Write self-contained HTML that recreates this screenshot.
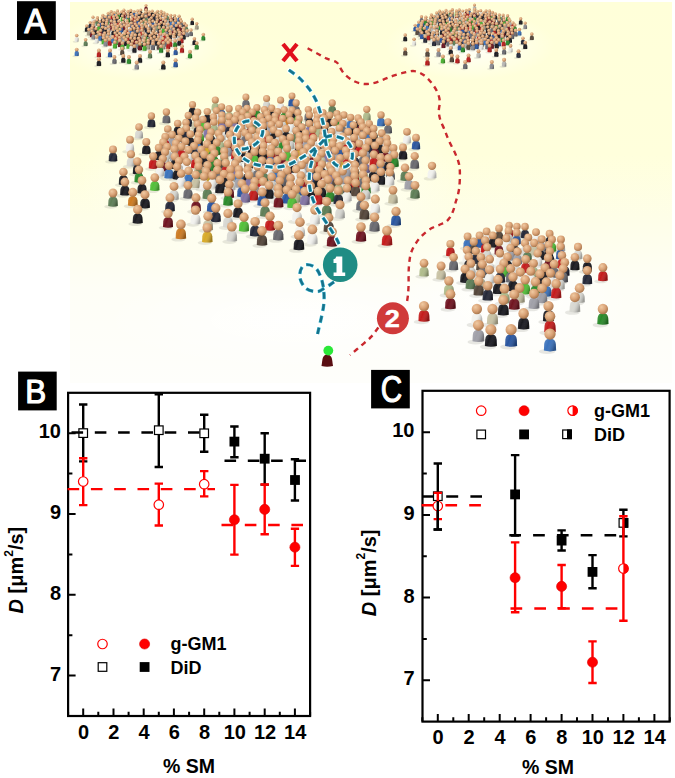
<!DOCTYPE html>
<html><head><meta charset="utf-8"><style>
html,body{margin:0;padding:0;background:#fff;width:675px;height:778px;overflow:hidden}
svg{display:block}
svg text{font-family:"Liberation Sans",sans-serif}
</style></head><body>
<svg width="675" height="778" viewBox="0 0 675 778">
<defs><linearGradient id="bg" x1="0" y1="0" x2="0" y2="1"><stop offset="0" stop-color="#ffffd9"/><stop offset="0.4" stop-color="#ffffdc"/><stop offset="0.57" stop-color="#fefee8"/><stop offset="0.75" stop-color="#fefef6"/><stop offset="1" stop-color="#fefefb"/></linearGradient><radialGradient id="sk" cx="0.36" cy="0.32" r="0.72"><stop offset="0" stop-color="#f0caa2"/><stop offset="0.55" stop-color="#d9a276"/><stop offset="1" stop-color="#a6744a"/></radialGradient><radialGradient id="fl" cx="0.5" cy="0.5" r="0.5"><stop offset="0" stop-color="#fff" stop-opacity="0.9"/><stop offset="1" stop-color="#fff" stop-opacity="0"/></radialGradient><linearGradient id="bs" x1="0" y1="0" x2="1" y2="0.4"><stop offset="0" stop-color="#fff" stop-opacity="0.18"/><stop offset="0.45" stop-color="#fff" stop-opacity="0"/><stop offset="1" stop-color="#000" stop-opacity="0.28"/></linearGradient><path id="pb" d="M-5.2 0L-4.9-5.6Q-4.5-10 0-10.2Q4.5-10 4.9-5.6L5.2 0Q0 1.4-5.2 0Z"/><path id="qb" d="M-4.6 0L-4.4-6.5Q-4-10.6 0-10.8Q4-10.6 4.4-6.5L4.6 0Q0 1.2-4.6 0Z"/><g id="p"><use href="#pb"/><use href="#pb" fill="url(#bs)"/><circle cy="-14" r="4.8" fill="url(#sk)"/></g><g id="q"><use href="#qb"/><use href="#qb" fill="url(#bs)"/><circle cy="-13.6" r="4.1" fill="url(#sk)"/></g><filter id="sf" x="-5%" y="-5%" width="110%" height="110%"><feGaussianBlur stdDeviation="0.35"/></filter><clipPath id="pa"><rect x="70" y="2" width="602" height="381"/></clipPath></defs>
<g clip-path="url(#pa)">
<rect x="70" y="2" width="602" height="381" fill="url(#bg)"/>
<ellipse cx="140" cy="45" rx="85" ry="35" fill="url(#fl)"/>
<ellipse cx="470" cy="45" rx="85" ry="35" fill="url(#fl)"/>
<ellipse cx="270" cy="180" rx="190" ry="90" fill="url(#fl)"/>
<ellipse cx="510" cy="300" rx="120" ry="70" fill="url(#fl)"/>
<ellipse cx="300" cy="320" rx="200" ry="50" fill="url(#fl)"/>
<g filter="url(#sf)"><g fill="#8a8a80" fill-opacity="0.2"><ellipse cx="473.6" cy="10.3" rx="2.6" ry="0.8"/><ellipse cx="145.1" cy="10.8" rx="2.6" ry="0.8"/><ellipse cx="473.8" cy="14.9" rx="2.7" ry="0.8"/><ellipse cx="468.4" cy="15.0" rx="2.7" ry="0.8"/><ellipse cx="451.4" cy="15.1" rx="2.7" ry="0.8"/><ellipse cx="145.3" cy="15.4" rx="2.7" ry="0.8"/><ellipse cx="458.4" cy="15.4" rx="2.7" ry="0.8"/><ellipse cx="139.9" cy="15.5" rx="2.7" ry="0.8"/><ellipse cx="122.9" cy="15.6" rx="2.7" ry="0.8"/><ellipse cx="445.0" cy="15.9" rx="2.7" ry="0.8"/><ellipse cx="465.3" cy="15.9" rx="2.7" ry="0.8"/><ellipse cx="129.9" cy="15.9" rx="2.7" ry="0.8"/><ellipse cx="479.8" cy="16.1" rx="2.7" ry="0.8"/><ellipse cx="485.1" cy="16.2" rx="2.7" ry="0.8"/><ellipse cx="116.5" cy="16.4" rx="2.7" ry="0.8"/><ellipse cx="455.4" cy="16.4" rx="2.7" ry="0.8"/><ellipse cx="136.8" cy="16.4" rx="2.7" ry="0.8"/><ellipse cx="488.7" cy="16.5" rx="2.7" ry="0.8"/><ellipse cx="461.8" cy="16.6" rx="2.7" ry="0.8"/><ellipse cx="151.3" cy="16.6" rx="2.7" ry="0.8"/><ellipse cx="156.6" cy="16.7" rx="2.7" ry="0.8"/><ellipse cx="438.7" cy="16.8" rx="2.7" ry="0.8"/><ellipse cx="449.1" cy="16.9" rx="2.7" ry="0.8"/><ellipse cx="476.7" cy="16.9" rx="2.7" ry="0.8"/><ellipse cx="126.9" cy="16.9" rx="2.7" ry="0.8"/><ellipse cx="160.2" cy="17.0" rx="2.7" ry="0.8"/><ellipse cx="133.3" cy="17.1" rx="2.7" ry="0.8"/><ellipse cx="110.2" cy="17.3" rx="2.7" ry="0.8"/><ellipse cx="120.6" cy="17.4" rx="2.7" ry="0.8"/><ellipse cx="148.2" cy="17.4" rx="2.7" ry="0.8"/><ellipse cx="473.3" cy="17.4" rx="2.7" ry="0.9"/><ellipse cx="441.8" cy="17.8" rx="2.7" ry="0.9"/><ellipse cx="144.8" cy="17.9" rx="2.7" ry="0.9"/><ellipse cx="491.5" cy="18.0" rx="2.7" ry="0.9"/><ellipse cx="482.9" cy="18.1" rx="2.7" ry="0.9"/><ellipse cx="467.0" cy="18.2" rx="2.7" ry="0.9"/><ellipse cx="113.3" cy="18.3" rx="2.7" ry="0.9"/><ellipse cx="451.3" cy="18.5" rx="2.7" ry="0.9"/><ellipse cx="445.8" cy="18.5" rx="2.7" ry="0.9"/><ellipse cx="163.0" cy="18.5" rx="2.7" ry="0.9"/><ellipse cx="435.8" cy="18.5" rx="2.7" ry="0.9"/><ellipse cx="154.4" cy="18.6" rx="2.7" ry="0.9"/><ellipse cx="138.5" cy="18.7" rx="2.7" ry="0.9"/><ellipse cx="122.8" cy="19.0" rx="2.7" ry="0.9"/><ellipse cx="117.3" cy="19.0" rx="2.7" ry="0.9"/><ellipse cx="488.2" cy="19.0" rx="2.7" ry="0.9"/><ellipse cx="107.3" cy="19.0" rx="2.7" ry="0.9"/><ellipse cx="470.3" cy="19.1" rx="2.7" ry="0.9"/><ellipse cx="459.0" cy="19.2" rx="2.7" ry="0.9"/><ellipse cx="455.6" cy="19.3" rx="2.7" ry="0.9"/><ellipse cx="439.6" cy="19.4" rx="2.7" ry="0.9"/><ellipse cx="159.7" cy="19.5" rx="2.7" ry="0.9"/><ellipse cx="494.5" cy="19.6" rx="2.7" ry="0.9"/><ellipse cx="141.8" cy="19.6" rx="2.7" ry="0.9"/><ellipse cx="477.0" cy="19.7" rx="2.7" ry="0.9"/><ellipse cx="130.5" cy="19.7" rx="2.7" ry="0.9"/><ellipse cx="485.0" cy="19.7" rx="2.7" ry="0.9"/><ellipse cx="127.1" cy="19.8" rx="2.7" ry="0.9"/><ellipse cx="111.1" cy="19.9" rx="2.7" ry="0.9"/><ellipse cx="463.7" cy="19.9" rx="2.7" ry="0.9"/><ellipse cx="166.0" cy="20.1" rx="2.7" ry="0.9"/><ellipse cx="148.5" cy="20.2" rx="2.7" ry="0.9"/><ellipse cx="156.5" cy="20.2" rx="2.7" ry="0.9"/><ellipse cx="480.8" cy="20.4" rx="2.8" ry="0.9"/><ellipse cx="135.2" cy="20.4" rx="2.7" ry="0.9"/><ellipse cx="430.4" cy="20.4" rx="2.8" ry="0.9"/><ellipse cx="498.3" cy="20.5" rx="2.8" ry="0.9"/><ellipse cx="443.8" cy="20.5" rx="2.8" ry="0.9"/><ellipse cx="490.9" cy="20.6" rx="2.8" ry="0.9"/><ellipse cx="502.1" cy="20.6" rx="2.8" ry="0.9"/><ellipse cx="152.3" cy="20.9" rx="2.8" ry="0.9"/><ellipse cx="101.9" cy="20.9" rx="2.8" ry="0.9"/><ellipse cx="169.8" cy="21.0" rx="2.8" ry="0.9"/><ellipse cx="115.3" cy="21.0" rx="2.8" ry="0.9"/><ellipse cx="449.9" cy="21.0" rx="2.8" ry="0.9"/><ellipse cx="162.4" cy="21.1" rx="2.8" ry="0.9"/><ellipse cx="173.6" cy="21.1" rx="2.8" ry="0.9"/><ellipse cx="487.5" cy="21.1" rx="2.8" ry="0.9"/><ellipse cx="469.5" cy="21.3" rx="2.8" ry="0.9"/><ellipse cx="506.6" cy="21.4" rx="2.8" ry="0.9"/><ellipse cx="460.1" cy="21.4" rx="2.8" ry="0.9"/><ellipse cx="121.4" cy="21.5" rx="2.8" ry="0.9"/><ellipse cx="473.4" cy="21.6" rx="2.8" ry="0.9"/><ellipse cx="159.0" cy="21.6" rx="2.8" ry="0.9"/><ellipse cx="141.0" cy="21.8" rx="2.8" ry="0.9"/><ellipse cx="178.1" cy="21.9" rx="2.8" ry="0.9"/><ellipse cx="131.6" cy="21.9" rx="2.8" ry="0.9"/><ellipse cx="441.1" cy="22.0" rx="2.8" ry="0.9"/><ellipse cx="455.7" cy="22.1" rx="2.8" ry="0.9"/><ellipse cx="144.9" cy="22.1" rx="2.8" ry="0.9"/><ellipse cx="433.0" cy="22.1" rx="2.8" ry="0.9"/><ellipse cx="484.6" cy="22.2" rx="2.8" ry="0.9"/><ellipse cx="420.5" cy="22.3" rx="2.7" ry="0.9"/><ellipse cx="112.6" cy="22.5" rx="2.8" ry="0.9"/><ellipse cx="436.8" cy="22.6" rx="2.8" ry="0.9"/><ellipse cx="127.2" cy="22.6" rx="2.8" ry="0.9"/><ellipse cx="104.5" cy="22.6" rx="2.8" ry="0.9"/><ellipse cx="493.1" cy="22.6" rx="2.8" ry="0.9"/><ellipse cx="156.1" cy="22.7" rx="2.8" ry="0.9"/><ellipse cx="466.4" cy="22.7" rx="2.8" ry="0.9"/><ellipse cx="92.0" cy="22.8" rx="2.7" ry="0.9"/><ellipse cx="462.9" cy="22.8" rx="2.8" ry="0.9"/><ellipse cx="424.9" cy="22.9" rx="2.8" ry="0.9"/><ellipse cx="445.0" cy="23.1" rx="2.8" ry="0.9"/><ellipse cx="108.3" cy="23.1" rx="2.8" ry="0.9"/><ellipse cx="478.9" cy="23.1" rx="2.8" ry="0.9"/><ellipse cx="164.6" cy="23.1" rx="2.8" ry="0.9"/><ellipse cx="497.9" cy="23.2" rx="2.8" ry="0.9"/><ellipse cx="429.6" cy="23.2" rx="2.8" ry="0.9"/><ellipse cx="137.9" cy="23.2" rx="2.8" ry="0.9"/><ellipse cx="134.4" cy="23.3" rx="2.8" ry="0.9"/><ellipse cx="96.4" cy="23.4" rx="2.8" ry="0.9"/><ellipse cx="116.5" cy="23.6" rx="2.8" ry="0.9"/><ellipse cx="150.4" cy="23.6" rx="2.8" ry="0.9"/><ellipse cx="488.2" cy="23.6" rx="2.8" ry="0.9"/><ellipse cx="502.7" cy="23.6" rx="2.8" ry="0.9"/><ellipse cx="169.4" cy="23.7" rx="2.8" ry="0.9"/><ellipse cx="101.1" cy="23.7" rx="2.8" ry="0.9"/><ellipse cx="159.7" cy="24.1" rx="2.8" ry="0.9"/><ellipse cx="174.2" cy="24.1" rx="2.8" ry="0.9"/><ellipse cx="441.8" cy="24.2" rx="2.8" ry="0.9"/><ellipse cx="450.9" cy="24.3" rx="2.8" ry="0.9"/><ellipse cx="507.8" cy="24.4" rx="2.8" ry="0.9"/><ellipse cx="459.0" cy="24.4" rx="2.8" ry="0.9"/><ellipse cx="519.7" cy="24.5" rx="2.8" ry="0.9"/><ellipse cx="491.3" cy="24.6" rx="2.8" ry="0.9"/><ellipse cx="113.3" cy="24.7" rx="2.8" ry="0.9"/><ellipse cx="122.4" cy="24.8" rx="2.8" ry="0.9"/><ellipse cx="465.0" cy="24.9" rx="2.8" ry="0.9"/><ellipse cx="179.3" cy="24.9" rx="2.8" ry="0.9"/><ellipse cx="130.5" cy="24.9" rx="2.8" ry="0.9"/><ellipse cx="484.9" cy="24.9" rx="2.8" ry="0.9"/><ellipse cx="191.2" cy="25.0" rx="2.8" ry="0.9"/><ellipse cx="476.9" cy="25.1" rx="2.8" ry="0.9"/><ellipse cx="434.4" cy="25.1" rx="2.8" ry="0.9"/><ellipse cx="471.4" cy="25.1" rx="2.8" ry="0.9"/><ellipse cx="162.8" cy="25.1" rx="2.8" ry="0.9"/><ellipse cx="424.4" cy="25.2" rx="2.8" ry="0.9"/><ellipse cx="136.5" cy="25.4" rx="2.8" ry="0.9"/><ellipse cx="156.4" cy="25.4" rx="2.8" ry="0.9"/><ellipse cx="148.4" cy="25.6" rx="2.8" ry="0.9"/><ellipse cx="105.9" cy="25.6" rx="2.8" ry="0.9"/><ellipse cx="498.5" cy="25.6" rx="2.8" ry="0.9"/><ellipse cx="142.9" cy="25.6" rx="2.8" ry="0.9"/><ellipse cx="95.9" cy="25.7" rx="2.8" ry="0.9"/><ellipse cx="430.9" cy="25.8" rx="2.8" ry="0.9"/><ellipse cx="502.9" cy="25.8" rx="2.8" ry="0.9"/><ellipse cx="170.0" cy="26.1" rx="2.8" ry="0.9"/><ellipse cx="454.6" cy="26.1" rx="2.8" ry="0.9"/><ellipse cx="102.4" cy="26.3" rx="2.8" ry="0.9"/><ellipse cx="174.4" cy="26.3" rx="2.8" ry="0.9"/><ellipse cx="462.5" cy="26.4" rx="2.8" ry="0.9"/><ellipse cx="480.3" cy="26.4" rx="2.8" ry="0.9"/><ellipse cx="493.0" cy="26.5" rx="2.8" ry="0.9"/><ellipse cx="438.8" cy="26.6" rx="2.8" ry="0.9"/><ellipse cx="126.1" cy="26.6" rx="2.8" ry="0.9"/><ellipse cx="508.8" cy="26.6" rx="2.8" ry="0.9"/><ellipse cx="446.3" cy="26.7" rx="2.8" ry="0.9"/><ellipse cx="468.8" cy="26.7" rx="2.8" ry="0.9"/><ellipse cx="134.0" cy="26.9" rx="2.8" ry="0.9"/><ellipse cx="151.8" cy="26.9" rx="2.8" ry="0.9"/><ellipse cx="427.3" cy="27.0" rx="2.9" ry="0.9"/><ellipse cx="164.5" cy="27.0" rx="2.8" ry="0.9"/><ellipse cx="110.3" cy="27.1" rx="2.8" ry="0.9"/><ellipse cx="180.3" cy="27.1" rx="2.8" ry="0.9"/><ellipse cx="117.8" cy="27.2" rx="2.8" ry="0.9"/><ellipse cx="421.4" cy="27.2" rx="2.9" ry="0.9"/><ellipse cx="140.3" cy="27.2" rx="2.8" ry="0.9"/><ellipse cx="484.2" cy="27.3" rx="2.9" ry="0.9"/><ellipse cx="473.4" cy="27.3" rx="2.9" ry="0.9"/><ellipse cx="434.1" cy="27.3" rx="2.9" ry="0.9"/><ellipse cx="442.1" cy="27.4" rx="2.9" ry="0.9"/><ellipse cx="98.8" cy="27.5" rx="2.9" ry="0.9"/><ellipse cx="92.9" cy="27.7" rx="2.9" ry="0.9"/><ellipse cx="450.6" cy="27.7" rx="2.9" ry="0.9"/><ellipse cx="477.0" cy="27.8" rx="2.9" ry="0.9"/><ellipse cx="488.7" cy="27.8" rx="2.9" ry="0.9"/><ellipse cx="155.7" cy="27.8" rx="2.9" ry="0.9"/><ellipse cx="144.9" cy="27.8" rx="2.9" ry="0.9"/><ellipse cx="105.6" cy="27.8" rx="2.9" ry="0.9"/><ellipse cx="113.6" cy="27.9" rx="2.9" ry="0.9"/><ellipse cx="417.6" cy="28.0" rx="2.9" ry="0.9"/><ellipse cx="122.1" cy="28.2" rx="2.9" ry="0.9"/><ellipse cx="148.5" cy="28.3" rx="2.9" ry="0.9"/><ellipse cx="160.2" cy="28.3" rx="2.9" ry="0.9"/><ellipse cx="454.7" cy="28.3" rx="2.9" ry="0.9"/><ellipse cx="89.1" cy="28.5" rx="2.9" ry="0.9"/><ellipse cx="458.9" cy="28.6" rx="2.9" ry="0.9"/><ellipse cx="506.4" cy="28.6" rx="2.9" ry="0.9"/><ellipse cx="500.7" cy="28.8" rx="2.9" ry="0.9"/><ellipse cx="512.0" cy="28.8" rx="2.9" ry="0.9"/><ellipse cx="126.2" cy="28.8" rx="2.9" ry="0.9"/><ellipse cx="466.8" cy="29.0" rx="2.9" ry="0.9"/><ellipse cx="524.2" cy="29.0" rx="2.8" ry="0.9"/><ellipse cx="130.4" cy="29.1" rx="2.9" ry="0.9"/><ellipse cx="177.9" cy="29.1" rx="2.9" ry="0.9"/><ellipse cx="491.8" cy="29.2" rx="2.9" ry="0.9"/><ellipse cx="172.2" cy="29.3" rx="2.9" ry="0.9"/><ellipse cx="183.5" cy="29.3" rx="2.9" ry="0.9"/><ellipse cx="429.9" cy="29.3" rx="2.9" ry="0.9"/><ellipse cx="420.7" cy="29.4" rx="2.9" ry="0.9"/><ellipse cx="462.8" cy="29.4" rx="2.9" ry="0.9"/><ellipse cx="138.3" cy="29.5" rx="2.9" ry="0.9"/><ellipse cx="195.7" cy="29.5" rx="2.8" ry="0.9"/><ellipse cx="433.6" cy="29.6" rx="2.9" ry="0.9"/><ellipse cx="495.6" cy="29.7" rx="2.9" ry="0.9"/><ellipse cx="163.3" cy="29.7" rx="2.9" ry="0.9"/><ellipse cx="486.6" cy="29.7" rx="2.9" ry="0.9"/><ellipse cx="101.4" cy="29.8" rx="2.9" ry="0.9"/><ellipse cx="472.4" cy="29.8" rx="2.9" ry="0.9"/><ellipse cx="447.3" cy="29.9" rx="2.9" ry="0.9"/><ellipse cx="92.2" cy="29.9" rx="2.9" ry="0.9"/><ellipse cx="442.9" cy="29.9" rx="2.9" ry="0.9"/><ellipse cx="134.3" cy="29.9" rx="2.9" ry="0.9"/><ellipse cx="477.9" cy="30.0" rx="2.9" ry="0.9"/><ellipse cx="105.1" cy="30.1" rx="2.9" ry="0.9"/><ellipse cx="167.1" cy="30.2" rx="2.9" ry="0.9"/><ellipse cx="158.1" cy="30.2" rx="2.9" ry="0.9"/><ellipse cx="483.1" cy="30.3" rx="2.9" ry="0.9"/><ellipse cx="143.9" cy="30.3" rx="2.9" ry="0.9"/><ellipse cx="118.8" cy="30.4" rx="2.9" ry="0.9"/><ellipse cx="114.4" cy="30.4" rx="2.9" ry="0.9"/><ellipse cx="451.8" cy="30.4" rx="2.9" ry="0.9"/><ellipse cx="439.3" cy="30.4" rx="2.9" ry="0.9"/><ellipse cx="426.1" cy="30.4" rx="2.9" ry="0.9"/><ellipse cx="149.4" cy="30.5" rx="2.9" ry="0.9"/><ellipse cx="154.6" cy="30.8" rx="2.9" ry="0.9"/><ellipse cx="468.8" cy="30.8" rx="2.9" ry="0.9"/><ellipse cx="123.3" cy="30.9" rx="2.9" ry="0.9"/><ellipse cx="110.8" cy="30.9" rx="2.9" ry="0.9"/><ellipse cx="97.6" cy="30.9" rx="2.9" ry="0.9"/><ellipse cx="456.4" cy="31.0" rx="2.9" ry="0.9"/><ellipse cx="503.8" cy="31.1" rx="2.9" ry="0.9"/><ellipse cx="513.7" cy="31.1" rx="2.9" ry="0.9"/><ellipse cx="414.2" cy="31.2" rx="2.9" ry="0.9"/><ellipse cx="140.3" cy="31.3" rx="2.9" ry="0.9"/><ellipse cx="464.3" cy="31.5" rx="2.9" ry="0.9"/><ellipse cx="127.9" cy="31.5" rx="2.9" ry="0.9"/><ellipse cx="507.7" cy="31.6" rx="2.9" ry="0.9"/><ellipse cx="175.3" cy="31.6" rx="2.9" ry="0.9"/><ellipse cx="420.2" cy="31.6" rx="2.9" ry="0.9"/><ellipse cx="185.2" cy="31.6" rx="2.9" ry="0.9"/><ellipse cx="85.7" cy="31.7" rx="2.9" ry="0.9"/><ellipse cx="445.3" cy="31.7" rx="2.9" ry="0.9"/><ellipse cx="480.5" cy="31.9" rx="2.9" ry="0.9"/><ellipse cx="448.9" cy="31.9" rx="2.9" ry="0.9"/><ellipse cx="460.1" cy="31.9" rx="2.9" ry="0.9"/><ellipse cx="135.8" cy="32.0" rx="2.9" ry="0.9"/><ellipse cx="499.0" cy="32.0" rx="2.9" ry="0.9"/><ellipse cx="179.2" cy="32.1" rx="2.9" ry="0.9"/><ellipse cx="91.7" cy="32.1" rx="2.9" ry="0.9"/><ellipse cx="473.9" cy="32.1" rx="2.9" ry="0.9"/><ellipse cx="116.8" cy="32.2" rx="2.9" ry="0.9"/><ellipse cx="152.0" cy="32.4" rx="2.9" ry="0.9"/><ellipse cx="120.4" cy="32.4" rx="2.9" ry="0.9"/><ellipse cx="131.6" cy="32.4" rx="2.9" ry="0.9"/><ellipse cx="436.0" cy="32.5" rx="2.9" ry="0.9"/><ellipse cx="170.5" cy="32.5" rx="2.9" ry="0.9"/><ellipse cx="145.4" cy="32.6" rx="2.9" ry="0.9"/><ellipse cx="453.9" cy="32.7" rx="2.9" ry="0.9"/><ellipse cx="430.0" cy="32.8" rx="2.9" ry="0.9"/><ellipse cx="440.8" cy="32.9" rx="2.9" ry="0.9"/><ellipse cx="491.0" cy="32.9" rx="2.9" ry="0.9"/><ellipse cx="107.5" cy="33.0" rx="2.9" ry="0.9"/><ellipse cx="486.7" cy="33.1" rx="2.9" ry="0.9"/><ellipse cx="125.4" cy="33.2" rx="2.9" ry="0.9"/><ellipse cx="469.5" cy="33.2" rx="2.9" ry="0.9"/><ellipse cx="101.5" cy="33.3" rx="2.9" ry="0.9"/><ellipse cx="112.3" cy="33.4" rx="2.9" ry="0.9"/><ellipse cx="511.5" cy="33.4" rx="2.9" ry="0.9"/><ellipse cx="162.5" cy="33.4" rx="2.9" ry="0.9"/><ellipse cx="495.1" cy="33.5" rx="2.9" ry="0.9"/><ellipse cx="158.2" cy="33.6" rx="2.9" ry="0.9"/><ellipse cx="141.0" cy="33.7" rx="2.9" ry="0.9"/><ellipse cx="419.3" cy="33.8" rx="3.0" ry="0.9"/><ellipse cx="183.0" cy="33.9" rx="2.9" ry="0.9"/><ellipse cx="444.1" cy="33.9" rx="3.0" ry="0.9"/><ellipse cx="433.2" cy="33.9" rx="3.0" ry="0.9"/><ellipse cx="166.6" cy="34.0" rx="2.9" ry="0.9"/><ellipse cx="465.3" cy="34.1" rx="3.0" ry="0.9"/><ellipse cx="461.7" cy="34.1" rx="3.0" ry="0.9"/><ellipse cx="423.4" cy="34.2" rx="3.0" ry="0.9"/><ellipse cx="90.8" cy="34.3" rx="3.0" ry="0.9"/><ellipse cx="475.6" cy="34.4" rx="3.0" ry="0.9"/><ellipse cx="115.6" cy="34.4" rx="3.0" ry="0.9"/><ellipse cx="104.7" cy="34.4" rx="3.0" ry="0.9"/><ellipse cx="481.5" cy="34.5" rx="3.0" ry="0.9"/><ellipse cx="136.8" cy="34.6" rx="3.0" ry="0.9"/><ellipse cx="133.2" cy="34.6" rx="3.0" ry="0.9"/><ellipse cx="501.3" cy="34.6" rx="3.0" ry="0.9"/><ellipse cx="94.9" cy="34.7" rx="3.0" ry="0.9"/><ellipse cx="447.5" cy="34.8" rx="3.0" ry="0.9"/><ellipse cx="147.1" cy="34.9" rx="3.0" ry="0.9"/><ellipse cx="454.1" cy="34.9" rx="3.0" ry="0.9"/><ellipse cx="458.3" cy="35.0" rx="3.0" ry="0.9"/><ellipse cx="153.0" cy="35.0" rx="3.0" ry="0.9"/><ellipse cx="172.8" cy="35.1" rx="3.0" ry="0.9"/><ellipse cx="440.7" cy="35.2" rx="3.0" ry="0.9"/><ellipse cx="416.2" cy="35.2" rx="3.0" ry="0.9"/><ellipse cx="119.0" cy="35.3" rx="3.0" ry="0.9"/><ellipse cx="125.6" cy="35.4" rx="3.0" ry="0.9"/><ellipse cx="129.8" cy="35.5" rx="3.0" ry="0.9"/><ellipse cx="505.6" cy="35.6" rx="3.0" ry="0.9"/><ellipse cx="518.4" cy="35.6" rx="2.9" ry="0.9"/><ellipse cx="112.2" cy="35.7" rx="3.0" ry="0.9"/><ellipse cx="87.7" cy="35.7" rx="3.0" ry="0.9"/><ellipse cx="493.5" cy="35.8" rx="3.0" ry="0.9"/><ellipse cx="469.3" cy="36.0" rx="3.0" ry="0.9"/><ellipse cx="177.1" cy="36.1" rx="3.0" ry="0.9"/><ellipse cx="189.9" cy="36.1" rx="2.9" ry="0.9"/><ellipse cx="510.7" cy="36.2" rx="3.0" ry="0.9"/><ellipse cx="428.1" cy="36.2" rx="3.0" ry="0.9"/><ellipse cx="165.0" cy="36.3" rx="3.0" ry="0.9"/><ellipse cx="140.8" cy="36.5" rx="3.0" ry="0.9"/><ellipse cx="514.6" cy="36.6" rx="3.0" ry="0.9"/><ellipse cx="487.7" cy="36.6" rx="3.0" ry="0.9"/><ellipse cx="182.2" cy="36.7" rx="3.0" ry="0.9"/><ellipse cx="99.6" cy="36.7" rx="3.0" ry="0.9"/><ellipse cx="445.0" cy="36.8" rx="3.0" ry="0.9"/><ellipse cx="464.9" cy="36.8" rx="3.0" ry="0.9"/><ellipse cx="480.8" cy="36.8" rx="3.0" ry="0.9"/><ellipse cx="435.8" cy="36.9" rx="3.0" ry="0.9"/><ellipse cx="419.3" cy="36.9" rx="3.0" ry="0.9"/><ellipse cx="476.1" cy="36.9" rx="3.0" ry="0.9"/><ellipse cx="497.3" cy="36.9" rx="3.0" ry="0.9"/><ellipse cx="186.1" cy="37.1" rx="3.0" ry="0.9"/><ellipse cx="159.2" cy="37.1" rx="3.0" ry="0.9"/><ellipse cx="452.7" cy="37.1" rx="3.0" ry="0.9"/><ellipse cx="116.5" cy="37.3" rx="3.0" ry="0.9"/><ellipse cx="136.4" cy="37.3" rx="3.0" ry="0.9"/><ellipse cx="502.4" cy="37.3" rx="3.0" ry="0.9"/><ellipse cx="152.3" cy="37.3" rx="3.0" ry="0.9"/><ellipse cx="107.3" cy="37.4" rx="3.0" ry="0.9"/><ellipse cx="90.8" cy="37.4" rx="3.0" ry="0.9"/><ellipse cx="147.6" cy="37.4" rx="3.0" ry="0.9"/><ellipse cx="168.8" cy="37.4" rx="3.0" ry="0.9"/><ellipse cx="124.2" cy="37.6" rx="3.0" ry="0.9"/><ellipse cx="173.9" cy="37.8" rx="3.0" ry="0.9"/><ellipse cx="507.0" cy="38.1" rx="3.0" ry="0.9"/><ellipse cx="425.5" cy="38.1" rx="3.0" ry="0.9"/><ellipse cx="178.5" cy="38.6" rx="3.0" ry="0.9"/><ellipse cx="97.0" cy="38.6" rx="3.0" ry="0.9"/><ellipse cx="442.5" cy="38.7" rx="3.0" ry="1.0"/><ellipse cx="432.1" cy="38.7" rx="3.0" ry="1.0"/><ellipse cx="470.7" cy="38.8" rx="3.0" ry="1.0"/><ellipse cx="483.2" cy="38.8" rx="3.0" ry="1.0"/><ellipse cx="460.0" cy="38.9" rx="3.0" ry="1.0"/><ellipse cx="455.7" cy="39.0" rx="3.0" ry="1.0"/><ellipse cx="420.8" cy="39.1" rx="3.0" ry="1.0"/><ellipse cx="511.1" cy="39.2" rx="3.0" ry="1.0"/><ellipse cx="114.0" cy="39.2" rx="3.0" ry="1.0"/><ellipse cx="103.6" cy="39.2" rx="3.0" ry="1.0"/><ellipse cx="447.1" cy="39.3" rx="3.0" ry="1.0"/><ellipse cx="142.2" cy="39.3" rx="3.0" ry="1.0"/><ellipse cx="154.7" cy="39.3" rx="3.0" ry="1.0"/><ellipse cx="131.5" cy="39.4" rx="3.0" ry="1.0"/><ellipse cx="479.6" cy="39.5" rx="3.0" ry="1.0"/><ellipse cx="127.2" cy="39.5" rx="3.0" ry="1.0"/><ellipse cx="451.9" cy="39.5" rx="3.0" ry="1.0"/><ellipse cx="488.0" cy="39.6" rx="3.0" ry="1.0"/><ellipse cx="497.6" cy="39.6" rx="3.0" ry="1.0"/><ellipse cx="92.3" cy="39.6" rx="3.0" ry="1.0"/><ellipse cx="435.9" cy="39.6" rx="3.0" ry="1.0"/><ellipse cx="182.6" cy="39.7" rx="3.0" ry="1.0"/><ellipse cx="492.0" cy="39.7" rx="3.0" ry="1.0"/><ellipse cx="118.6" cy="39.8" rx="3.0" ry="1.0"/><ellipse cx="151.1" cy="40.0" rx="3.0" ry="1.0"/><ellipse cx="123.4" cy="40.0" rx="3.0" ry="1.0"/><ellipse cx="501.3" cy="40.0" rx="3.0" ry="1.0"/><ellipse cx="159.5" cy="40.1" rx="3.0" ry="1.0"/><ellipse cx="169.1" cy="40.1" rx="3.0" ry="1.0"/><ellipse cx="107.4" cy="40.1" rx="3.0" ry="1.0"/><ellipse cx="530.7" cy="40.1" rx="3.0" ry="0.9"/><ellipse cx="163.5" cy="40.2" rx="3.0" ry="1.0"/><ellipse cx="427.4" cy="40.3" rx="3.1" ry="1.0"/><ellipse cx="172.8" cy="40.5" rx="3.0" ry="1.0"/><ellipse cx="506.9" cy="40.6" rx="3.1" ry="1.0"/><ellipse cx="202.2" cy="40.6" rx="3.0" ry="0.9"/><ellipse cx="466.9" cy="40.7" rx="3.1" ry="1.0"/><ellipse cx="98.9" cy="40.8" rx="3.1" ry="1.0"/><ellipse cx="473.2" cy="40.8" rx="3.1" ry="1.0"/><ellipse cx="462.7" cy="40.9" rx="3.1" ry="1.0"/><ellipse cx="178.4" cy="41.1" rx="3.1" ry="1.0"/><ellipse cx="138.4" cy="41.2" rx="3.1" ry="1.0"/><ellipse cx="431.0" cy="41.2" rx="3.1" ry="1.0"/><ellipse cx="449.1" cy="41.2" rx="3.1" ry="1.0"/><ellipse cx="404.1" cy="41.2" rx="3.0" ry="1.0"/><ellipse cx="444.3" cy="41.3" rx="3.1" ry="1.0"/><ellipse cx="144.7" cy="41.3" rx="3.1" ry="1.0"/><ellipse cx="459.0" cy="41.4" rx="3.1" ry="1.0"/><ellipse cx="134.2" cy="41.4" rx="3.1" ry="1.0"/><ellipse cx="494.5" cy="41.5" rx="3.1" ry="1.0"/><ellipse cx="477.4" cy="41.6" rx="3.1" ry="1.0"/><ellipse cx="102.5" cy="41.7" rx="3.1" ry="1.0"/><ellipse cx="120.6" cy="41.7" rx="3.1" ry="1.0"/><ellipse cx="75.6" cy="41.7" rx="3.0" ry="1.0"/><ellipse cx="115.8" cy="41.8" rx="3.1" ry="1.0"/><ellipse cx="130.5" cy="41.9" rx="3.1" ry="1.0"/><ellipse cx="166.0" cy="42.0" rx="3.1" ry="1.0"/><ellipse cx="148.9" cy="42.1" rx="3.1" ry="1.0"/><ellipse cx="454.9" cy="42.3" rx="3.1" ry="1.0"/><ellipse cx="501.4" cy="42.5" rx="3.1" ry="1.0"/><ellipse cx="424.1" cy="42.7" rx="3.1" ry="1.0"/><ellipse cx="440.1" cy="42.7" rx="3.1" ry="1.0"/><ellipse cx="481.7" cy="42.8" rx="3.1" ry="1.0"/><ellipse cx="126.4" cy="42.8" rx="3.1" ry="1.0"/><ellipse cx="485.8" cy="42.9" rx="3.1" ry="1.0"/><ellipse cx="508.9" cy="42.9" rx="3.1" ry="1.0"/><ellipse cx="172.9" cy="43.0" rx="3.1" ry="1.0"/><ellipse cx="434.8" cy="43.2" rx="3.1" ry="1.0"/><ellipse cx="95.6" cy="43.2" rx="3.1" ry="1.0"/><ellipse cx="111.6" cy="43.2" rx="3.1" ry="1.0"/><ellipse cx="153.2" cy="43.3" rx="3.1" ry="1.0"/><ellipse cx="446.9" cy="43.4" rx="3.1" ry="1.0"/><ellipse cx="157.3" cy="43.4" rx="3.1" ry="1.0"/><ellipse cx="180.4" cy="43.4" rx="3.1" ry="1.0"/><ellipse cx="451.5" cy="43.5" rx="3.1" ry="1.0"/><ellipse cx="106.3" cy="43.7" rx="3.1" ry="1.0"/><ellipse cx="431.0" cy="43.8" rx="3.1" ry="1.0"/><ellipse cx="118.4" cy="43.9" rx="3.1" ry="1.0"/><ellipse cx="472.1" cy="44.0" rx="3.1" ry="1.0"/><ellipse cx="458.2" cy="44.0" rx="3.1" ry="1.0"/><ellipse cx="123.0" cy="44.0" rx="3.1" ry="1.0"/><ellipse cx="466.0" cy="44.1" rx="3.1" ry="1.0"/><ellipse cx="495.5" cy="44.2" rx="3.1" ry="1.0"/><ellipse cx="102.5" cy="44.3" rx="3.1" ry="1.0"/><ellipse cx="490.1" cy="44.4" rx="3.1" ry="1.0"/><ellipse cx="462.1" cy="44.4" rx="3.1" ry="1.0"/><ellipse cx="478.5" cy="44.4" rx="3.1" ry="1.0"/><ellipse cx="143.6" cy="44.5" rx="3.1" ry="1.0"/><ellipse cx="129.7" cy="44.5" rx="3.1" ry="1.0"/><ellipse cx="521.8" cy="44.6" rx="3.1" ry="1.0"/><ellipse cx="137.5" cy="44.6" rx="3.1" ry="1.0"/><ellipse cx="167.0" cy="44.7" rx="3.1" ry="1.0"/><ellipse cx="443.1" cy="44.7" rx="3.1" ry="1.0"/><ellipse cx="161.6" cy="44.9" rx="3.1" ry="1.0"/><ellipse cx="133.6" cy="44.9" rx="3.1" ry="1.0"/><ellipse cx="150.0" cy="44.9" rx="3.1" ry="1.0"/><ellipse cx="193.3" cy="45.1" rx="3.1" ry="1.0"/><ellipse cx="114.6" cy="45.2" rx="3.1" ry="1.0"/><ellipse cx="506.6" cy="45.2" rx="3.1" ry="1.0"/><ellipse cx="436.9" cy="45.4" rx="3.1" ry="1.0"/><ellipse cx="484.1" cy="45.4" rx="3.1" ry="1.0"/><ellipse cx="413.0" cy="45.7" rx="3.1" ry="1.0"/><ellipse cx="453.3" cy="45.7" rx="3.1" ry="1.0"/><ellipse cx="178.1" cy="45.7" rx="3.1" ry="1.0"/><ellipse cx="108.4" cy="45.9" rx="3.1" ry="1.0"/><ellipse cx="155.6" cy="45.9" rx="3.1" ry="1.0"/><ellipse cx="84.5" cy="46.2" rx="3.1" ry="1.0"/><ellipse cx="124.8" cy="46.2" rx="3.1" ry="1.0"/><ellipse cx="432.9" cy="46.2" rx="3.1" ry="1.0"/><ellipse cx="493.6" cy="46.3" rx="3.1" ry="1.0"/><ellipse cx="497.7" cy="46.3" rx="3.1" ry="1.0"/><ellipse cx="475.6" cy="46.4" rx="3.1" ry="1.0"/><ellipse cx="447.3" cy="46.6" rx="3.1" ry="1.0"/><ellipse cx="502.4" cy="46.6" rx="3.1" ry="1.0"/><ellipse cx="104.4" cy="46.7" rx="3.1" ry="1.0"/><ellipse cx="165.1" cy="46.8" rx="3.1" ry="1.0"/><ellipse cx="169.2" cy="46.8" rx="3.1" ry="1.0"/><ellipse cx="471.4" cy="46.8" rx="3.1" ry="1.0"/><ellipse cx="467.3" cy="46.8" rx="3.2" ry="1.0"/><ellipse cx="147.1" cy="46.9" rx="3.1" ry="1.0"/><ellipse cx="487.3" cy="47.0" rx="3.2" ry="1.0"/><ellipse cx="480.5" cy="47.0" rx="3.2" ry="1.0"/><ellipse cx="118.8" cy="47.1" rx="3.1" ry="1.0"/><ellipse cx="459.8" cy="47.1" rx="3.2" ry="1.0"/><ellipse cx="173.9" cy="47.1" rx="3.1" ry="1.0"/><ellipse cx="142.9" cy="47.3" rx="3.1" ry="1.0"/><ellipse cx="138.8" cy="47.3" rx="3.2" ry="1.0"/><ellipse cx="158.8" cy="47.5" rx="3.2" ry="1.0"/><ellipse cx="152.0" cy="47.5" rx="3.2" ry="1.0"/><ellipse cx="131.3" cy="47.6" rx="3.2" ry="1.0"/><ellipse cx="442.2" cy="48.1" rx="3.2" ry="1.0"/><ellipse cx="464.0" cy="48.2" rx="3.2" ry="1.0"/><ellipse cx="455.7" cy="48.3" rx="3.2" ry="1.0"/><ellipse cx="495.6" cy="48.6" rx="3.2" ry="1.0"/><ellipse cx="113.7" cy="48.6" rx="3.2" ry="1.0"/><ellipse cx="135.5" cy="48.7" rx="3.2" ry="1.0"/><ellipse cx="490.7" cy="48.8" rx="3.2" ry="1.0"/><ellipse cx="127.2" cy="48.8" rx="3.2" ry="1.0"/><ellipse cx="524.1" cy="49.1" rx="3.1" ry="1.0"/><ellipse cx="167.1" cy="49.1" rx="3.2" ry="1.0"/><ellipse cx="475.5" cy="49.2" rx="3.2" ry="1.0"/><ellipse cx="449.7" cy="49.2" rx="3.2" ry="1.0"/><ellipse cx="162.2" cy="49.3" rx="3.2" ry="1.0"/><ellipse cx="486.2" cy="49.4" rx="3.2" ry="1.0"/><ellipse cx="195.6" cy="49.6" rx="3.1" ry="1.0"/><ellipse cx="480.3" cy="49.6" rx="3.2" ry="1.0"/><ellipse cx="147.0" cy="49.7" rx="3.2" ry="1.0"/><ellipse cx="121.2" cy="49.7" rx="3.2" ry="1.0"/><ellipse cx="157.7" cy="49.9" rx="3.2" ry="1.0"/><ellipse cx="467.3" cy="50.0" rx="3.2" ry="1.0"/><ellipse cx="151.8" cy="50.1" rx="3.2" ry="1.0"/><ellipse cx="458.7" cy="50.3" rx="3.2" ry="1.0"/><ellipse cx="471.9" cy="50.4" rx="3.2" ry="1.0"/><ellipse cx="138.8" cy="50.5" rx="3.2" ry="1.0"/><ellipse cx="130.2" cy="50.8" rx="3.2" ry="1.0"/><ellipse cx="143.4" cy="50.9" rx="3.2" ry="1.0"/><ellipse cx="461.8" cy="52.4" rx="3.2" ry="1.0"/><ellipse cx="488.5" cy="52.4" rx="3.2" ry="1.0"/><ellipse cx="509.4" cy="52.4" rx="3.2" ry="1.0"/><ellipse cx="133.3" cy="52.9" rx="3.2" ry="1.0"/><ellipse cx="160.0" cy="52.9" rx="3.2" ry="1.0"/><ellipse cx="180.9" cy="52.9" rx="3.2" ry="1.0"/><ellipse cx="449.5" cy="54.6" rx="3.2" ry="1.0"/><ellipse cx="502.9" cy="54.6" rx="3.2" ry="1.0"/><ellipse cx="121.0" cy="55.1" rx="3.2" ry="1.0"/><ellipse cx="174.4" cy="55.1" rx="3.2" ry="1.0"/><ellipse cx="404.0" cy="55.7" rx="3.2" ry="1.0"/><ellipse cx="75.5" cy="56.2" rx="3.2" ry="1.0"/><ellipse cx="426.2" cy="56.8" rx="3.3" ry="1.0"/><ellipse cx="437.3" cy="56.8" rx="3.3" ry="1.0"/><ellipse cx="495.1" cy="56.8" rx="3.3" ry="1.0"/><ellipse cx="97.7" cy="57.3" rx="3.3" ry="1.0"/><ellipse cx="108.8" cy="57.3" rx="3.3" ry="1.0"/><ellipse cx="166.6" cy="57.3" rx="3.3" ry="1.0"/><ellipse cx="477.3" cy="58.0" rx="3.3" ry="1.0"/><ellipse cx="517.3" cy="58.0" rx="3.3" ry="1.0"/><ellipse cx="148.8" cy="58.5" rx="3.3" ry="1.0"/><ellipse cx="188.8" cy="58.5" rx="3.3" ry="1.0"/><ellipse cx="450.6" cy="62.4" rx="3.3" ry="1.1"/><ellipse cx="467.3" cy="62.4" rx="3.3" ry="1.1"/><ellipse cx="122.1" cy="62.9" rx="3.3" ry="1.1"/><ellipse cx="138.8" cy="62.9" rx="3.3" ry="1.1"/><ellipse cx="441.7" cy="63.5" rx="3.4" ry="1.1"/><ellipse cx="456.2" cy="63.5" rx="3.4" ry="1.1"/><ellipse cx="113.2" cy="64.0" rx="3.4" ry="1.1"/><ellipse cx="127.7" cy="64.0" rx="3.4" ry="1.1"/><ellipse cx="426.2" cy="65.7" rx="3.4" ry="1.1"/><ellipse cx="97.7" cy="66.2" rx="3.4" ry="1.1"/><ellipse cx="502.9" cy="66.8" rx="3.4" ry="1.1"/><ellipse cx="174.4" cy="67.3" rx="3.4" ry="1.1"/><ellipse cx="464.0" cy="69.1" rx="3.4" ry="1.1"/><ellipse cx="490.6" cy="69.1" rx="3.4" ry="1.1"/><ellipse cx="135.5" cy="69.6" rx="3.4" ry="1.1"/><ellipse cx="162.1" cy="69.6" rx="3.4" ry="1.1"/><ellipse cx="290.2" cy="106.6" rx="5.0" ry="1.6"/><ellipse cx="244.0" cy="107.9" rx="5.1" ry="1.6"/><ellipse cx="264.7" cy="109.4" rx="5.2" ry="1.6"/><ellipse cx="213.4" cy="110.9" rx="5.2" ry="1.6"/><ellipse cx="278.7" cy="111.1" rx="5.2" ry="1.6"/><ellipse cx="294.2" cy="114.0" rx="5.2" ry="1.6"/><ellipse cx="330.3" cy="114.0" rx="5.2" ry="1.6"/><ellipse cx="190.7" cy="115.8" rx="5.3" ry="1.7"/><ellipse cx="219.7" cy="118.1" rx="5.3" ry="1.7"/><ellipse cx="255.0" cy="118.9" rx="5.3" ry="1.7"/><ellipse cx="269.8" cy="119.5" rx="5.3" ry="1.7"/><ellipse cx="245.2" cy="119.6" rx="5.3" ry="1.7"/><ellipse cx="236.8" cy="119.7" rx="5.3" ry="1.7"/><ellipse cx="227.2" cy="120.0" rx="5.3" ry="1.7"/><ellipse cx="364.9" cy="120.6" rx="5.3" ry="1.7"/><ellipse cx="306.4" cy="120.8" rx="5.3" ry="1.7"/><ellipse cx="262.6" cy="120.9" rx="5.3" ry="1.7"/><ellipse cx="282.3" cy="121.1" rx="5.3" ry="1.7"/><ellipse cx="290.1" cy="121.5" rx="5.3" ry="1.7"/><ellipse cx="214.5" cy="121.8" rx="5.3" ry="1.7"/><ellipse cx="314.5" cy="122.2" rx="5.3" ry="1.7"/><ellipse cx="205.4" cy="123.0" rx="5.4" ry="1.7"/><ellipse cx="275.7" cy="123.1" rx="5.4" ry="1.7"/><ellipse cx="164.5" cy="123.5" rx="5.4" ry="1.7"/><ellipse cx="250.5" cy="123.6" rx="5.4" ry="1.7"/><ellipse cx="195.7" cy="123.6" rx="5.4" ry="1.7"/><ellipse cx="240.9" cy="123.7" rx="5.4" ry="1.7"/><ellipse cx="321.1" cy="124.1" rx="5.4" ry="1.7"/><ellipse cx="296.0" cy="124.2" rx="5.4" ry="1.7"/><ellipse cx="334.9" cy="125.1" rx="5.4" ry="1.7"/><ellipse cx="265.0" cy="125.4" rx="5.4" ry="1.7"/><ellipse cx="287.1" cy="126.1" rx="5.4" ry="1.7"/><ellipse cx="219.9" cy="126.3" rx="5.4" ry="1.7"/><ellipse cx="379.0" cy="126.3" rx="5.4" ry="1.7"/><ellipse cx="342.0" cy="126.4" rx="5.4" ry="1.7"/><ellipse cx="307.5" cy="126.5" rx="5.4" ry="1.7"/><ellipse cx="327.8" cy="126.6" rx="5.4" ry="1.7"/><ellipse cx="234.9" cy="126.7" rx="5.4" ry="1.7"/><ellipse cx="186.4" cy="126.9" rx="5.4" ry="1.7"/><ellipse cx="315.4" cy="127.4" rx="5.4" ry="1.7"/><ellipse cx="246.0" cy="127.4" rx="5.4" ry="1.7"/><ellipse cx="149.5" cy="127.5" rx="5.4" ry="1.7"/><ellipse cx="273.2" cy="127.5" rx="5.4" ry="1.7"/><ellipse cx="258.7" cy="128.3" rx="5.4" ry="1.7"/><ellipse cx="227.2" cy="128.4" rx="5.4" ry="1.7"/><ellipse cx="211.5" cy="128.7" rx="5.4" ry="1.7"/><ellipse cx="348.7" cy="129.0" rx="5.4" ry="1.7"/><ellipse cx="356.1" cy="129.5" rx="5.5" ry="1.7"/><ellipse cx="193.5" cy="129.6" rx="5.5" ry="1.7"/><ellipse cx="336.6" cy="129.7" rx="5.5" ry="1.7"/><ellipse cx="322.2" cy="129.8" rx="5.5" ry="1.7"/><ellipse cx="266.7" cy="129.9" rx="5.5" ry="1.7"/><ellipse cx="280.6" cy="130.0" rx="5.5" ry="1.7"/><ellipse cx="239.9" cy="130.2" rx="5.5" ry="1.7"/><ellipse cx="297.1" cy="130.3" rx="5.5" ry="1.7"/><ellipse cx="201.0" cy="130.9" rx="5.5" ry="1.7"/><ellipse cx="220.0" cy="131.5" rx="5.5" ry="1.7"/><ellipse cx="232.8" cy="131.5" rx="5.5" ry="1.7"/><ellipse cx="288.7" cy="132.1" rx="5.5" ry="1.7"/><ellipse cx="273.1" cy="132.2" rx="5.5" ry="1.7"/><ellipse cx="314.8" cy="132.4" rx="5.5" ry="1.7"/><ellipse cx="251.9" cy="132.5" rx="5.5" ry="1.7"/><ellipse cx="261.1" cy="133.1" rx="5.5" ry="1.7"/><ellipse cx="386.1" cy="133.6" rx="5.4" ry="1.7"/><ellipse cx="211.9" cy="133.7" rx="5.5" ry="1.7"/><ellipse cx="359.0" cy="133.8" rx="5.5" ry="1.7"/><ellipse cx="332.0" cy="134.0" rx="5.5" ry="1.7"/><ellipse cx="184.0" cy="134.3" rx="5.5" ry="1.7"/><ellipse cx="295.3" cy="134.9" rx="5.5" ry="1.7"/><ellipse cx="340.8" cy="135.1" rx="5.5" ry="1.7"/><ellipse cx="307.3" cy="135.1" rx="5.5" ry="1.7"/><ellipse cx="175.7" cy="135.1" rx="5.5" ry="1.7"/><ellipse cx="227.0" cy="135.2" rx="5.5" ry="1.7"/><ellipse cx="239.7" cy="135.2" rx="5.5" ry="1.7"/><ellipse cx="367.2" cy="135.5" rx="5.5" ry="1.7"/><ellipse cx="195.5" cy="135.7" rx="5.5" ry="1.7"/><ellipse cx="277.3" cy="136.0" rx="5.5" ry="1.7"/><ellipse cx="269.2" cy="136.3" rx="5.6" ry="1.7"/><ellipse cx="247.5" cy="136.7" rx="5.6" ry="1.7"/><ellipse cx="351.4" cy="136.8" rx="5.6" ry="1.7"/><ellipse cx="323.5" cy="137.1" rx="5.6" ry="1.7"/><ellipse cx="315.7" cy="137.3" rx="5.6" ry="1.7"/><ellipse cx="205.4" cy="137.9" rx="5.6" ry="1.8"/><ellipse cx="261.2" cy="137.9" rx="5.6" ry="1.8"/><ellipse cx="137.0" cy="138.6" rx="5.5" ry="1.7"/><ellipse cx="360.7" cy="138.8" rx="5.6" ry="1.8"/><ellipse cx="299.9" cy="138.9" rx="5.6" ry="1.8"/><ellipse cx="337.4" cy="139.8" rx="5.6" ry="1.8"/><ellipse cx="184.3" cy="140.1" rx="5.6" ry="1.8"/><ellipse cx="239.1" cy="140.2" rx="5.6" ry="1.8"/><ellipse cx="371.5" cy="140.4" rx="5.6" ry="1.8"/><ellipse cx="284.0" cy="140.5" rx="5.6" ry="1.8"/><ellipse cx="219.6" cy="140.7" rx="5.6" ry="1.8"/><ellipse cx="165.8" cy="140.8" rx="5.6" ry="1.8"/><ellipse cx="310.7" cy="141.5" rx="5.6" ry="1.8"/><ellipse cx="197.9" cy="141.5" rx="5.6" ry="1.8"/><ellipse cx="271.6" cy="141.8" rx="5.6" ry="1.8"/><ellipse cx="230.9" cy="141.9" rx="5.6" ry="1.8"/><ellipse cx="250.0" cy="142.3" rx="5.6" ry="1.8"/><ellipse cx="294.1" cy="142.5" rx="5.6" ry="1.8"/><ellipse cx="364.9" cy="143.0" rx="5.7" ry="1.8"/><ellipse cx="257.5" cy="143.0" rx="5.7" ry="1.8"/><ellipse cx="178.8" cy="143.5" rx="5.7" ry="1.8"/><ellipse cx="329.6" cy="143.6" rx="5.7" ry="1.8"/><ellipse cx="405.0" cy="143.6" rx="5.6" ry="1.8"/><ellipse cx="354.8" cy="143.7" rx="5.7" ry="1.8"/><ellipse cx="346.1" cy="143.8" rx="5.7" ry="1.8"/><ellipse cx="209.0" cy="144.1" rx="5.7" ry="1.8"/><ellipse cx="321.4" cy="144.2" rx="5.7" ry="1.8"/><ellipse cx="243.2" cy="144.9" rx="5.7" ry="1.8"/><ellipse cx="303.6" cy="145.0" rx="5.7" ry="1.8"/><ellipse cx="379.6" cy="145.1" rx="5.7" ry="1.8"/><ellipse cx="216.6" cy="145.4" rx="5.7" ry="1.8"/><ellipse cx="276.8" cy="145.5" rx="5.7" ry="1.8"/><ellipse cx="264.1" cy="145.9" rx="5.7" ry="1.8"/><ellipse cx="188.3" cy="146.0" rx="5.7" ry="1.8"/><ellipse cx="235.6" cy="146.6" rx="5.7" ry="1.8"/><ellipse cx="170.0" cy="146.7" rx="5.7" ry="1.8"/><ellipse cx="227.8" cy="146.8" rx="5.7" ry="1.8"/><ellipse cx="196.6" cy="146.9" rx="5.7" ry="1.8"/><ellipse cx="360.8" cy="147.4" rx="5.7" ry="1.8"/><ellipse cx="371.2" cy="147.4" rx="5.7" ry="1.8"/><ellipse cx="297.2" cy="148.1" rx="5.7" ry="1.8"/><ellipse cx="340.8" cy="148.6" rx="5.7" ry="1.8"/><ellipse cx="163.2" cy="148.8" rx="5.7" ry="1.8"/><ellipse cx="255.2" cy="149.2" rx="5.7" ry="1.8"/><ellipse cx="246.8" cy="149.2" rx="5.7" ry="1.8"/><ellipse cx="320.5" cy="149.2" rx="5.7" ry="1.8"/><ellipse cx="288.3" cy="149.5" rx="5.7" ry="1.8"/><ellipse cx="207.3" cy="149.5" rx="5.7" ry="1.8"/><ellipse cx="414.0" cy="149.6" rx="5.7" ry="1.8"/><ellipse cx="352.0" cy="149.9" rx="5.8" ry="1.8"/><ellipse cx="311.5" cy="150.1" rx="5.8" ry="1.8"/><ellipse cx="218.4" cy="150.4" rx="5.8" ry="1.8"/><ellipse cx="176.7" cy="150.5" rx="5.8" ry="1.8"/><ellipse cx="384.4" cy="150.5" rx="5.8" ry="1.8"/><ellipse cx="303.8" cy="150.8" rx="5.8" ry="1.8"/><ellipse cx="280.5" cy="151.0" rx="5.8" ry="1.8"/><ellipse cx="331.4" cy="151.2" rx="5.8" ry="1.8"/><ellipse cx="267.4" cy="151.5" rx="5.8" ry="1.8"/><ellipse cx="229.7" cy="151.6" rx="5.8" ry="1.8"/><ellipse cx="128.0" cy="151.7" rx="5.7" ry="1.8"/><ellipse cx="195.6" cy="152.6" rx="5.8" ry="1.8"/><ellipse cx="297.0" cy="153.1" rx="5.8" ry="1.8"/><ellipse cx="259.4" cy="153.3" rx="5.8" ry="1.8"/><ellipse cx="344.1" cy="153.4" rx="5.8" ry="1.8"/><ellipse cx="377.4" cy="153.5" rx="5.8" ry="1.8"/><ellipse cx="183.4" cy="153.6" rx="5.8" ry="1.8"/><ellipse cx="366.5" cy="154.0" rx="5.8" ry="1.8"/><ellipse cx="144.3" cy="154.3" rx="5.8" ry="1.8"/><ellipse cx="161.1" cy="154.5" rx="5.8" ry="1.8"/><ellipse cx="249.8" cy="154.6" rx="5.8" ry="1.8"/><ellipse cx="272.9" cy="155.0" rx="5.8" ry="1.8"/><ellipse cx="309.0" cy="155.0" rx="5.8" ry="1.8"/><ellipse cx="214.6" cy="155.0" rx="5.8" ry="1.8"/><ellipse cx="385.2" cy="155.4" rx="5.8" ry="1.8"/><ellipse cx="173.8" cy="155.5" rx="5.8" ry="1.8"/><ellipse cx="237.9" cy="155.7" rx="5.8" ry="1.8"/><ellipse cx="283.9" cy="155.8" rx="5.8" ry="1.8"/><ellipse cx="357.2" cy="155.9" rx="5.8" ry="1.8"/><ellipse cx="330.5" cy="156.4" rx="5.8" ry="1.8"/><ellipse cx="225.6" cy="156.5" rx="5.8" ry="1.8"/><ellipse cx="205.1" cy="156.6" rx="5.8" ry="1.8"/><ellipse cx="322.0" cy="157.2" rx="5.9" ry="1.8"/><ellipse cx="372.9" cy="158.0" rx="5.9" ry="1.8"/><ellipse cx="349.8" cy="158.2" rx="5.9" ry="1.8"/><ellipse cx="261.3" cy="158.2" rx="5.9" ry="1.8"/><ellipse cx="191.9" cy="158.5" rx="5.9" ry="1.8"/><ellipse cx="337.7" cy="158.5" rx="5.9" ry="1.8"/><ellipse cx="179.4" cy="159.2" rx="5.9" ry="1.8"/><ellipse cx="296.9" cy="159.3" rx="5.9" ry="1.9"/><ellipse cx="165.1" cy="159.3" rx="5.9" ry="1.9"/><ellipse cx="253.0" cy="159.5" rx="5.9" ry="1.9"/><ellipse cx="400.9" cy="159.7" rx="5.8" ry="1.8"/><ellipse cx="233.3" cy="159.8" rx="5.9" ry="1.9"/><ellipse cx="305.4" cy="160.2" rx="5.9" ry="1.9"/><ellipse cx="156.7" cy="160.2" rx="5.9" ry="1.9"/><ellipse cx="363.7" cy="160.2" rx="5.9" ry="1.9"/><ellipse cx="391.3" cy="160.4" rx="5.9" ry="1.9"/><ellipse cx="210.2" cy="160.6" rx="5.9" ry="1.9"/><ellipse cx="269.2" cy="160.8" rx="5.9" ry="1.9"/><ellipse cx="284.9" cy="160.9" rx="5.9" ry="1.9"/><ellipse cx="172.3" cy="161.6" rx="5.9" ry="1.9"/><ellipse cx="110.9" cy="161.7" rx="5.8" ry="1.8"/><ellipse cx="383.4" cy="161.8" rx="5.9" ry="1.9"/><ellipse cx="314.3" cy="161.9" rx="5.9" ry="1.9"/><ellipse cx="325.4" cy="161.9" rx="5.9" ry="1.9"/><ellipse cx="241.0" cy="162.0" rx="5.9" ry="1.9"/><ellipse cx="199.2" cy="162.1" rx="5.9" ry="1.9"/><ellipse cx="186.4" cy="162.3" rx="5.9" ry="1.9"/><ellipse cx="343.8" cy="162.8" rx="5.9" ry="1.9"/><ellipse cx="333.1" cy="163.1" rx="5.9" ry="1.9"/><ellipse cx="222.1" cy="163.8" rx="6.0" ry="1.9"/><ellipse cx="276.0" cy="164.1" rx="6.0" ry="1.9"/><ellipse cx="260.6" cy="164.2" rx="6.0" ry="1.9"/><ellipse cx="252.2" cy="164.5" rx="6.0" ry="1.9"/><ellipse cx="162.8" cy="164.7" rx="6.0" ry="1.9"/><ellipse cx="301.2" cy="164.8" rx="6.0" ry="1.9"/><ellipse cx="360.7" cy="165.8" rx="6.0" ry="1.9"/><ellipse cx="212.3" cy="165.9" rx="6.0" ry="1.9"/><ellipse cx="268.3" cy="166.0" rx="6.0" ry="1.9"/><ellipse cx="319.5" cy="166.2" rx="6.0" ry="1.9"/><ellipse cx="234.1" cy="166.4" rx="6.0" ry="1.9"/><ellipse cx="310.7" cy="166.5" rx="6.0" ry="1.9"/><ellipse cx="128.9" cy="166.7" rx="5.9" ry="1.9"/><ellipse cx="352.8" cy="166.8" rx="6.0" ry="1.9"/><ellipse cx="292.5" cy="166.9" rx="6.0" ry="1.9"/><ellipse cx="371.8" cy="167.2" rx="6.0" ry="1.9"/><ellipse cx="202.1" cy="167.3" rx="6.0" ry="1.9"/><ellipse cx="392.2" cy="167.3" rx="6.0" ry="1.9"/><ellipse cx="344.7" cy="168.3" rx="6.0" ry="1.9"/><ellipse cx="193.2" cy="168.4" rx="6.0" ry="1.9"/><ellipse cx="412.5" cy="168.9" rx="6.0" ry="1.9"/><ellipse cx="280.7" cy="169.0" rx="6.0" ry="1.9"/><ellipse cx="151.1" cy="169.0" rx="6.0" ry="1.9"/><ellipse cx="222.0" cy="169.0" rx="6.0" ry="1.9"/><ellipse cx="172.7" cy="169.1" rx="6.0" ry="1.9"/><ellipse cx="182.3" cy="169.3" rx="6.0" ry="1.9"/><ellipse cx="246.5" cy="169.3" rx="6.0" ry="1.9"/><ellipse cx="378.4" cy="170.2" rx="6.0" ry="1.9"/><ellipse cx="328.8" cy="170.4" rx="6.0" ry="1.9"/><ellipse cx="208.6" cy="170.9" rx="6.1" ry="1.9"/><ellipse cx="337.9" cy="171.1" rx="6.1" ry="1.9"/><ellipse cx="386.3" cy="171.1" rx="6.1" ry="1.9"/><ellipse cx="315.1" cy="171.3" rx="6.1" ry="1.9"/><ellipse cx="160.6" cy="171.5" rx="6.1" ry="1.9"/><ellipse cx="236.0" cy="171.6" rx="6.1" ry="1.9"/><ellipse cx="350.1" cy="172.6" rx="6.1" ry="1.9"/><ellipse cx="303.5" cy="172.7" rx="6.1" ry="1.9"/><ellipse cx="291.0" cy="172.9" rx="6.1" ry="1.9"/><ellipse cx="275.2" cy="173.0" rx="6.1" ry="1.9"/><ellipse cx="363.4" cy="173.2" rx="6.1" ry="1.9"/><ellipse cx="259.8" cy="173.4" rx="6.1" ry="1.9"/><ellipse cx="176.8" cy="173.8" rx="6.1" ry="1.9"/><ellipse cx="196.2" cy="174.0" rx="6.1" ry="1.9"/><ellipse cx="135.1" cy="174.4" rx="6.1" ry="1.9"/><ellipse cx="184.7" cy="174.8" rx="6.1" ry="1.9"/><ellipse cx="267.6" cy="174.9" rx="6.1" ry="1.9"/><ellipse cx="223.5" cy="176.0" rx="6.1" ry="1.9"/><ellipse cx="215.4" cy="176.2" rx="6.1" ry="1.9"/><ellipse cx="335.0" cy="176.4" rx="6.1" ry="1.9"/><ellipse cx="378.4" cy="176.6" rx="6.1" ry="1.9"/><ellipse cx="157.8" cy="176.7" rx="6.1" ry="1.9"/><ellipse cx="232.8" cy="176.8" rx="6.1" ry="1.9"/><ellipse cx="247.2" cy="177.1" rx="6.1" ry="1.9"/><ellipse cx="309.9" cy="177.2" rx="6.1" ry="1.9"/><ellipse cx="319.6" cy="177.4" rx="6.1" ry="1.9"/><ellipse cx="352.9" cy="177.9" rx="6.2" ry="1.9"/><ellipse cx="299.5" cy="178.1" rx="6.2" ry="1.9"/><ellipse cx="284.8" cy="178.3" rx="6.2" ry="1.9"/><ellipse cx="205.2" cy="178.3" rx="6.2" ry="1.9"/><ellipse cx="344.6" cy="178.3" rx="6.2" ry="1.9"/><ellipse cx="429.8" cy="178.7" rx="6.1" ry="1.9"/><ellipse cx="166.7" cy="178.8" rx="6.2" ry="1.9"/><ellipse cx="327.8" cy="179.2" rx="6.2" ry="1.9"/><ellipse cx="196.3" cy="179.3" rx="6.2" ry="1.9"/><ellipse cx="255.2" cy="179.6" rx="6.2" ry="1.9"/><ellipse cx="174.9" cy="179.8" rx="6.2" ry="1.9"/><ellipse cx="388.2" cy="180.1" rx="6.2" ry="1.9"/><ellipse cx="361.2" cy="180.8" rx="6.2" ry="1.9"/><ellipse cx="402.8" cy="181.0" rx="6.2" ry="1.9"/><ellipse cx="370.8" cy="181.5" rx="6.2" ry="2.0"/><ellipse cx="273.7" cy="181.8" rx="6.2" ry="2.0"/><ellipse cx="293.8" cy="182.2" rx="6.2" ry="2.0"/><ellipse cx="308.4" cy="182.5" rx="6.2" ry="2.0"/><ellipse cx="236.6" cy="182.6" rx="6.2" ry="2.0"/><ellipse cx="228.2" cy="182.6" rx="6.2" ry="2.0"/><ellipse cx="136.8" cy="182.7" rx="6.1" ry="1.9"/><ellipse cx="261.7" cy="182.8" rx="6.2" ry="2.0"/><ellipse cx="245.3" cy="183.1" rx="6.2" ry="2.0"/><ellipse cx="316.9" cy="183.1" rx="6.2" ry="2.0"/><ellipse cx="215.1" cy="183.1" rx="6.2" ry="2.0"/><ellipse cx="284.8" cy="183.8" rx="6.2" ry="2.0"/><ellipse cx="352.4" cy="183.8" rx="6.2" ry="2.0"/><ellipse cx="186.3" cy="184.1" rx="6.2" ry="2.0"/><ellipse cx="340.3" cy="184.3" rx="6.3" ry="2.0"/><ellipse cx="329.2" cy="184.4" rx="6.3" ry="2.0"/><ellipse cx="203.8" cy="184.5" rx="6.3" ry="2.0"/><ellipse cx="378.6" cy="184.9" rx="6.3" ry="2.0"/><ellipse cx="121.2" cy="185.1" rx="6.3" ry="2.0"/><ellipse cx="387.4" cy="185.5" rx="6.3" ry="2.0"/><ellipse cx="179.0" cy="186.8" rx="6.3" ry="2.0"/><ellipse cx="221.8" cy="187.3" rx="6.3" ry="2.0"/><ellipse cx="322.6" cy="187.7" rx="6.3" ry="2.0"/><ellipse cx="360.7" cy="187.9" rx="6.3" ry="2.0"/><ellipse cx="236.8" cy="187.9" rx="6.3" ry="2.0"/><ellipse cx="279.2" cy="188.1" rx="6.3" ry="2.0"/><ellipse cx="193.6" cy="188.1" rx="6.3" ry="2.0"/><ellipse cx="257.3" cy="188.3" rx="6.3" ry="2.0"/><ellipse cx="246.9" cy="188.6" rx="6.3" ry="2.0"/><ellipse cx="210.0" cy="188.7" rx="6.3" ry="2.0"/><ellipse cx="333.9" cy="188.8" rx="6.3" ry="2.0"/><ellipse cx="298.6" cy="188.9" rx="6.3" ry="2.0"/><ellipse cx="352.4" cy="189.3" rx="6.3" ry="2.0"/><ellipse cx="201.8" cy="189.7" rx="6.3" ry="2.0"/><ellipse cx="406.8" cy="189.7" rx="6.2" ry="2.0"/><ellipse cx="314.7" cy="189.9" rx="6.3" ry="2.0"/><ellipse cx="228.6" cy="190.4" rx="6.3" ry="2.0"/><ellipse cx="269.4" cy="190.4" rx="6.3" ry="2.0"/><ellipse cx="152.5" cy="191.0" rx="6.3" ry="2.0"/><ellipse cx="288.2" cy="191.6" rx="6.4" ry="2.0"/><ellipse cx="372.8" cy="191.7" rx="6.3" ry="2.0"/><ellipse cx="325.7" cy="193.0" rx="6.4" ry="2.0"/><ellipse cx="217.6" cy="193.5" rx="6.4" ry="2.0"/><ellipse cx="306.0" cy="193.6" rx="6.4" ry="2.0"/><ellipse cx="139.8" cy="193.7" rx="6.3" ry="2.0"/><ellipse cx="363.8" cy="194.0" rx="6.4" ry="2.0"/><ellipse cx="277.4" cy="194.1" rx="6.4" ry="2.0"/><ellipse cx="345.6" cy="194.1" rx="6.4" ry="2.0"/><ellipse cx="336.3" cy="194.6" rx="6.4" ry="2.0"/><ellipse cx="261.0" cy="195.0" rx="6.4" ry="2.0"/><ellipse cx="252.5" cy="195.2" rx="6.4" ry="2.0"/><ellipse cx="297.5" cy="195.6" rx="6.4" ry="2.0"/><ellipse cx="122.6" cy="195.7" rx="6.4" ry="2.0"/><ellipse cx="353.3" cy="196.5" rx="6.4" ry="2.0"/><ellipse cx="239.6" cy="197.2" rx="6.4" ry="2.0"/><ellipse cx="319.2" cy="197.6" rx="6.4" ry="2.0"/><ellipse cx="227.0" cy="198.1" rx="6.5" ry="2.0"/><ellipse cx="287.9" cy="198.3" rx="6.5" ry="2.0"/><ellipse cx="412.7" cy="198.7" rx="6.4" ry="2.0"/><ellipse cx="185.7" cy="198.7" rx="6.4" ry="2.0"/><ellipse cx="266.8" cy="198.9" rx="6.5" ry="2.0"/><ellipse cx="205.0" cy="199.2" rx="6.5" ry="2.0"/><ellipse cx="308.4" cy="199.4" rx="6.5" ry="2.0"/><ellipse cx="363.4" cy="199.5" rx="6.5" ry="2.0"/><ellipse cx="171.7" cy="200.1" rx="6.5" ry="2.0"/><ellipse cx="251.1" cy="200.7" rx="6.5" ry="2.0"/><ellipse cx="344.7" cy="201.7" rx="6.4" ry="2.0"/><ellipse cx="275.9" cy="202.0" rx="6.5" ry="2.0"/><ellipse cx="327.8" cy="202.0" rx="6.5" ry="2.0"/><ellipse cx="243.0" cy="202.8" rx="6.5" ry="2.0"/><ellipse cx="293.7" cy="203.1" rx="6.5" ry="2.0"/><ellipse cx="284.5" cy="203.7" rx="6.5" ry="2.1"/><ellipse cx="390.7" cy="203.7" rx="6.4" ry="2.0"/><ellipse cx="336.0" cy="204.5" rx="6.5" ry="2.1"/><ellipse cx="315.7" cy="204.7" rx="6.5" ry="2.0"/><ellipse cx="302.5" cy="205.2" rx="6.6" ry="2.1"/><ellipse cx="225.7" cy="205.7" rx="6.5" ry="2.0"/><ellipse cx="259.8" cy="205.9" rx="6.6" ry="2.1"/><ellipse cx="130.4" cy="206.2" rx="6.6" ry="2.1"/><ellipse cx="110.7" cy="206.7" rx="6.5" ry="2.0"/><ellipse cx="276.1" cy="207.7" rx="6.6" ry="2.1"/><ellipse cx="289.8" cy="208.1" rx="6.6" ry="2.1"/><ellipse cx="142.7" cy="208.6" rx="6.6" ry="2.1"/><ellipse cx="358.7" cy="210.7" rx="6.5" ry="2.1"/><ellipse cx="167.7" cy="211.7" rx="6.6" ry="2.1"/><ellipse cx="193.7" cy="211.7" rx="6.6" ry="2.1"/><ellipse cx="209.4" cy="212.3" rx="6.7" ry="2.1"/><ellipse cx="372.9" cy="213.2" rx="6.7" ry="2.1"/><ellipse cx="324.3" cy="215.7" rx="6.7" ry="2.1"/><ellipse cx="262.6" cy="216.8" rx="6.6" ry="2.1"/><ellipse cx="235.6" cy="217.8" rx="6.6" ry="2.1"/><ellipse cx="337.6" cy="218.8" rx="6.7" ry="2.1"/><ellipse cx="361.9" cy="219.6" rx="6.8" ry="2.1"/><ellipse cx="294.6" cy="221.8" rx="6.7" ry="2.1"/><ellipse cx="213.4" cy="222.4" rx="6.8" ry="2.1"/><ellipse cx="135.2" cy="223.9" rx="6.8" ry="2.1"/><ellipse cx="312.5" cy="224.5" rx="6.8" ry="2.1"/><ellipse cx="193.0" cy="224.6" rx="6.8" ry="2.1"/><ellipse cx="393.6" cy="225.8" rx="6.8" ry="2.1"/><ellipse cx="165.6" cy="227.8" rx="6.8" ry="2.1"/><ellipse cx="225.6" cy="227.8" rx="6.8" ry="2.1"/><ellipse cx="205.6" cy="230.8" rx="6.8" ry="2.1"/><ellipse cx="267.6" cy="230.8" rx="6.8" ry="2.1"/><ellipse cx="372.1" cy="231.8" rx="6.9" ry="2.2"/><ellipse cx="241.6" cy="231.8" rx="6.9" ry="2.2"/><ellipse cx="326.2" cy="232.4" rx="6.9" ry="2.2"/><ellipse cx="252.6" cy="236.5" rx="7.0" ry="2.2"/><ellipse cx="297.5" cy="236.8" rx="6.9" ry="2.2"/><ellipse cx="507.2" cy="237.1" rx="5.5" ry="1.7"/><ellipse cx="515.0" cy="238.1" rx="5.6" ry="1.7"/><ellipse cx="523.1" cy="238.3" rx="5.6" ry="1.7"/><ellipse cx="178.4" cy="239.4" rx="7.0" ry="2.2"/><ellipse cx="497.0" cy="240.2" rx="5.6" ry="1.8"/><ellipse cx="275.7" cy="240.6" rx="7.1" ry="2.2"/><ellipse cx="229.4" cy="241.7" rx="7.1" ry="2.2"/><ellipse cx="358.5" cy="241.8" rx="7.0" ry="2.2"/><ellipse cx="204.8" cy="242.7" rx="7.1" ry="2.2"/><ellipse cx="506.5" cy="242.6" rx="5.7" ry="1.8"/><ellipse cx="484.6" cy="243.4" rx="5.7" ry="1.8"/><ellipse cx="534.0" cy="244.2" rx="5.7" ry="1.8"/><ellipse cx="309.8" cy="244.5" rx="7.1" ry="2.2"/><ellipse cx="514.6" cy="244.8" rx="5.7" ry="1.8"/><ellipse cx="384.5" cy="245.8" rx="7.1" ry="2.2"/><ellipse cx="259.5" cy="245.8" rx="7.1" ry="2.2"/><ellipse cx="547.6" cy="245.8" rx="5.7" ry="1.8"/><ellipse cx="329.5" cy="246.8" rx="7.1" ry="2.2"/><ellipse cx="490.6" cy="247.7" rx="5.8" ry="1.8"/><ellipse cx="477.6" cy="247.9" rx="5.8" ry="1.8"/><ellipse cx="465.6" cy="248.6" rx="5.7" ry="1.8"/><ellipse cx="526.2" cy="249.7" rx="5.8" ry="1.8"/><ellipse cx="296.3" cy="250.5" rx="7.2" ry="2.3"/><ellipse cx="504.3" cy="250.5" rx="5.9" ry="1.8"/><ellipse cx="539.6" cy="251.6" rx="5.9" ry="1.8"/><ellipse cx="558.8" cy="251.7" rx="5.8" ry="1.8"/><ellipse cx="549.8" cy="252.0" rx="5.9" ry="1.9"/><ellipse cx="483.0" cy="253.0" rx="5.9" ry="1.9"/><ellipse cx="471.6" cy="254.3" rx="6.0" ry="1.9"/><ellipse cx="496.8" cy="254.9" rx="6.0" ry="1.9"/><ellipse cx="513.0" cy="255.0" rx="6.0" ry="1.9"/><ellipse cx="532.2" cy="255.7" rx="6.0" ry="1.9"/><ellipse cx="522.8" cy="255.9" rx="6.0" ry="1.9"/><ellipse cx="448.3" cy="256.4" rx="5.9" ry="1.9"/><ellipse cx="546.5" cy="257.5" rx="6.0" ry="1.9"/><ellipse cx="558.3" cy="259.4" rx="6.1" ry="1.9"/><ellipse cx="575.9" cy="259.5" rx="6.0" ry="1.9"/><ellipse cx="538.5" cy="260.0" rx="6.1" ry="1.9"/><ellipse cx="485.0" cy="260.0" rx="6.1" ry="1.9"/><ellipse cx="508.3" cy="260.8" rx="6.1" ry="1.9"/><ellipse cx="525.1" cy="261.9" rx="6.1" ry="1.9"/><ellipse cx="464.7" cy="263.1" rx="6.2" ry="1.9"/><ellipse cx="473.5" cy="264.0" rx="6.2" ry="1.9"/><ellipse cx="547.6" cy="264.5" rx="6.2" ry="1.9"/><ellipse cx="515.3" cy="264.6" rx="6.2" ry="1.9"/><ellipse cx="497.6" cy="266.3" rx="6.2" ry="2.0"/><ellipse cx="535.4" cy="266.5" rx="6.2" ry="2.0"/><ellipse cx="559.7" cy="268.8" rx="6.3" ry="2.0"/><ellipse cx="466.5" cy="270.0" rx="6.3" ry="2.0"/><ellipse cx="451.4" cy="270.4" rx="6.2" ry="2.0"/><ellipse cx="572.7" cy="270.4" rx="6.2" ry="2.0"/><ellipse cx="505.2" cy="270.4" rx="6.3" ry="2.0"/><ellipse cx="478.6" cy="270.8" rx="6.4" ry="2.0"/><ellipse cx="545.8" cy="271.1" rx="6.4" ry="2.0"/><ellipse cx="585.1" cy="271.9" rx="6.3" ry="2.0"/><ellipse cx="487.4" cy="272.5" rx="6.4" ry="2.0"/><ellipse cx="523.4" cy="272.9" rx="6.4" ry="2.0"/><ellipse cx="514.4" cy="276.1" rx="6.5" ry="2.0"/><ellipse cx="562.4" cy="276.2" rx="6.5" ry="2.0"/><ellipse cx="421.7" cy="276.6" rx="6.4" ry="2.0"/><ellipse cx="501.5" cy="276.9" rx="6.5" ry="2.0"/><ellipse cx="468.6" cy="277.1" rx="6.5" ry="2.0"/><ellipse cx="531.2" cy="277.2" rx="6.5" ry="2.0"/><ellipse cx="551.7" cy="277.9" rx="6.5" ry="2.1"/><ellipse cx="480.1" cy="278.1" rx="6.5" ry="2.1"/><ellipse cx="438.8" cy="279.7" rx="6.5" ry="2.0"/><ellipse cx="600.6" cy="281.3" rx="6.5" ry="2.0"/><ellipse cx="542.6" cy="281.8" rx="6.6" ry="2.1"/><ellipse cx="508.2" cy="282.7" rx="6.6" ry="2.1"/><ellipse cx="560.7" cy="282.7" rx="6.6" ry="2.1"/><ellipse cx="462.7" cy="283.0" rx="6.7" ry="2.1"/><ellipse cx="497.8" cy="283.0" rx="6.7" ry="2.1"/><ellipse cx="487.1" cy="283.7" rx="6.7" ry="2.1"/><ellipse cx="584.9" cy="284.5" rx="6.6" ry="2.1"/><ellipse cx="528.4" cy="285.4" rx="6.7" ry="2.1"/><ellipse cx="518.0" cy="286.2" rx="6.7" ry="2.1"/><ellipse cx="548.0" cy="287.5" rx="6.8" ry="2.1"/><ellipse cx="537.4" cy="288.3" rx="6.8" ry="2.1"/><ellipse cx="478.0" cy="288.5" rx="6.8" ry="2.1"/><ellipse cx="468.2" cy="289.4" rx="6.8" ry="2.1"/><ellipse cx="557.4" cy="289.9" rx="6.8" ry="2.1"/><ellipse cx="510.5" cy="291.5" rx="6.9" ry="2.2"/><ellipse cx="495.5" cy="294.2" rx="6.9" ry="2.2"/><ellipse cx="522.7" cy="294.5" rx="6.9" ry="2.2"/><ellipse cx="446.5" cy="295.4" rx="6.9" ry="2.2"/><ellipse cx="476.2" cy="295.7" rx="7.0" ry="2.2"/><ellipse cx="533.0" cy="296.6" rx="7.0" ry="2.2"/><ellipse cx="544.0" cy="296.9" rx="7.0" ry="2.2"/><ellipse cx="553.7" cy="298.5" rx="6.9" ry="2.2"/><ellipse cx="485.2" cy="300.7" rx="7.1" ry="2.2"/><ellipse cx="577.1" cy="303.1" rx="7.0" ry="2.2"/><ellipse cx="517.0" cy="303.2" rx="7.1" ry="2.2"/><ellipse cx="539.5" cy="303.4" rx="7.2" ry="2.2"/><ellipse cx="501.9" cy="303.8" rx="7.2" ry="2.3"/><ellipse cx="531.4" cy="309.0" rx="7.3" ry="2.3"/><ellipse cx="447.8" cy="309.4" rx="7.2" ry="2.3"/><ellipse cx="511.6" cy="309.8" rx="7.3" ry="2.3"/><ellipse cx="572.3" cy="312.5" rx="7.3" ry="2.3"/><ellipse cx="500.7" cy="315.6" rx="7.4" ry="2.3"/><ellipse cx="421.3" cy="321.9" rx="7.5" ry="2.4"/><ellipse cx="545.8" cy="321.9" rx="7.5" ry="2.4"/><ellipse cx="474.2" cy="325.0" rx="7.6" ry="2.4"/><ellipse cx="489.8" cy="325.0" rx="7.6" ry="2.4"/><ellipse cx="600.2" cy="325.0" rx="7.6" ry="2.4"/><ellipse cx="520.9" cy="329.7" rx="7.7" ry="2.4"/><ellipse cx="547.2" cy="332.8" rx="7.8" ry="2.4"/><ellipse cx="475.5" cy="342.1" rx="8.0" ry="2.5"/><ellipse cx="488.0" cy="346.8" rx="8.1" ry="2.6"/><ellipse cx="508.2" cy="346.8" rx="8.1" ry="2.6"/><ellipse cx="547.1" cy="351.5" rx="8.2" ry="2.6"/></g>
<use href="#q" transform="translate(474.5 10.0) scale(0.37)" fill="#b8b8b4"/><use href="#q" transform="translate(146.0 10.5) scale(0.37)" fill="#681420"/><use href="#q" transform="translate(474.7 14.6) scale(0.38)" fill="#e8e8e2"/><use href="#q" transform="translate(469.3 14.7) scale(0.38)" fill="#2a56a0"/><use href="#q" transform="translate(452.4 14.8) scale(0.38)" fill="#b8b8b4"/><use href="#q" transform="translate(146.2 15.1) scale(0.38)" fill="#54463a"/><use href="#q" transform="translate(459.3 15.1) scale(0.38)" fill="#6a6a70"/><use href="#q" transform="translate(140.8 15.2) scale(0.38)" fill="#1a1a20"/><use href="#q" transform="translate(123.9 15.3) scale(0.38)" fill="#b81c1c"/><use href="#q" transform="translate(446.0 15.6) scale(0.38)" fill="#1a1a20"/><use href="#q" transform="translate(466.2 15.6) scale(0.38)" fill="#681420"/><use href="#q" transform="translate(130.8 15.6) scale(0.38)" fill="#1a1a20"/><use href="#q" transform="translate(480.7 15.8) scale(0.38)" fill="#e8e8e2"/><use href="#q" transform="translate(486.1 15.9) scale(0.38)" fill="#8a8a90"/><use href="#q" transform="translate(117.5 16.1) scale(0.38)" fill="#5e7e56"/><use href="#q" transform="translate(456.4 16.1) scale(0.38)" fill="#48b030"/><use href="#q" transform="translate(137.7 16.1) scale(0.38)" fill="#b8b8b4"/><use href="#q" transform="translate(489.6 16.1) scale(0.38)" fill="#3a72bc"/><use href="#q" transform="translate(462.7 16.2) scale(0.38)" fill="#e8e8e2"/><use href="#q" transform="translate(152.2 16.3) scale(0.38)" fill="#1a1a20"/><use href="#q" transform="translate(157.6 16.4) scale(0.38)" fill="#5e7e56"/><use href="#q" transform="translate(439.7 16.5) scale(0.39)" fill="#6a6a70"/><use href="#q" transform="translate(450.1 16.6) scale(0.39)" fill="#5e7e56"/><use href="#q" transform="translate(477.6 16.6) scale(0.39)" fill="#1a1a20"/><use href="#q" transform="translate(127.9 16.6) scale(0.38)" fill="#1a1a20"/><use href="#q" transform="translate(161.1 16.6) scale(0.38)" fill="#1a1a20"/><use href="#q" transform="translate(134.2 16.7) scale(0.38)" fill="#2a56a0"/><use href="#q" transform="translate(111.2 17.0) scale(0.39)" fill="#a8a088"/><use href="#q" transform="translate(121.6 17.1) scale(0.39)" fill="#1a1a20"/><use href="#q" transform="translate(149.1 17.1) scale(0.39)" fill="#b81c1c"/><use href="#q" transform="translate(474.3 17.1) scale(0.39)" fill="#681420"/><use href="#q" transform="translate(442.8 17.5) scale(0.39)" fill="#242838"/><use href="#q" transform="translate(145.8 17.6) scale(0.39)" fill="#6a6a70"/><use href="#q" transform="translate(492.5 17.7) scale(0.39)" fill="#e8e8e2"/><use href="#q" transform="translate(483.9 17.8) scale(0.39)" fill="#242838"/><use href="#q" transform="translate(467.9 17.9) scale(0.39)" fill="#b81c1c"/><use href="#q" transform="translate(114.3 18.0) scale(0.39)" fill="#3a72bc"/><use href="#q" transform="translate(452.3 18.2) scale(0.39)" fill="#6a6a70"/><use href="#q" transform="translate(446.7 18.2) scale(0.39)" fill="#1a1a20"/><use href="#q" transform="translate(164.0 18.2) scale(0.39)" fill="#b8b8b4"/><use href="#q" transform="translate(436.7 18.2) scale(0.39)" fill="#b8b8b4"/><use href="#q" transform="translate(155.4 18.3) scale(0.39)" fill="#242838"/><use href="#q" transform="translate(139.4 18.4) scale(0.39)" fill="#1a1a20"/><use href="#q" transform="translate(123.8 18.7) scale(0.39)" fill="#681420"/><use href="#q" transform="translate(118.2 18.7) scale(0.39)" fill="#2a8a2a"/><use href="#q" transform="translate(489.2 18.7) scale(0.39)" fill="#681420"/><use href="#q" transform="translate(108.2 18.7) scale(0.39)" fill="#6a6a70"/><use href="#q" transform="translate(471.3 18.8) scale(0.39)" fill="#1a1a20"/><use href="#q" transform="translate(460.0 18.9) scale(0.39)" fill="#6a6a70"/><use href="#q" transform="translate(456.6 19.0) scale(0.39)" fill="#681420"/><use href="#q" transform="translate(440.6 19.1) scale(0.39)" fill="#1a1a20"/><use href="#q" transform="translate(160.7 19.2) scale(0.39)" fill="#2a56a0"/><use href="#q" transform="translate(495.5 19.2) scale(0.39)" fill="#1a1a20"/><use href="#q" transform="translate(142.8 19.3) scale(0.39)" fill="#54463a"/><use href="#q" transform="translate(477.9 19.4) scale(0.39)" fill="#242838"/><use href="#q" transform="translate(131.5 19.4) scale(0.39)" fill="#e8e8e2"/><use href="#q" transform="translate(486.0 19.4) scale(0.39)" fill="#a8a088"/><use href="#q" transform="translate(128.1 19.5) scale(0.39)" fill="#2a56a0"/><use href="#q" transform="translate(112.1 19.6) scale(0.39)" fill="#b81c1c"/><use href="#q" transform="translate(464.7 19.6) scale(0.39)" fill="#b81c1c"/><use href="#q" transform="translate(167.0 19.7) scale(0.39)" fill="#5e7e56"/><use href="#q" transform="translate(149.4 19.9) scale(0.39)" fill="#242838"/><use href="#q" transform="translate(157.5 19.9) scale(0.39)" fill="#54463a"/><use href="#q" transform="translate(481.8 20.1) scale(0.39)" fill="#1a1a20"/><use href="#q" transform="translate(136.2 20.1) scale(0.39)" fill="#681420"/><use href="#q" transform="translate(431.4 20.1) scale(0.39)" fill="#1a1a20"/><use href="#q" transform="translate(499.3 20.1) scale(0.39)" fill="#48b030"/><use href="#q" transform="translate(444.8 20.2) scale(0.39)" fill="#242838"/><use href="#q" transform="translate(491.9 20.3) scale(0.39)" fill="#2a8a2a"/><use href="#q" transform="translate(503.1 20.3) scale(0.39)" fill="#242838"/><use href="#q" transform="translate(153.3 20.6) scale(0.39)" fill="#242838"/><use href="#q" transform="translate(102.9 20.6) scale(0.39)" fill="#2a56a0"/><use href="#q" transform="translate(170.8 20.6) scale(0.39)" fill="#b81c1c"/><use href="#q" transform="translate(116.3 20.7) scale(0.39)" fill="#1a1a20"/><use href="#q" transform="translate(450.9 20.7) scale(0.39)" fill="#2a56a0"/><use href="#q" transform="translate(163.4 20.8) scale(0.39)" fill="#e8e8e2"/><use href="#q" transform="translate(174.6 20.8) scale(0.39)" fill="#1a1a20"/><use href="#q" transform="translate(488.5 20.8) scale(0.39)" fill="#b81c1c"/><use href="#q" transform="translate(470.5 21.0) scale(0.39)" fill="#b8b8b4"/><use href="#q" transform="translate(507.6 21.1) scale(0.40)" fill="#2a8a2a"/><use href="#q" transform="translate(461.1 21.1) scale(0.40)" fill="#e8e8e2"/><use href="#q" transform="translate(122.4 21.2) scale(0.39)" fill="#48b030"/><use href="#q" transform="translate(474.4 21.2) scale(0.40)" fill="#2a8a2a"/><use href="#q" transform="translate(160.0 21.3) scale(0.39)" fill="#1a1a20"/><use href="#q" transform="translate(142.0 21.5) scale(0.39)" fill="#1a1a20"/><use href="#q" transform="translate(179.1 21.6) scale(0.40)" fill="#2a56a0"/><use href="#q" transform="translate(132.6 21.6) scale(0.40)" fill="#b81c1c"/><use href="#q" transform="translate(442.1 21.7) scale(0.40)" fill="#6a6a70"/><use href="#q" transform="translate(456.7 21.7) scale(0.40)" fill="#e8e8e2"/><use href="#q" transform="translate(145.9 21.7) scale(0.40)" fill="#5e7e56"/><use href="#q" transform="translate(434.0 21.8) scale(0.40)" fill="#5e7e56"/><use href="#q" transform="translate(485.5 21.9) scale(0.40)" fill="#242838"/><use href="#q" transform="translate(421.5 22.0) scale(0.39)" fill="#6a6a70"/><use href="#q" transform="translate(113.6 22.2) scale(0.40)" fill="#242838"/><use href="#q" transform="translate(437.8 22.2) scale(0.40)" fill="#6a6a70"/><use href="#q" transform="translate(128.2 22.2) scale(0.40)" fill="#2a8a2a"/><use href="#q" transform="translate(105.5 22.3) scale(0.40)" fill="#242838"/><use href="#q" transform="translate(494.1 22.3) scale(0.40)" fill="#8a8a90"/><use href="#q" transform="translate(157.0 22.4) scale(0.40)" fill="#1a1a20"/><use href="#q" transform="translate(467.4 22.4) scale(0.40)" fill="#48b030"/><use href="#q" transform="translate(93.0 22.5) scale(0.39)" fill="#e8e8e2"/><use href="#q" transform="translate(463.9 22.5) scale(0.40)" fill="#a8a088"/><use href="#q" transform="translate(425.9 22.6) scale(0.40)" fill="#54463a"/><use href="#q" transform="translate(446.0 22.7) scale(0.40)" fill="#1a1a20"/><use href="#q" transform="translate(109.3 22.7) scale(0.40)" fill="#6a6a70"/><use href="#q" transform="translate(479.9 22.8) scale(0.40)" fill="#b8b8b4"/><use href="#q" transform="translate(165.6 22.8) scale(0.40)" fill="#8a8a90"/><use href="#q" transform="translate(498.9 22.9) scale(0.40)" fill="#6a6a70"/><use href="#q" transform="translate(430.6 22.9) scale(0.40)" fill="#b8b8b4"/><use href="#q" transform="translate(138.9 22.9) scale(0.40)" fill="#242838"/><use href="#q" transform="translate(135.4 23.0) scale(0.40)" fill="#681420"/><use href="#q" transform="translate(97.4 23.1) scale(0.40)" fill="#1a1a20"/><use href="#q" transform="translate(117.5 23.2) scale(0.40)" fill="#242838"/><use href="#q" transform="translate(151.4 23.3) scale(0.40)" fill="#1a1a20"/><use href="#q" transform="translate(489.2 23.3) scale(0.40)" fill="#681420"/><use href="#q" transform="translate(503.7 23.3) scale(0.40)" fill="#1a1a20"/><use href="#q" transform="translate(170.4 23.4) scale(0.40)" fill="#1a1a20"/><use href="#q" transform="translate(102.1 23.4) scale(0.40)" fill="#1a1a20"/><use href="#q" transform="translate(160.7 23.8) scale(0.40)" fill="#681420"/><use href="#q" transform="translate(175.2 23.8) scale(0.40)" fill="#54463a"/><use href="#q" transform="translate(442.8 23.8) scale(0.40)" fill="#1a1a20"/><use href="#q" transform="translate(451.9 24.0) scale(0.40)" fill="#242838"/><use href="#q" transform="translate(508.8 24.1) scale(0.40)" fill="#48b030"/><use href="#q" transform="translate(460.0 24.1) scale(0.40)" fill="#5e7e56"/><use href="#q" transform="translate(520.7 24.2) scale(0.40)" fill="#1a1a20"/><use href="#q" transform="translate(492.3 24.3) scale(0.40)" fill="#681420"/><use href="#q" transform="translate(114.3 24.3) scale(0.40)" fill="#b8b8b4"/><use href="#q" transform="translate(123.4 24.5) scale(0.40)" fill="#1a1a20"/><use href="#q" transform="translate(466.0 24.5) scale(0.40)" fill="#b8b8b4"/><use href="#q" transform="translate(180.3 24.6) scale(0.40)" fill="#1a1a20"/><use href="#q" transform="translate(131.5 24.6) scale(0.40)" fill="#54463a"/><use href="#q" transform="translate(485.9 24.6) scale(0.40)" fill="#681420"/><use href="#q" transform="translate(192.2 24.7) scale(0.40)" fill="#1a1a20"/><use href="#q" transform="translate(477.9 24.7) scale(0.40)" fill="#3a72bc"/><use href="#q" transform="translate(435.4 24.8) scale(0.40)" fill="#6a6a70"/><use href="#q" transform="translate(472.4 24.8) scale(0.40)" fill="#2a8a2a"/><use href="#q" transform="translate(163.8 24.8) scale(0.40)" fill="#1a1a20"/><use href="#q" transform="translate(425.4 24.9) scale(0.40)" fill="#2a8a2a"/><use href="#q" transform="translate(137.5 25.0) scale(0.40)" fill="#2a56a0"/><use href="#q" transform="translate(157.4 25.1) scale(0.40)" fill="#1a1a20"/><use href="#q" transform="translate(149.4 25.2) scale(0.40)" fill="#6a6a70"/><use href="#q" transform="translate(106.9 25.3) scale(0.40)" fill="#48b030"/><use href="#q" transform="translate(499.5 25.3) scale(0.40)" fill="#54463a"/><use href="#q" transform="translate(143.9 25.3) scale(0.40)" fill="#5e7e56"/><use href="#q" transform="translate(96.9 25.4) scale(0.40)" fill="#5e7e56"/><use href="#q" transform="translate(431.9 25.4) scale(0.40)" fill="#48b030"/><use href="#q" transform="translate(503.9 25.5) scale(0.40)" fill="#48b030"/><use href="#q" transform="translate(171.0 25.8) scale(0.40)" fill="#3a72bc"/><use href="#q" transform="translate(455.6 25.8) scale(0.41)" fill="#681420"/><use href="#q" transform="translate(103.4 25.9) scale(0.40)" fill="#1a1a20"/><use href="#q" transform="translate(175.4 26.0) scale(0.40)" fill="#3a72bc"/><use href="#q" transform="translate(463.5 26.1) scale(0.41)" fill="#5e7e56"/><use href="#q" transform="translate(481.3 26.1) scale(0.41)" fill="#48b030"/><use href="#q" transform="translate(494.0 26.2) scale(0.41)" fill="#681420"/><use href="#q" transform="translate(439.8 26.2) scale(0.41)" fill="#242838"/><use href="#q" transform="translate(127.1 26.3) scale(0.41)" fill="#b81c1c"/><use href="#q" transform="translate(509.8 26.3) scale(0.41)" fill="#b8b8b4"/><use href="#q" transform="translate(447.3 26.3) scale(0.41)" fill="#2a8a2a"/><use href="#q" transform="translate(469.8 26.4) scale(0.41)" fill="#b81c1c"/><use href="#q" transform="translate(135.0 26.6) scale(0.41)" fill="#681420"/><use href="#q" transform="translate(152.8 26.6) scale(0.41)" fill="#2a56a0"/><use href="#q" transform="translate(428.3 26.7) scale(0.41)" fill="#1a1a20"/><use href="#q" transform="translate(165.5 26.7) scale(0.41)" fill="#e8e8e2"/><use href="#q" transform="translate(111.3 26.7) scale(0.41)" fill="#681420"/><use href="#q" transform="translate(181.3 26.8) scale(0.41)" fill="#6a6a70"/><use href="#q" transform="translate(118.8 26.8) scale(0.41)" fill="#b81c1c"/><use href="#q" transform="translate(422.5 26.9) scale(0.41)" fill="#2a56a0"/><use href="#q" transform="translate(141.3 26.9) scale(0.41)" fill="#e8e8e2"/><use href="#q" transform="translate(485.2 27.0) scale(0.41)" fill="#1a1a20"/><use href="#q" transform="translate(474.4 27.0) scale(0.41)" fill="#6a6a70"/><use href="#q" transform="translate(435.1 27.0) scale(0.41)" fill="#e8e8e2"/><use href="#q" transform="translate(443.2 27.1) scale(0.41)" fill="#54463a"/><use href="#q" transform="translate(99.8 27.2) scale(0.41)" fill="#2a56a0"/><use href="#q" transform="translate(94.0 27.4) scale(0.41)" fill="#e8e8e2"/><use href="#q" transform="translate(451.6 27.4) scale(0.41)" fill="#1a1a20"/><use href="#q" transform="translate(478.0 27.4) scale(0.41)" fill="#b81c1c"/><use href="#q" transform="translate(489.7 27.5) scale(0.41)" fill="#54463a"/><use href="#q" transform="translate(156.7 27.5) scale(0.41)" fill="#6a6a70"/><use href="#q" transform="translate(145.9 27.5) scale(0.41)" fill="#6a6a70"/><use href="#q" transform="translate(106.6 27.5) scale(0.41)" fill="#e8e8e2"/><use href="#q" transform="translate(114.7 27.6) scale(0.41)" fill="#b8b8b4"/><use href="#q" transform="translate(418.7 27.7) scale(0.41)" fill="#3a72bc"/><use href="#q" transform="translate(123.1 27.9) scale(0.41)" fill="#6a6a70"/><use href="#q" transform="translate(149.5 27.9) scale(0.41)" fill="#e8e8e2"/><use href="#q" transform="translate(161.2 28.0) scale(0.41)" fill="#1a1a20"/><use href="#q" transform="translate(455.8 28.0) scale(0.41)" fill="#e8e8e2"/><use href="#q" transform="translate(90.2 28.2) scale(0.41)" fill="#242838"/><use href="#q" transform="translate(459.9 28.2) scale(0.41)" fill="#1a1a20"/><use href="#q" transform="translate(507.4 28.3) scale(0.41)" fill="#8a8a90"/><use href="#q" transform="translate(501.7 28.5) scale(0.41)" fill="#242838"/><use href="#q" transform="translate(513.0 28.5) scale(0.41)" fill="#b81c1c"/><use href="#q" transform="translate(127.3 28.5) scale(0.41)" fill="#e8e8e2"/><use href="#q" transform="translate(467.8 28.6) scale(0.41)" fill="#1a1a20"/><use href="#q" transform="translate(525.2 28.7) scale(0.41)" fill="#8a8a90"/><use href="#q" transform="translate(131.4 28.7) scale(0.41)" fill="#2a56a0"/><use href="#q" transform="translate(178.9 28.8) scale(0.41)" fill="#681420"/><use href="#q" transform="translate(492.8 28.9) scale(0.41)" fill="#a8a088"/><use href="#q" transform="translate(173.2 29.0) scale(0.41)" fill="#2a56a0"/><use href="#q" transform="translate(184.5 29.0) scale(0.41)" fill="#242838"/><use href="#q" transform="translate(431.0 29.0) scale(0.41)" fill="#e8e8e2"/><use href="#q" transform="translate(421.7 29.1) scale(0.41)" fill="#54463a"/><use href="#q" transform="translate(463.8 29.1) scale(0.41)" fill="#e8e8e2"/><use href="#q" transform="translate(139.3 29.1) scale(0.41)" fill="#2a56a0"/><use href="#q" transform="translate(196.7 29.2) scale(0.41)" fill="#a8a088"/><use href="#q" transform="translate(434.7 29.3) scale(0.41)" fill="#e8e8e2"/><use href="#q" transform="translate(496.6 29.3) scale(0.41)" fill="#2a8a2a"/><use href="#q" transform="translate(164.3 29.4) scale(0.41)" fill="#54463a"/><use href="#q" transform="translate(487.7 29.4) scale(0.41)" fill="#1a1a20"/><use href="#q" transform="translate(102.5 29.5) scale(0.41)" fill="#1a1a20"/><use href="#q" transform="translate(473.5 29.5) scale(0.41)" fill="#48b030"/><use href="#q" transform="translate(448.4 29.5) scale(0.41)" fill="#6a6a70"/><use href="#q" transform="translate(93.2 29.6) scale(0.41)" fill="#681420"/><use href="#q" transform="translate(444.0 29.6) scale(0.41)" fill="#e8e8e2"/><use href="#q" transform="translate(135.3 29.6) scale(0.41)" fill="#242838"/><use href="#q" transform="translate(478.9 29.7) scale(0.41)" fill="#1a1a20"/><use href="#q" transform="translate(106.2 29.8) scale(0.41)" fill="#6a6a70"/><use href="#q" transform="translate(168.1 29.8) scale(0.41)" fill="#a8a088"/><use href="#q" transform="translate(159.2 29.9) scale(0.41)" fill="#48b030"/><use href="#q" transform="translate(484.1 29.9) scale(0.41)" fill="#a8a088"/><use href="#q" transform="translate(145.0 30.0) scale(0.41)" fill="#54463a"/><use href="#q" transform="translate(119.9 30.0) scale(0.41)" fill="#242838"/><use href="#q" transform="translate(115.5 30.1) scale(0.41)" fill="#b8b8b4"/><use href="#q" transform="translate(452.9 30.1) scale(0.41)" fill="#54463a"/><use href="#q" transform="translate(440.4 30.1) scale(0.41)" fill="#2a8a2a"/><use href="#q" transform="translate(427.1 30.1) scale(0.41)" fill="#3a72bc"/><use href="#q" transform="translate(150.4 30.2) scale(0.41)" fill="#6a6a70"/><use href="#q" transform="translate(155.6 30.4) scale(0.41)" fill="#a8a088"/><use href="#q" transform="translate(469.9 30.5) scale(0.42)" fill="#b81c1c"/><use href="#q" transform="translate(124.4 30.6) scale(0.41)" fill="#681420"/><use href="#q" transform="translate(111.9 30.6) scale(0.41)" fill="#681420"/><use href="#q" transform="translate(98.6 30.6) scale(0.41)" fill="#48b030"/><use href="#q" transform="translate(457.5 30.7) scale(0.42)" fill="#5e7e56"/><use href="#q" transform="translate(504.8 30.8) scale(0.42)" fill="#a8a088"/><use href="#q" transform="translate(514.8 30.8) scale(0.42)" fill="#2a8a2a"/><use href="#q" transform="translate(415.2 30.9) scale(0.41)" fill="#2a56a0"/><use href="#q" transform="translate(141.4 31.0) scale(0.42)" fill="#b81c1c"/><use href="#q" transform="translate(465.3 31.1) scale(0.42)" fill="#681420"/><use href="#q" transform="translate(129.0 31.2) scale(0.42)" fill="#e8e8e2"/><use href="#q" transform="translate(508.7 31.2) scale(0.42)" fill="#681420"/><use href="#q" transform="translate(176.3 31.3) scale(0.42)" fill="#1a1a20"/><use href="#q" transform="translate(421.3 31.3) scale(0.42)" fill="#2a8a2a"/><use href="#q" transform="translate(186.3 31.3) scale(0.42)" fill="#5e7e56"/><use href="#q" transform="translate(86.7 31.4) scale(0.41)" fill="#1a1a20"/><use href="#q" transform="translate(446.3 31.4) scale(0.42)" fill="#8a8a90"/><use href="#q" transform="translate(481.5 31.5) scale(0.42)" fill="#b81c1c"/><use href="#q" transform="translate(449.9 31.6) scale(0.42)" fill="#2a8a2a"/><use href="#q" transform="translate(461.1 31.6) scale(0.42)" fill="#b81c1c"/><use href="#q" transform="translate(136.8 31.6) scale(0.42)" fill="#1a1a20"/><use href="#q" transform="translate(500.1 31.7) scale(0.42)" fill="#54463a"/><use href="#q" transform="translate(180.2 31.7) scale(0.42)" fill="#681420"/><use href="#q" transform="translate(92.8 31.8) scale(0.42)" fill="#6a6a70"/><use href="#q" transform="translate(475.0 31.8) scale(0.42)" fill="#54463a"/><use href="#q" transform="translate(117.8 31.9) scale(0.42)" fill="#48b030"/><use href="#q" transform="translate(153.0 32.0) scale(0.42)" fill="#1a1a20"/><use href="#q" transform="translate(121.4 32.1) scale(0.42)" fill="#2a56a0"/><use href="#q" transform="translate(132.6 32.1) scale(0.42)" fill="#1a1a20"/><use href="#q" transform="translate(437.0 32.1) scale(0.42)" fill="#6a6a70"/><use href="#q" transform="translate(171.6 32.2) scale(0.42)" fill="#8a8a90"/><use href="#q" transform="translate(146.5 32.3) scale(0.42)" fill="#242838"/><use href="#q" transform="translate(454.9 32.3) scale(0.42)" fill="#a8a088"/><use href="#q" transform="translate(431.0 32.4) scale(0.42)" fill="#b8b8b4"/><use href="#q" transform="translate(441.9 32.5) scale(0.42)" fill="#2a56a0"/><use href="#q" transform="translate(492.0 32.6) scale(0.42)" fill="#6a6a70"/><use href="#q" transform="translate(108.5 32.6) scale(0.42)" fill="#b8b8b4"/><use href="#q" transform="translate(487.7 32.8) scale(0.42)" fill="#1a1a20"/><use href="#q" transform="translate(126.4 32.8) scale(0.42)" fill="#681420"/><use href="#q" transform="translate(470.5 32.9) scale(0.42)" fill="#6a6a70"/><use href="#q" transform="translate(102.5 32.9) scale(0.42)" fill="#242838"/><use href="#q" transform="translate(113.4 33.0) scale(0.42)" fill="#e8e8e2"/><use href="#q" transform="translate(512.5 33.1) scale(0.42)" fill="#1a1a20"/><use href="#q" transform="translate(163.5 33.1) scale(0.42)" fill="#48b030"/><use href="#q" transform="translate(496.2 33.2) scale(0.42)" fill="#1a1a20"/><use href="#q" transform="translate(159.2 33.3) scale(0.42)" fill="#242838"/><use href="#q" transform="translate(142.0 33.4) scale(0.42)" fill="#6a6a70"/><use href="#q" transform="translate(420.3 33.5) scale(0.42)" fill="#1a1a20"/><use href="#q" transform="translate(184.0 33.6) scale(0.42)" fill="#a8a088"/><use href="#q" transform="translate(445.1 33.6) scale(0.42)" fill="#1a1a20"/><use href="#q" transform="translate(434.2 33.6) scale(0.42)" fill="#e8e8e2"/><use href="#q" transform="translate(167.7 33.7) scale(0.42)" fill="#242838"/><use href="#q" transform="translate(466.4 33.7) scale(0.42)" fill="#8a8a90"/><use href="#q" transform="translate(462.7 33.7) scale(0.42)" fill="#2a56a0"/><use href="#q" transform="translate(424.4 33.9) scale(0.42)" fill="#1a1a20"/><use href="#q" transform="translate(91.8 34.0) scale(0.42)" fill="#2a56a0"/><use href="#q" transform="translate(476.7 34.0) scale(0.42)" fill="#b81c1c"/><use href="#q" transform="translate(116.6 34.1) scale(0.42)" fill="#242838"/><use href="#q" transform="translate(105.7 34.1) scale(0.42)" fill="#1a1a20"/><use href="#q" transform="translate(482.5 34.2) scale(0.42)" fill="#1a1a20"/><use href="#q" transform="translate(137.9 34.2) scale(0.42)" fill="#8a8a90"/><use href="#q" transform="translate(134.2 34.2) scale(0.42)" fill="#6a6a70"/><use href="#q" transform="translate(502.3 34.3) scale(0.42)" fill="#3a72bc"/><use href="#q" transform="translate(95.9 34.4) scale(0.42)" fill="#1a1a20"/><use href="#q" transform="translate(448.5 34.5) scale(0.42)" fill="#681420"/><use href="#q" transform="translate(148.2 34.5) scale(0.42)" fill="#242838"/><use href="#q" transform="translate(455.1 34.6) scale(0.42)" fill="#8a8a90"/><use href="#q" transform="translate(459.3 34.6) scale(0.42)" fill="#e8e8e2"/><use href="#q" transform="translate(154.0 34.7) scale(0.42)" fill="#5e7e56"/><use href="#q" transform="translate(173.8 34.8) scale(0.42)" fill="#681420"/><use href="#q" transform="translate(441.7 34.8) scale(0.42)" fill="#1a1a20"/><use href="#q" transform="translate(417.2 34.8) scale(0.42)" fill="#54463a"/><use href="#q" transform="translate(120.0 35.0) scale(0.42)" fill="#3a72bc"/><use href="#q" transform="translate(126.6 35.1) scale(0.42)" fill="#b81c1c"/><use href="#q" transform="translate(130.8 35.1) scale(0.42)" fill="#3a72bc"/><use href="#q" transform="translate(506.7 35.3) scale(0.43)" fill="#1a1a20"/><use href="#q" transform="translate(519.5 35.3) scale(0.42)" fill="#3a72bc"/><use href="#q" transform="translate(113.2 35.3) scale(0.42)" fill="#1a1a20"/><use href="#q" transform="translate(88.7 35.3) scale(0.42)" fill="#a8a088"/><use href="#q" transform="translate(494.6 35.4) scale(0.43)" fill="#b81c1c"/><use href="#q" transform="translate(470.3 35.6) scale(0.43)" fill="#2a56a0"/><use href="#q" transform="translate(178.2 35.8) scale(0.43)" fill="#54463a"/><use href="#q" transform="translate(191.0 35.8) scale(0.42)" fill="#6a6a70"/><use href="#q" transform="translate(511.7 35.8) scale(0.43)" fill="#681420"/><use href="#q" transform="translate(429.1 35.9) scale(0.43)" fill="#1a1a20"/><use href="#q" transform="translate(166.1 35.9) scale(0.43)" fill="#8a8a90"/><use href="#q" transform="translate(141.8 36.1) scale(0.43)" fill="#b81c1c"/><use href="#q" transform="translate(515.6 36.2) scale(0.43)" fill="#6a6a70"/><use href="#q" transform="translate(488.8 36.3) scale(0.43)" fill="#242838"/><use href="#q" transform="translate(183.2 36.3) scale(0.43)" fill="#681420"/><use href="#q" transform="translate(100.6 36.4) scale(0.43)" fill="#681420"/><use href="#q" transform="translate(446.1 36.4) scale(0.43)" fill="#6a6a70"/><use href="#q" transform="translate(466.0 36.4) scale(0.43)" fill="#242838"/><use href="#q" transform="translate(481.8 36.5) scale(0.43)" fill="#b8b8b4"/><use href="#q" transform="translate(436.9 36.5) scale(0.43)" fill="#1a1a20"/><use href="#q" transform="translate(420.4 36.5) scale(0.43)" fill="#6a6a70"/><use href="#q" transform="translate(477.1 36.6) scale(0.43)" fill="#8a8a90"/><use href="#q" transform="translate(498.4 36.6) scale(0.43)" fill="#b81c1c"/><use href="#q" transform="translate(187.1 36.7) scale(0.43)" fill="#8a8a90"/><use href="#q" transform="translate(160.3 36.8) scale(0.43)" fill="#b81c1c"/><use href="#q" transform="translate(453.8 36.8) scale(0.43)" fill="#48b030"/><use href="#q" transform="translate(117.6 36.9) scale(0.43)" fill="#1a1a20"/><use href="#q" transform="translate(137.5 36.9) scale(0.43)" fill="#1a1a20"/><use href="#q" transform="translate(503.4 37.0) scale(0.43)" fill="#681420"/><use href="#q" transform="translate(153.3 37.0) scale(0.43)" fill="#1a1a20"/><use href="#q" transform="translate(108.4 37.0) scale(0.43)" fill="#8a8a90"/><use href="#q" transform="translate(91.9 37.0) scale(0.43)" fill="#681420"/><use href="#q" transform="translate(148.6 37.1) scale(0.43)" fill="#1a1a20"/><use href="#q" transform="translate(169.9 37.1) scale(0.43)" fill="#54463a"/><use href="#q" transform="translate(125.3 37.3) scale(0.43)" fill="#1a1a20"/><use href="#q" transform="translate(174.9 37.5) scale(0.43)" fill="#1a1a20"/><use href="#q" transform="translate(508.1 37.7) scale(0.43)" fill="#54463a"/><use href="#q" transform="translate(426.6 37.7) scale(0.43)" fill="#a8a088"/><use href="#q" transform="translate(179.6 38.2) scale(0.43)" fill="#8a8a90"/><use href="#q" transform="translate(98.1 38.2) scale(0.43)" fill="#a8a088"/><use href="#q" transform="translate(443.6 38.3) scale(0.43)" fill="#681420"/><use href="#q" transform="translate(433.2 38.4) scale(0.43)" fill="#2a56a0"/><use href="#q" transform="translate(471.7 38.4) scale(0.43)" fill="#6a6a70"/><use href="#q" transform="translate(484.3 38.5) scale(0.43)" fill="#242838"/><use href="#q" transform="translate(461.0 38.5) scale(0.43)" fill="#2a56a0"/><use href="#q" transform="translate(456.8 38.6) scale(0.43)" fill="#1a1a20"/><use href="#q" transform="translate(421.9 38.7) scale(0.43)" fill="#2a56a0"/><use href="#q" transform="translate(512.2 38.8) scale(0.43)" fill="#6a6a70"/><use href="#q" transform="translate(115.1 38.8) scale(0.43)" fill="#b81c1c"/><use href="#q" transform="translate(104.7 38.9) scale(0.43)" fill="#a8a088"/><use href="#q" transform="translate(448.1 38.9) scale(0.43)" fill="#a8a088"/><use href="#q" transform="translate(143.2 38.9) scale(0.43)" fill="#a8a088"/><use href="#q" transform="translate(155.8 39.0) scale(0.43)" fill="#1a1a20"/><use href="#q" transform="translate(132.5 39.0) scale(0.43)" fill="#a8a088"/><use href="#q" transform="translate(480.7 39.1) scale(0.43)" fill="#54463a"/><use href="#q" transform="translate(128.3 39.1) scale(0.43)" fill="#242838"/><use href="#q" transform="translate(453.0 39.2) scale(0.43)" fill="#242838"/><use href="#q" transform="translate(489.1 39.2) scale(0.43)" fill="#242838"/><use href="#q" transform="translate(498.7 39.2) scale(0.43)" fill="#1a1a20"/><use href="#q" transform="translate(93.4 39.2) scale(0.43)" fill="#8a8a90"/><use href="#q" transform="translate(437.0 39.3) scale(0.43)" fill="#e8e8e2"/><use href="#q" transform="translate(183.7 39.3) scale(0.43)" fill="#1a1a20"/><use href="#q" transform="translate(493.1 39.4) scale(0.43)" fill="#2a56a0"/><use href="#q" transform="translate(119.6 39.4) scale(0.43)" fill="#681420"/><use href="#q" transform="translate(152.2 39.6) scale(0.43)" fill="#1a1a20"/><use href="#q" transform="translate(124.5 39.7) scale(0.43)" fill="#5e7e56"/><use href="#q" transform="translate(502.4 39.7) scale(0.44)" fill="#8a8a90"/><use href="#q" transform="translate(160.6 39.7) scale(0.43)" fill="#b8b8b4"/><use href="#q" transform="translate(170.2 39.7) scale(0.43)" fill="#1a1a20"/><use href="#q" transform="translate(108.5 39.8) scale(0.43)" fill="#b8b8b4"/><use href="#q" transform="translate(531.8 39.8) scale(0.43)" fill="#54463a"/><use href="#q" transform="translate(164.6 39.9) scale(0.43)" fill="#b81c1c"/><use href="#q" transform="translate(428.5 39.9) scale(0.44)" fill="#b81c1c"/><use href="#q" transform="translate(173.9 40.2) scale(0.44)" fill="#e8e8e2"/><use href="#q" transform="translate(507.9 40.3) scale(0.44)" fill="#1a1a20"/><use href="#q" transform="translate(203.3 40.3) scale(0.43)" fill="#2a8a2a"/><use href="#q" transform="translate(468.0 40.4) scale(0.44)" fill="#681420"/><use href="#q" transform="translate(100.0 40.4) scale(0.44)" fill="#3a72bc"/><use href="#q" transform="translate(474.3 40.5) scale(0.44)" fill="#8a8a90"/><use href="#q" transform="translate(463.8 40.6) scale(0.44)" fill="#6a6a70"/><use href="#q" transform="translate(179.4 40.8) scale(0.44)" fill="#b8b8b4"/><use href="#q" transform="translate(139.5 40.9) scale(0.44)" fill="#681420"/><use href="#q" transform="translate(432.1 40.9) scale(0.44)" fill="#5e7e56"/><use href="#q" transform="translate(450.2 40.9) scale(0.44)" fill="#b81c1c"/><use href="#q" transform="translate(405.2 40.9) scale(0.43)" fill="#1a1a20"/><use href="#q" transform="translate(445.4 40.9) scale(0.44)" fill="#6a6a70"/><use href="#q" transform="translate(145.8 41.0) scale(0.44)" fill="#2a8a2a"/><use href="#q" transform="translate(460.1 41.0) scale(0.44)" fill="#2a8a2a"/><use href="#q" transform="translate(135.3 41.1) scale(0.44)" fill="#1a1a20"/><use href="#q" transform="translate(495.6 41.2) scale(0.44)" fill="#6a6a70"/><use href="#q" transform="translate(478.5 41.2) scale(0.44)" fill="#b81c1c"/><use href="#q" transform="translate(103.6 41.4) scale(0.44)" fill="#1a1a20"/><use href="#q" transform="translate(121.7 41.4) scale(0.44)" fill="#8a8a90"/><use href="#q" transform="translate(76.7 41.4) scale(0.43)" fill="#e8e8e2"/><use href="#q" transform="translate(116.9 41.4) scale(0.44)" fill="#b81c1c"/><use href="#q" transform="translate(131.6 41.5) scale(0.44)" fill="#1a1a20"/><use href="#q" transform="translate(167.1 41.7) scale(0.44)" fill="#8a8a90"/><use href="#q" transform="translate(150.0 41.7) scale(0.44)" fill="#242838"/><use href="#q" transform="translate(456.0 41.9) scale(0.44)" fill="#b81c1c"/><use href="#q" transform="translate(502.5 42.2) scale(0.44)" fill="#2a8a2a"/><use href="#q" transform="translate(425.2 42.4) scale(0.44)" fill="#242838"/><use href="#q" transform="translate(441.2 42.4) scale(0.44)" fill="#2a56a0"/><use href="#q" transform="translate(482.8 42.4) scale(0.44)" fill="#b8b8b4"/><use href="#q" transform="translate(127.5 42.4) scale(0.44)" fill="#b81c1c"/><use href="#q" transform="translate(486.9 42.5) scale(0.44)" fill="#242838"/><use href="#q" transform="translate(510.0 42.6) scale(0.44)" fill="#1a1a20"/><use href="#q" transform="translate(174.0 42.7) scale(0.44)" fill="#e8e8e2"/><use href="#q" transform="translate(435.9 42.8) scale(0.44)" fill="#6a6a70"/><use href="#q" transform="translate(96.7 42.9) scale(0.44)" fill="#e8e8e2"/><use href="#q" transform="translate(112.7 42.9) scale(0.44)" fill="#3a72bc"/><use href="#q" transform="translate(154.3 42.9) scale(0.44)" fill="#6a6a70"/><use href="#q" transform="translate(448.0 43.0) scale(0.44)" fill="#681420"/><use href="#q" transform="translate(158.4 43.0) scale(0.44)" fill="#b8b8b4"/><use href="#q" transform="translate(181.5 43.1) scale(0.44)" fill="#b81c1c"/><use href="#q" transform="translate(452.6 43.2) scale(0.44)" fill="#681420"/><use href="#q" transform="translate(107.4 43.3) scale(0.44)" fill="#8a8a90"/><use href="#q" transform="translate(432.1 43.4) scale(0.44)" fill="#e8e8e2"/><use href="#q" transform="translate(119.5 43.5) scale(0.44)" fill="#b8b8b4"/><use href="#q" transform="translate(473.2 43.6) scale(0.44)" fill="#1a1a20"/><use href="#q" transform="translate(459.3 43.6) scale(0.44)" fill="#681420"/><use href="#q" transform="translate(124.1 43.7) scale(0.44)" fill="#b8b8b4"/><use href="#q" transform="translate(467.2 43.8) scale(0.44)" fill="#6a6a70"/><use href="#q" transform="translate(496.6 43.8) scale(0.44)" fill="#681420"/><use href="#q" transform="translate(103.6 43.9) scale(0.44)" fill="#48b030"/><use href="#q" transform="translate(491.2 44.0) scale(0.44)" fill="#b81c1c"/><use href="#q" transform="translate(463.2 44.0) scale(0.44)" fill="#2a56a0"/><use href="#q" transform="translate(479.6 44.0) scale(0.44)" fill="#b8b8b4"/><use href="#q" transform="translate(144.7 44.1) scale(0.44)" fill="#2a8a2a"/><use href="#q" transform="translate(130.8 44.1) scale(0.44)" fill="#1a1a20"/><use href="#q" transform="translate(522.9 44.2) scale(0.44)" fill="#242838"/><use href="#q" transform="translate(138.7 44.3) scale(0.44)" fill="#681420"/><use href="#q" transform="translate(168.1 44.3) scale(0.44)" fill="#8a8a90"/><use href="#q" transform="translate(444.2 44.4) scale(0.45)" fill="#242838"/><use href="#q" transform="translate(162.7 44.5) scale(0.44)" fill="#b81c1c"/><use href="#q" transform="translate(134.7 44.5) scale(0.44)" fill="#681420"/><use href="#q" transform="translate(151.1 44.5) scale(0.44)" fill="#242838"/><use href="#q" transform="translate(194.4 44.7) scale(0.44)" fill="#1a1a20"/><use href="#q" transform="translate(115.7 44.9) scale(0.45)" fill="#48b030"/><use href="#q" transform="translate(507.7 44.9) scale(0.45)" fill="#2a8a2a"/><use href="#q" transform="translate(438.1 45.0) scale(0.45)" fill="#6a6a70"/><use href="#q" transform="translate(485.3 45.1) scale(0.45)" fill="#3a72bc"/><use href="#q" transform="translate(414.1 45.3) scale(0.44)" fill="#e8e8e2"/><use href="#q" transform="translate(454.5 45.3) scale(0.45)" fill="#5e7e56"/><use href="#q" transform="translate(179.2 45.4) scale(0.45)" fill="#1a1a20"/><use href="#q" transform="translate(109.6 45.5) scale(0.45)" fill="#b81c1c"/><use href="#q" transform="translate(156.8 45.6) scale(0.45)" fill="#1a1a20"/><use href="#q" transform="translate(85.6 45.8) scale(0.44)" fill="#5e7e56"/><use href="#q" transform="translate(126.0 45.8) scale(0.45)" fill="#1a1a20"/><use href="#q" transform="translate(434.0 45.8) scale(0.45)" fill="#242838"/><use href="#q" transform="translate(494.7 45.9) scale(0.45)" fill="#8a8a90"/><use href="#q" transform="translate(498.8 45.9) scale(0.45)" fill="#2a56a0"/><use href="#q" transform="translate(476.7 46.0) scale(0.45)" fill="#681420"/><use href="#q" transform="translate(448.4 46.2) scale(0.45)" fill="#6a6a70"/><use href="#q" transform="translate(503.6 46.3) scale(0.45)" fill="#b81c1c"/><use href="#q" transform="translate(105.5 46.3) scale(0.45)" fill="#8a8a90"/><use href="#q" transform="translate(166.2 46.4) scale(0.45)" fill="#6a6a70"/><use href="#q" transform="translate(170.3 46.4) scale(0.45)" fill="#b81c1c"/><use href="#q" transform="translate(472.5 46.4) scale(0.45)" fill="#1a1a20"/><use href="#q" transform="translate(468.4 46.5) scale(0.45)" fill="#2a56a0"/><use href="#q" transform="translate(148.2 46.5) scale(0.45)" fill="#1a1a20"/><use href="#q" transform="translate(488.4 46.6) scale(0.45)" fill="#1a1a20"/><use href="#q" transform="translate(481.6 46.7) scale(0.45)" fill="#54463a"/><use href="#q" transform="translate(119.9 46.7) scale(0.45)" fill="#681420"/><use href="#q" transform="translate(460.9 46.7) scale(0.45)" fill="#1a1a20"/><use href="#q" transform="translate(175.1 46.8) scale(0.45)" fill="#2a8a2a"/><use href="#q" transform="translate(144.0 46.9) scale(0.45)" fill="#1a1a20"/><use href="#q" transform="translate(139.9 47.0) scale(0.45)" fill="#2a8a2a"/><use href="#q" transform="translate(159.9 47.1) scale(0.45)" fill="#1a1a20"/><use href="#q" transform="translate(153.1 47.2) scale(0.45)" fill="#b8b8b4"/><use href="#q" transform="translate(132.4 47.2) scale(0.45)" fill="#681420"/><use href="#q" transform="translate(443.4 47.8) scale(0.45)" fill="#681420"/><use href="#q" transform="translate(465.1 47.9) scale(0.45)" fill="#b8b8b4"/><use href="#q" transform="translate(456.9 48.0) scale(0.45)" fill="#e8e8e2"/><use href="#q" transform="translate(496.7 48.2) scale(0.45)" fill="#1a1a20"/><use href="#q" transform="translate(114.9 48.3) scale(0.45)" fill="#48b030"/><use href="#q" transform="translate(136.6 48.4) scale(0.45)" fill="#8a8a90"/><use href="#q" transform="translate(491.8 48.4) scale(0.45)" fill="#681420"/><use href="#q" transform="translate(128.4 48.5) scale(0.45)" fill="#48b030"/><use href="#q" transform="translate(525.2 48.7) scale(0.45)" fill="#1a1a20"/><use href="#q" transform="translate(168.2 48.7) scale(0.45)" fill="#b81c1c"/><use href="#q" transform="translate(476.6 48.8) scale(0.46)" fill="#2a56a0"/><use href="#q" transform="translate(450.9 48.8) scale(0.46)" fill="#e8e8e2"/><use href="#q" transform="translate(163.3 48.9) scale(0.45)" fill="#a8a088"/><use href="#q" transform="translate(487.3 49.0) scale(0.46)" fill="#6a6a70"/><use href="#q" transform="translate(196.7 49.2) scale(0.45)" fill="#2a8a2a"/><use href="#q" transform="translate(481.4 49.2) scale(0.46)" fill="#e8e8e2"/><use href="#q" transform="translate(148.1 49.3) scale(0.46)" fill="#a8a088"/><use href="#q" transform="translate(122.4 49.3) scale(0.46)" fill="#48b030"/><use href="#q" transform="translate(158.8 49.5) scale(0.46)" fill="#54463a"/><use href="#q" transform="translate(468.4 49.6) scale(0.46)" fill="#54463a"/><use href="#q" transform="translate(152.9 49.7) scale(0.46)" fill="#6a6a70"/><use href="#q" transform="translate(459.8 50.0) scale(0.46)" fill="#2a56a0"/><use href="#q" transform="translate(473.0 50.0) scale(0.46)" fill="#8a8a90"/><use href="#q" transform="translate(139.9 50.1) scale(0.46)" fill="#681420"/><use href="#q" transform="translate(131.3 50.5) scale(0.46)" fill="#e8e8e2"/><use href="#q" transform="translate(144.5 50.5) scale(0.46)" fill="#48b030"/><use href="#q" transform="translate(462.9 52.0) scale(0.46)" fill="#2a8a2a"/><use href="#q" transform="translate(489.6 52.0) scale(0.46)" fill="#b81c1c"/><use href="#q" transform="translate(510.5 52.0) scale(0.46)" fill="#e8e8e2"/><use href="#q" transform="translate(134.4 52.5) scale(0.46)" fill="#1a1a20"/><use href="#q" transform="translate(161.1 52.5) scale(0.46)" fill="#2a8a2a"/><use href="#q" transform="translate(182.0 52.5) scale(0.46)" fill="#b81c1c"/><use href="#q" transform="translate(450.7 54.2) scale(0.46)" fill="#1a1a20"/><use href="#q" transform="translate(504.1 54.2) scale(0.46)" fill="#6a6a70"/><use href="#q" transform="translate(122.2 54.7) scale(0.46)" fill="#54463a"/><use href="#q" transform="translate(175.6 54.7) scale(0.46)" fill="#2a56a0"/><use href="#q" transform="translate(405.2 55.3) scale(0.46)" fill="#54463a"/><use href="#q" transform="translate(76.7 55.8) scale(0.46)" fill="#3a72bc"/><use href="#q" transform="translate(427.4 56.4) scale(0.47)" fill="#54463a"/><use href="#q" transform="translate(438.5 56.4) scale(0.47)" fill="#8a8a90"/><use href="#q" transform="translate(496.3 56.4) scale(0.47)" fill="#1a1a20"/><use href="#q" transform="translate(98.9 56.9) scale(0.47)" fill="#b81c1c"/><use href="#q" transform="translate(110.0 56.9) scale(0.47)" fill="#2a56a0"/><use href="#q" transform="translate(167.8 56.9) scale(0.47)" fill="#1a1a20"/><use href="#q" transform="translate(478.5 57.6) scale(0.47)" fill="#b8b8b4"/><use href="#q" transform="translate(518.5 57.6) scale(0.47)" fill="#242838"/><use href="#q" transform="translate(150.0 58.1) scale(0.47)" fill="#5e7e56"/><use href="#q" transform="translate(190.0 58.1) scale(0.47)" fill="#2a8a2a"/><use href="#q" transform="translate(451.8 62.0) scale(0.48)" fill="#54463a"/><use href="#q" transform="translate(468.5 62.0) scale(0.48)" fill="#b81c1c"/><use href="#q" transform="translate(123.3 62.5) scale(0.48)" fill="#1a1a20"/><use href="#q" transform="translate(140.0 62.5) scale(0.48)" fill="#1a1a20"/><use href="#q" transform="translate(442.9 63.1) scale(0.48)" fill="#48b030"/><use href="#q" transform="translate(457.4 63.1) scale(0.48)" fill="#b81c1c"/><use href="#q" transform="translate(114.4 63.6) scale(0.48)" fill="#6a6a70"/><use href="#q" transform="translate(128.9 63.6) scale(0.48)" fill="#2a8a2a"/><use href="#q" transform="translate(427.4 65.3) scale(0.49)" fill="#b81c1c"/><use href="#q" transform="translate(98.9 65.8) scale(0.49)" fill="#1a1a20"/><use href="#q" transform="translate(504.1 66.4) scale(0.49)" fill="#b8b8b4"/><use href="#q" transform="translate(175.6 66.9) scale(0.49)" fill="#2a56a0"/><use href="#q" transform="translate(465.2 68.7) scale(0.49)" fill="#6a6a70"/><use href="#q" transform="translate(491.8 68.7) scale(0.49)" fill="#8a8a90"/><use href="#q" transform="translate(136.7 69.2) scale(0.49)" fill="#8a8a90"/><use href="#q" transform="translate(163.3 69.2) scale(0.49)" fill="#1a1a20"/><use href="#p" transform="translate(292.0 106.0) scale(0.72)" fill="#2a56a0"/><use href="#p" transform="translate(245.9 107.3) scale(0.73)" fill="#6a6a70"/><use href="#p" transform="translate(266.6 108.9) scale(0.74)" fill="#d8d8d2"/><use href="#p" transform="translate(215.3 110.3) scale(0.74)" fill="#b0bc8c"/><use href="#p" transform="translate(280.6 110.5) scale(0.74)" fill="#f2f2ee"/><use href="#p" transform="translate(296.1 113.4) scale(0.75)" fill="#6a6a70"/><use href="#p" transform="translate(332.2 113.4) scale(0.75)" fill="#5e7e56"/><use href="#p" transform="translate(192.5 115.2) scale(0.75)" fill="#1a1a20"/><use href="#p" transform="translate(221.6 117.5) scale(0.76)" fill="#2a56a0"/><use href="#p" transform="translate(256.9 118.3) scale(0.76)" fill="#2a8a2a"/><use href="#p" transform="translate(271.7 118.9) scale(0.76)" fill="#1a1a20"/><use href="#p" transform="translate(247.0 119.0) scale(0.76)" fill="#2a8a2a"/><use href="#p" transform="translate(238.7 119.1) scale(0.76)" fill="#5e7e56"/><use href="#p" transform="translate(229.1 119.4) scale(0.76)" fill="#b0bc8c"/><use href="#p" transform="translate(366.8 120.0) scale(0.76)" fill="#b0bc8c"/><use href="#p" transform="translate(308.3 120.2) scale(0.76)" fill="#6a6a70"/><use href="#p" transform="translate(264.5 120.3) scale(0.76)" fill="#6a6a70"/><use href="#p" transform="translate(284.2 120.5) scale(0.76)" fill="#2a8a2a"/><use href="#p" transform="translate(292.0 120.9) scale(0.76)" fill="#1a1a20"/><use href="#p" transform="translate(216.4 121.2) scale(0.76)" fill="#f2f2ee"/><use href="#p" transform="translate(316.4 121.6) scale(0.76)" fill="#f2f2ee"/><use href="#p" transform="translate(207.3 122.4) scale(0.77)" fill="#1a1a20"/><use href="#p" transform="translate(277.6 122.5) scale(0.77)" fill="#c41c1c"/><use href="#p" transform="translate(166.4 122.8) scale(0.77)" fill="#6a6a70"/><use href="#p" transform="translate(252.4 122.9) scale(0.77)" fill="#701420"/><use href="#p" transform="translate(197.6 123.0) scale(0.77)" fill="#d8d8d2"/><use href="#p" transform="translate(242.8 123.1) scale(0.77)" fill="#2a56a0"/><use href="#p" transform="translate(323.0 123.5) scale(0.77)" fill="#c41c1c"/><use href="#p" transform="translate(297.9 123.6) scale(0.77)" fill="#52c038"/><use href="#p" transform="translate(336.9 124.5) scale(0.77)" fill="#a0a0a8"/><use href="#p" transform="translate(266.9 124.7) scale(0.77)" fill="#242838"/><use href="#p" transform="translate(289.0 125.5) scale(0.77)" fill="#cc7a22"/><use href="#p" transform="translate(221.8 125.7) scale(0.77)" fill="#cc7a22"/><use href="#p" transform="translate(381.0 125.7) scale(0.77)" fill="#3a72bc"/><use href="#p" transform="translate(343.9 125.8) scale(0.77)" fill="#f2f2ee"/><use href="#p" transform="translate(309.4 125.8) scale(0.77)" fill="#1a1a20"/><use href="#p" transform="translate(329.7 126.0) scale(0.77)" fill="#1a1a20"/><use href="#p" transform="translate(236.8 126.1) scale(0.77)" fill="#1a1a20"/><use href="#p" transform="translate(188.3 126.2) scale(0.77)" fill="#242838"/><use href="#p" transform="translate(317.4 126.7) scale(0.77)" fill="#f2f2ee"/><use href="#p" transform="translate(247.9 126.8) scale(0.77)" fill="#d8d8d2"/><use href="#p" transform="translate(151.4 126.8) scale(0.77)" fill="#242838"/><use href="#p" transform="translate(275.1 126.9) scale(0.78)" fill="#b0bc8c"/><use href="#p" transform="translate(260.6 127.7) scale(0.78)" fill="#b0bc8c"/><use href="#p" transform="translate(229.2 127.7) scale(0.78)" fill="#a0a0a8"/><use href="#p" transform="translate(213.4 128.0) scale(0.78)" fill="#f2f2ee"/><use href="#p" transform="translate(350.6 128.4) scale(0.78)" fill="#3a72bc"/><use href="#p" transform="translate(358.1 128.9) scale(0.78)" fill="#1a1a20"/><use href="#p" transform="translate(195.5 129.0) scale(0.78)" fill="#c8c2a4"/><use href="#p" transform="translate(338.6 129.1) scale(0.78)" fill="#2a8a2a"/><use href="#p" transform="translate(324.1 129.2) scale(0.78)" fill="#242838"/><use href="#p" transform="translate(268.7 129.3) scale(0.78)" fill="#a0a0a8"/><use href="#p" transform="translate(282.6 129.4) scale(0.78)" fill="#d8d8d2"/><use href="#p" transform="translate(241.8 129.5) scale(0.78)" fill="#f2f2ee"/><use href="#p" transform="translate(299.0 129.6) scale(0.78)" fill="#6a6a70"/><use href="#p" transform="translate(203.0 130.3) scale(0.78)" fill="#52c038"/><use href="#p" transform="translate(222.0 130.8) scale(0.78)" fill="#8274a4"/><use href="#p" transform="translate(234.7 130.8) scale(0.78)" fill="#8274a4"/><use href="#p" transform="translate(290.7 131.5) scale(0.78)" fill="#f2f2ee"/><use href="#p" transform="translate(275.1 131.5) scale(0.78)" fill="#d8d8d2"/><use href="#p" transform="translate(316.7 131.7) scale(0.79)" fill="#d8d8d2"/><use href="#p" transform="translate(253.9 131.9) scale(0.79)" fill="#5e7e56"/><use href="#p" transform="translate(263.0 132.5) scale(0.79)" fill="#1a1a20"/><use href="#p" transform="translate(388.0 133.0) scale(0.78)" fill="#6a6a70"/><use href="#p" transform="translate(213.9 133.1) scale(0.79)" fill="#b0bc8c"/><use href="#p" transform="translate(361.0 133.2) scale(0.79)" fill="#701420"/><use href="#p" transform="translate(334.0 133.4) scale(0.79)" fill="#f2f2ee"/><use href="#p" transform="translate(186.0 133.6) scale(0.79)" fill="#5e7e56"/><use href="#p" transform="translate(297.3 134.3) scale(0.79)" fill="#701420"/><use href="#p" transform="translate(342.8 134.5) scale(0.79)" fill="#6a6a70"/><use href="#p" transform="translate(309.3 134.5) scale(0.79)" fill="#8274a4"/><use href="#p" transform="translate(177.7 134.5) scale(0.79)" fill="#1a1a20"/><use href="#p" transform="translate(229.0 134.6) scale(0.79)" fill="#242838"/><use href="#p" transform="translate(241.7 134.6) scale(0.79)" fill="#c8c2a4"/><use href="#p" transform="translate(369.2 134.9) scale(0.79)" fill="#701420"/><use href="#p" transform="translate(197.5 135.0) scale(0.79)" fill="#1a1a20"/><use href="#p" transform="translate(279.3 135.3) scale(0.79)" fill="#f2f2ee"/><use href="#p" transform="translate(271.2 135.7) scale(0.79)" fill="#a0a0a8"/><use href="#p" transform="translate(249.5 136.0) scale(0.79)" fill="#701420"/><use href="#p" transform="translate(353.4 136.1) scale(0.79)" fill="#1a1a20"/><use href="#p" transform="translate(325.5 136.5) scale(0.80)" fill="#242838"/><use href="#p" transform="translate(317.7 136.6) scale(0.80)" fill="#b0bc8c"/><use href="#p" transform="translate(207.4 137.2) scale(0.80)" fill="#8274a4"/><use href="#p" transform="translate(263.2 137.3) scale(0.80)" fill="#f2f2ee"/><use href="#p" transform="translate(139.0 138.0) scale(0.79)" fill="#d8d8d2"/><use href="#p" transform="translate(362.7 138.2) scale(0.80)" fill="#6a6a70"/><use href="#p" transform="translate(301.9 138.3) scale(0.80)" fill="#1a1a20"/><use href="#p" transform="translate(339.4 139.2) scale(0.80)" fill="#d8d8d2"/><use href="#p" transform="translate(186.3 139.5) scale(0.80)" fill="#242838"/><use href="#p" transform="translate(241.2 139.6) scale(0.80)" fill="#d8d8d2"/><use href="#p" transform="translate(373.6 139.8) scale(0.80)" fill="#1a1a20"/><use href="#p" transform="translate(286.1 139.9) scale(0.80)" fill="#1a1a20"/><use href="#p" transform="translate(221.6 140.0) scale(0.80)" fill="#f2f2ee"/><use href="#p" transform="translate(167.8 140.2) scale(0.80)" fill="#f2f2ee"/><use href="#p" transform="translate(312.7 140.9) scale(0.80)" fill="#c41c1c"/><use href="#p" transform="translate(199.9 140.9) scale(0.80)" fill="#52c038"/><use href="#p" transform="translate(273.6 141.1) scale(0.80)" fill="#1a1a20"/><use href="#p" transform="translate(232.9 141.3) scale(0.80)" fill="#2a56a0"/><use href="#p" transform="translate(252.0 141.6) scale(0.81)" fill="#d8d8d2"/><use href="#p" transform="translate(296.1 141.9) scale(0.81)" fill="#5e7e56"/><use href="#p" transform="translate(366.9 142.3) scale(0.81)" fill="#3a72bc"/><use href="#p" transform="translate(259.5 142.4) scale(0.81)" fill="#d8d8d2"/><use href="#p" transform="translate(180.8 142.9) scale(0.81)" fill="#1a1a20"/><use href="#p" transform="translate(331.6 143.0) scale(0.81)" fill="#52c038"/><use href="#p" transform="translate(407.0 143.0) scale(0.80)" fill="#f2f2ee"/><use href="#p" transform="translate(356.8 143.0) scale(0.81)" fill="#d8d8d2"/><use href="#p" transform="translate(348.1 143.1) scale(0.81)" fill="#f2f2ee"/><use href="#p" transform="translate(211.0 143.5) scale(0.81)" fill="#1a1a20"/><use href="#p" transform="translate(323.4 143.6) scale(0.81)" fill="#c41c1c"/><use href="#p" transform="translate(245.2 144.2) scale(0.81)" fill="#6a6a70"/><use href="#p" transform="translate(305.6 144.4) scale(0.81)" fill="#f2f2ee"/><use href="#p" transform="translate(381.7 144.5) scale(0.81)" fill="#a0a0a8"/><use href="#p" transform="translate(218.6 144.8) scale(0.81)" fill="#a0a0a8"/><use href="#p" transform="translate(278.8 144.8) scale(0.81)" fill="#d8d8d2"/><use href="#p" transform="translate(266.1 145.2) scale(0.81)" fill="#c41c1c"/><use href="#p" transform="translate(190.3 145.4) scale(0.81)" fill="#1a1a20"/><use href="#p" transform="translate(237.6 146.0) scale(0.81)" fill="#701420"/><use href="#p" transform="translate(172.1 146.0) scale(0.81)" fill="#a0a0a8"/><use href="#p" transform="translate(229.8 146.1) scale(0.81)" fill="#d8d8d2"/><use href="#p" transform="translate(198.6 146.3) scale(0.82)" fill="#1a1a20"/><use href="#p" transform="translate(362.9 146.7) scale(0.82)" fill="#f2f2ee"/><use href="#p" transform="translate(373.3 146.8) scale(0.82)" fill="#1a1a20"/><use href="#p" transform="translate(299.3 147.4) scale(0.82)" fill="#c41c1c"/><use href="#p" transform="translate(342.8 147.9) scale(0.82)" fill="#d8d8d2"/><use href="#p" transform="translate(165.3 148.2) scale(0.82)" fill="#c41c1c"/><use href="#p" transform="translate(257.2 148.5) scale(0.82)" fill="#2a8a2a"/><use href="#p" transform="translate(248.8 148.5) scale(0.82)" fill="#f2f2ee"/><use href="#p" transform="translate(322.6 148.5) scale(0.82)" fill="#54463a"/><use href="#p" transform="translate(290.3 148.8) scale(0.82)" fill="#d8d8d2"/><use href="#p" transform="translate(209.4 148.8) scale(0.82)" fill="#1a1a20"/><use href="#p" transform="translate(416.0 149.0) scale(0.81)" fill="#2a56a0"/><use href="#p" transform="translate(354.1 149.2) scale(0.82)" fill="#701420"/><use href="#p" transform="translate(313.5 149.4) scale(0.82)" fill="#f2f2ee"/><use href="#p" transform="translate(220.5 149.8) scale(0.82)" fill="#b0bc8c"/><use href="#p" transform="translate(178.8 149.8) scale(0.82)" fill="#d8d8d2"/><use href="#p" transform="translate(386.5 149.8) scale(0.82)" fill="#f2f2ee"/><use href="#p" transform="translate(305.8 150.1) scale(0.82)" fill="#a0a0a8"/><use href="#p" transform="translate(282.6 150.3) scale(0.82)" fill="#2a8a2a"/><use href="#p" transform="translate(333.4 150.5) scale(0.82)" fill="#242838"/><use href="#p" transform="translate(269.5 150.8) scale(0.82)" fill="#f2f2ee"/><use href="#p" transform="translate(231.7 150.9) scale(0.82)" fill="#701420"/><use href="#p" transform="translate(130.0 151.0) scale(0.81)" fill="#f2f2ee"/><use href="#p" transform="translate(197.7 151.9) scale(0.83)" fill="#3a72bc"/><use href="#p" transform="translate(299.0 152.4) scale(0.83)" fill="#1a1a20"/><use href="#p" transform="translate(261.5 152.6) scale(0.83)" fill="#1a1a20"/><use href="#p" transform="translate(346.2 152.7) scale(0.83)" fill="#c41c1c"/><use href="#p" transform="translate(379.5 152.8) scale(0.83)" fill="#1a1a20"/><use href="#p" transform="translate(185.4 152.9) scale(0.83)" fill="#f2f2ee"/><use href="#p" transform="translate(368.6 153.3) scale(0.83)" fill="#242838"/><use href="#p" transform="translate(146.3 153.6) scale(0.83)" fill="#1a1a20"/><use href="#p" transform="translate(163.2 153.9) scale(0.83)" fill="#a0a0a8"/><use href="#p" transform="translate(251.9 153.9) scale(0.83)" fill="#1a1a20"/><use href="#p" transform="translate(275.0 154.3) scale(0.83)" fill="#5e7e56"/><use href="#p" transform="translate(311.1 154.4) scale(0.83)" fill="#f2f2ee"/><use href="#p" transform="translate(216.7 154.4) scale(0.83)" fill="#2a8a2a"/><use href="#p" transform="translate(387.3 154.8) scale(0.83)" fill="#f2f2ee"/><use href="#p" transform="translate(175.9 154.9) scale(0.83)" fill="#a0a0a8"/><use href="#p" transform="translate(240.0 155.0) scale(0.83)" fill="#6a6a70"/><use href="#p" transform="translate(286.0 155.2) scale(0.83)" fill="#d8d8d2"/><use href="#p" transform="translate(359.3 155.2) scale(0.83)" fill="#c41c1c"/><use href="#p" transform="translate(332.6 155.7) scale(0.83)" fill="#2a56a0"/><use href="#p" transform="translate(227.7 155.8) scale(0.84)" fill="#a0a0a8"/><use href="#p" transform="translate(207.2 155.9) scale(0.84)" fill="#d8aa28"/><use href="#p" transform="translate(324.1 156.5) scale(0.84)" fill="#f2f2ee"/><use href="#p" transform="translate(375.0 157.3) scale(0.84)" fill="#701420"/><use href="#p" transform="translate(351.9 157.5) scale(0.84)" fill="#f2f2ee"/><use href="#p" transform="translate(263.4 157.5) scale(0.84)" fill="#1a1a20"/><use href="#p" transform="translate(194.0 157.8) scale(0.84)" fill="#242838"/><use href="#p" transform="translate(339.8 157.9) scale(0.84)" fill="#2a56a0"/><use href="#p" transform="translate(181.5 158.5) scale(0.84)" fill="#c41c1c"/><use href="#p" transform="translate(299.0 158.6) scale(0.84)" fill="#d8aa28"/><use href="#p" transform="translate(167.2 158.6) scale(0.84)" fill="#d8d8d2"/><use href="#p" transform="translate(255.1 158.8) scale(0.84)" fill="#1a1a20"/><use href="#p" transform="translate(403.0 159.0) scale(0.83)" fill="#1a1a20"/><use href="#p" transform="translate(235.4 159.1) scale(0.84)" fill="#c41c1c"/><use href="#p" transform="translate(307.5 159.5) scale(0.84)" fill="#f2f2ee"/><use href="#p" transform="translate(158.8 159.5) scale(0.84)" fill="#1a1a20"/><use href="#p" transform="translate(365.8 159.6) scale(0.84)" fill="#a0a0a8"/><use href="#p" transform="translate(393.4 159.7) scale(0.84)" fill="#a0a0a8"/><use href="#p" transform="translate(212.3 159.9) scale(0.84)" fill="#2a8a2a"/><use href="#p" transform="translate(271.3 160.1) scale(0.84)" fill="#c41c1c"/><use href="#p" transform="translate(287.1 160.2) scale(0.84)" fill="#52c038"/><use href="#p" transform="translate(174.4 160.9) scale(0.85)" fill="#a0a0a8"/><use href="#p" transform="translate(113.0 161.0) scale(0.83)" fill="#242838"/><use href="#p" transform="translate(385.5 161.2) scale(0.85)" fill="#701420"/><use href="#p" transform="translate(316.4 161.2) scale(0.85)" fill="#2a56a0"/><use href="#p" transform="translate(327.5 161.2) scale(0.85)" fill="#8274a4"/><use href="#p" transform="translate(243.1 161.3) scale(0.85)" fill="#1a1a20"/><use href="#p" transform="translate(201.3 161.5) scale(0.85)" fill="#242838"/><use href="#p" transform="translate(188.5 161.7) scale(0.85)" fill="#f2f2ee"/><use href="#p" transform="translate(345.9 162.2) scale(0.85)" fill="#f2f2ee"/><use href="#p" transform="translate(335.2 162.5) scale(0.85)" fill="#a0a0a8"/><use href="#p" transform="translate(224.2 163.1) scale(0.85)" fill="#b0bc8c"/><use href="#p" transform="translate(278.1 163.4) scale(0.85)" fill="#701420"/><use href="#p" transform="translate(262.7 163.5) scale(0.85)" fill="#1a1a20"/><use href="#p" transform="translate(254.4 163.8) scale(0.85)" fill="#52c038"/><use href="#p" transform="translate(165.0 164.0) scale(0.85)" fill="#d8d8d2"/><use href="#p" transform="translate(303.4 164.1) scale(0.85)" fill="#d8d8d2"/><use href="#p" transform="translate(362.9 165.1) scale(0.85)" fill="#6a6a70"/><use href="#p" transform="translate(214.4 165.2) scale(0.85)" fill="#2a8a2a"/><use href="#p" transform="translate(270.5 165.3) scale(0.85)" fill="#3a72bc"/><use href="#p" transform="translate(321.6 165.5) scale(0.86)" fill="#c8c2a4"/><use href="#p" transform="translate(236.2 165.7) scale(0.86)" fill="#6a6a70"/><use href="#p" transform="translate(312.8 165.8) scale(0.86)" fill="#701420"/><use href="#p" transform="translate(131.0 166.0) scale(0.84)" fill="#d8d8d2"/><use href="#p" transform="translate(354.9 166.1) scale(0.86)" fill="#242838"/><use href="#p" transform="translate(294.7 166.2) scale(0.86)" fill="#f2f2ee"/><use href="#p" transform="translate(373.9 166.5) scale(0.86)" fill="#c41c1c"/><use href="#p" transform="translate(204.2 166.6) scale(0.86)" fill="#1a1a20"/><use href="#p" transform="translate(394.3 166.6) scale(0.86)" fill="#2a8a2a"/><use href="#p" transform="translate(346.9 167.6) scale(0.86)" fill="#c41c1c"/><use href="#p" transform="translate(195.4 167.7) scale(0.86)" fill="#c41c1c"/><use href="#p" transform="translate(414.7 168.2) scale(0.86)" fill="#6a6a70"/><use href="#p" transform="translate(282.8 168.3) scale(0.86)" fill="#701420"/><use href="#p" transform="translate(153.2 168.3) scale(0.86)" fill="#c41c1c"/><use href="#p" transform="translate(224.2 168.3) scale(0.86)" fill="#54463a"/><use href="#p" transform="translate(174.8 168.5) scale(0.86)" fill="#1a1a20"/><use href="#p" transform="translate(184.4 168.6) scale(0.86)" fill="#f2f2ee"/><use href="#p" transform="translate(248.6 168.6) scale(0.86)" fill="#54463a"/><use href="#p" transform="translate(380.6 169.5) scale(0.86)" fill="#3a72bc"/><use href="#p" transform="translate(331.0 169.7) scale(0.86)" fill="#b0bc8c"/><use href="#p" transform="translate(210.7 170.2) scale(0.87)" fill="#2a8a2a"/><use href="#p" transform="translate(340.1 170.4) scale(0.87)" fill="#d8aa28"/><use href="#p" transform="translate(388.4 170.4) scale(0.87)" fill="#1a1a20"/><use href="#p" transform="translate(317.3 170.6) scale(0.87)" fill="#c41c1c"/><use href="#p" transform="translate(162.8 170.8) scale(0.87)" fill="#701420"/><use href="#p" transform="translate(238.1 170.9) scale(0.87)" fill="#f2f2ee"/><use href="#p" transform="translate(352.3 171.9) scale(0.87)" fill="#d8d8d2"/><use href="#p" transform="translate(305.7 172.0) scale(0.87)" fill="#a0a0a8"/><use href="#p" transform="translate(293.1 172.2) scale(0.87)" fill="#1a1a20"/><use href="#p" transform="translate(277.4 172.3) scale(0.87)" fill="#a0a0a8"/><use href="#p" transform="translate(365.6 172.6) scale(0.87)" fill="#8274a4"/><use href="#p" transform="translate(262.0 172.7) scale(0.87)" fill="#2a56a0"/><use href="#p" transform="translate(179.0 173.1) scale(0.87)" fill="#d8d8d2"/><use href="#p" transform="translate(198.4 173.3) scale(0.87)" fill="#c8c2a4"/><use href="#p" transform="translate(137.3 173.7) scale(0.87)" fill="#1a1a20"/><use href="#p" transform="translate(186.9 174.1) scale(0.87)" fill="#f2f2ee"/><use href="#p" transform="translate(269.8 174.2) scale(0.87)" fill="#f2f2ee"/><use href="#p" transform="translate(225.7 175.3) scale(0.88)" fill="#c41c1c"/><use href="#p" transform="translate(217.6 175.5) scale(0.88)" fill="#6a6a70"/><use href="#p" transform="translate(337.2 175.7) scale(0.88)" fill="#d8d8d2"/><use href="#p" transform="translate(380.6 175.9) scale(0.88)" fill="#6a6a70"/><use href="#p" transform="translate(160.0 176.0) scale(0.86)" fill="#f2f2ee"/><use href="#p" transform="translate(235.0 176.1) scale(0.88)" fill="#8274a4"/><use href="#p" transform="translate(249.4 176.4) scale(0.88)" fill="#f2f2ee"/><use href="#p" transform="translate(312.1 176.5) scale(0.88)" fill="#54463a"/><use href="#p" transform="translate(321.8 176.7) scale(0.88)" fill="#242838"/><use href="#p" transform="translate(355.1 177.2) scale(0.88)" fill="#54463a"/><use href="#p" transform="translate(301.7 177.4) scale(0.88)" fill="#f2f2ee"/><use href="#p" transform="translate(287.0 177.5) scale(0.88)" fill="#701420"/><use href="#p" transform="translate(207.4 177.6) scale(0.88)" fill="#701420"/><use href="#p" transform="translate(346.8 177.6) scale(0.88)" fill="#a0a0a8"/><use href="#p" transform="translate(432.0 178.0) scale(0.87)" fill="#f2f2ee"/><use href="#p" transform="translate(168.9 178.0) scale(0.88)" fill="#3a72bc"/><use href="#p" transform="translate(330.0 178.4) scale(0.88)" fill="#701420"/><use href="#p" transform="translate(198.5 178.6) scale(0.88)" fill="#5e7e56"/><use href="#p" transform="translate(257.4 178.9) scale(0.88)" fill="#6a6a70"/><use href="#p" transform="translate(177.1 179.1) scale(0.88)" fill="#1a1a20"/><use href="#p" transform="translate(390.4 179.4) scale(0.88)" fill="#6a6a70"/><use href="#p" transform="translate(363.4 180.1) scale(0.89)" fill="#b0bc8c"/><use href="#p" transform="translate(405.0 180.3) scale(0.89)" fill="#5e7e56"/><use href="#p" transform="translate(373.1 180.8) scale(0.89)" fill="#1a1a20"/><use href="#p" transform="translate(275.9 181.1) scale(0.89)" fill="#3a72bc"/><use href="#p" transform="translate(296.1 181.5) scale(0.89)" fill="#f2f2ee"/><use href="#p" transform="translate(310.6 181.8) scale(0.89)" fill="#2a56a0"/><use href="#p" transform="translate(238.8 181.9) scale(0.89)" fill="#3a72bc"/><use href="#p" transform="translate(230.4 181.9) scale(0.89)" fill="#d8d8d2"/><use href="#p" transform="translate(139.0 182.0) scale(0.88)" fill="#2a8a2a"/><use href="#p" transform="translate(263.9 182.1) scale(0.89)" fill="#5e7e56"/><use href="#p" transform="translate(247.5 182.3) scale(0.89)" fill="#1a1a20"/><use href="#p" transform="translate(319.1 182.4) scale(0.89)" fill="#701420"/><use href="#p" transform="translate(217.3 182.4) scale(0.89)" fill="#6a6a70"/><use href="#p" transform="translate(287.1 183.0) scale(0.89)" fill="#6a6a70"/><use href="#p" transform="translate(354.6 183.1) scale(0.89)" fill="#c41c1c"/><use href="#p" transform="translate(188.6 183.3) scale(0.89)" fill="#3a72bc"/><use href="#p" transform="translate(342.6 183.6) scale(0.89)" fill="#a0a0a8"/><use href="#p" transform="translate(331.5 183.7) scale(0.89)" fill="#8274a4"/><use href="#p" transform="translate(206.0 183.8) scale(0.89)" fill="#d8aa28"/><use href="#p" transform="translate(380.9 184.2) scale(0.89)" fill="#1a1a20"/><use href="#p" transform="translate(123.4 184.4) scale(0.89)" fill="#1a1a20"/><use href="#p" transform="translate(389.7 184.8) scale(0.90)" fill="#f2f2ee"/><use href="#p" transform="translate(181.2 186.1) scale(0.90)" fill="#f2f2ee"/><use href="#p" transform="translate(224.0 186.6) scale(0.90)" fill="#1a1a20"/><use href="#p" transform="translate(324.8 187.0) scale(0.90)" fill="#f2f2ee"/><use href="#p" transform="translate(363.0 187.1) scale(0.90)" fill="#6a6a70"/><use href="#p" transform="translate(239.1 187.2) scale(0.90)" fill="#a0a0a8"/><use href="#p" transform="translate(281.4 187.4) scale(0.90)" fill="#6a6a70"/><use href="#p" transform="translate(195.8 187.4) scale(0.90)" fill="#c8c2a4"/><use href="#p" transform="translate(259.6 187.5) scale(0.90)" fill="#c41c1c"/><use href="#p" transform="translate(249.1 187.8) scale(0.90)" fill="#8274a4"/><use href="#p" transform="translate(212.3 188.0) scale(0.90)" fill="#f2f2ee"/><use href="#p" transform="translate(336.2 188.1) scale(0.90)" fill="#54463a"/><use href="#p" transform="translate(300.9 188.2) scale(0.90)" fill="#c41c1c"/><use href="#p" transform="translate(354.7 188.5) scale(0.90)" fill="#c41c1c"/><use href="#p" transform="translate(204.1 189.0) scale(0.90)" fill="#f2f2ee"/><use href="#p" transform="translate(409.0 189.0) scale(0.89)" fill="#a0a0a8"/><use href="#p" transform="translate(316.9 189.1) scale(0.90)" fill="#1a1a20"/><use href="#p" transform="translate(230.8 189.7) scale(0.91)" fill="#f2f2ee"/><use href="#p" transform="translate(271.7 189.7) scale(0.91)" fill="#d8d8d2"/><use href="#p" transform="translate(154.8 190.3) scale(0.91)" fill="#52c038"/><use href="#p" transform="translate(290.5 190.9) scale(0.91)" fill="#c41c1c"/><use href="#p" transform="translate(375.0 191.0) scale(0.90)" fill="#f2f2ee"/><use href="#p" transform="translate(327.9 192.3) scale(0.91)" fill="#c8c2a4"/><use href="#p" transform="translate(219.9 192.7) scale(0.91)" fill="#1a1a20"/><use href="#p" transform="translate(308.3 192.9) scale(0.91)" fill="#701420"/><use href="#p" transform="translate(142.0 193.0) scale(0.90)" fill="#1a1a20"/><use href="#p" transform="translate(366.0 193.3) scale(0.91)" fill="#2a8a2a"/><use href="#p" transform="translate(279.7 193.3) scale(0.91)" fill="#1a1a20"/><use href="#p" transform="translate(347.9 193.4) scale(0.91)" fill="#1a1a20"/><use href="#p" transform="translate(338.5 193.9) scale(0.91)" fill="#b0bc8c"/><use href="#p" transform="translate(263.2 194.2) scale(0.91)" fill="#f2f2ee"/><use href="#p" transform="translate(254.8 194.4) scale(0.92)" fill="#a0a0a8"/><use href="#p" transform="translate(299.8 194.9) scale(0.92)" fill="#2a56a0"/><use href="#p" transform="translate(124.9 194.9) scale(0.92)" fill="#1a1a20"/><use href="#p" transform="translate(355.6 195.7) scale(0.92)" fill="#54463a"/><use href="#p" transform="translate(241.9 196.5) scale(0.92)" fill="#2a56a0"/><use href="#p" transform="translate(321.5 196.8) scale(0.92)" fill="#1a1a20"/><use href="#p" transform="translate(229.3 197.4) scale(0.92)" fill="#701420"/><use href="#p" transform="translate(290.2 197.6) scale(0.92)" fill="#1a1a20"/><use href="#p" transform="translate(415.0 198.0) scale(0.91)" fill="#5e7e56"/><use href="#p" transform="translate(188.0 198.0) scale(0.91)" fill="#6a6a70"/><use href="#p" transform="translate(269.1 198.2) scale(0.92)" fill="#1a1a20"/><use href="#p" transform="translate(207.3 198.5) scale(0.92)" fill="#5e7e56"/><use href="#p" transform="translate(310.7 198.7) scale(0.92)" fill="#1a1a20"/><use href="#p" transform="translate(365.7 198.8) scale(0.92)" fill="#d8d8d2"/><use href="#p" transform="translate(174.0 199.4) scale(0.93)" fill="#d8d8d2"/><use href="#p" transform="translate(253.4 199.9) scale(0.93)" fill="#c41c1c"/><use href="#p" transform="translate(347.0 201.0) scale(0.92)" fill="#f2f2ee"/><use href="#p" transform="translate(278.2 201.3) scale(0.93)" fill="#d8d8d2"/><use href="#p" transform="translate(330.1 201.3) scale(0.93)" fill="#2a8a2a"/><use href="#p" transform="translate(245.3 202.0) scale(0.93)" fill="#8274a4"/><use href="#p" transform="translate(296.1 202.3) scale(0.93)" fill="#b0bc8c"/><use href="#p" transform="translate(286.8 202.9) scale(0.93)" fill="#2a56a0"/><use href="#p" transform="translate(393.0 203.0) scale(0.92)" fill="#c8c2a4"/><use href="#p" transform="translate(338.3 203.7) scale(0.93)" fill="#242838"/><use href="#p" transform="translate(318.0 204.0) scale(0.92)" fill="#c41c1c"/><use href="#p" transform="translate(304.8 204.5) scale(0.94)" fill="#8274a4"/><use href="#p" transform="translate(228.0 205.0) scale(0.92)" fill="#2a8a2a"/><use href="#p" transform="translate(262.2 205.2) scale(0.94)" fill="#2a56a0"/><use href="#p" transform="translate(132.8 205.5) scale(0.94)" fill="#cc7a22"/><use href="#p" transform="translate(113.0 206.0) scale(0.93)" fill="#5e7e56"/><use href="#p" transform="translate(278.5 206.9) scale(0.94)" fill="#701420"/><use href="#p" transform="translate(292.1 207.4) scale(0.94)" fill="#52c038"/><use href="#p" transform="translate(145.0 207.8) scale(0.94)" fill="#1a1a20"/><use href="#p" transform="translate(361.0 210.0) scale(0.94)" fill="#6a6a70"/><use href="#p" transform="translate(170.0 211.0) scale(0.94)" fill="#242838"/><use href="#p" transform="translate(196.0 211.0) scale(0.94)" fill="#701420"/><use href="#p" transform="translate(211.8 211.5) scale(0.95)" fill="#2a56a0"/><use href="#p" transform="translate(375.3 212.4) scale(0.95)" fill="#f2f2ee"/><use href="#p" transform="translate(326.7 215.0) scale(0.96)" fill="#5e7e56"/><use href="#p" transform="translate(265.0 216.0) scale(0.95)" fill="#5e7e56"/><use href="#p" transform="translate(238.0 217.0) scale(0.95)" fill="#1a1a20"/><use href="#p" transform="translate(340.0 218.0) scale(0.95)" fill="#d8d8d2"/><use href="#p" transform="translate(364.4 218.9) scale(0.97)" fill="#54463a"/><use href="#p" transform="translate(297.0 221.0) scale(0.96)" fill="#f2f2ee"/><use href="#p" transform="translate(215.8 221.6) scale(0.97)" fill="#242838"/><use href="#p" transform="translate(137.7 223.1) scale(0.97)" fill="#1a1a20"/><use href="#p" transform="translate(314.9 223.7) scale(0.98)" fill="#f2f2ee"/><use href="#p" transform="translate(195.5 223.8) scale(0.98)" fill="#f2f2ee"/><use href="#p" transform="translate(396.0 225.0) scale(0.97)" fill="#2a56a0"/><use href="#p" transform="translate(168.0 227.0) scale(0.97)" fill="#701420"/><use href="#p" transform="translate(228.0 227.0) scale(0.97)" fill="#d8d8d2"/><use href="#p" transform="translate(208.0 230.0) scale(0.98)" fill="#c8c2a4"/><use href="#p" transform="translate(270.0 230.0) scale(0.98)" fill="#c41c1c"/><use href="#p" transform="translate(374.5 231.0) scale(0.99)" fill="#6a6a70"/><use href="#p" transform="translate(244.0 231.0) scale(0.98)" fill="#52c038"/><use href="#p" transform="translate(328.7 231.6) scale(0.99)" fill="#54463a"/><use href="#p" transform="translate(255.1 235.7) scale(1.00)" fill="#242838"/><use href="#p" transform="translate(300.0 236.0) scale(0.99)" fill="#f2f2ee"/><use href="#p" transform="translate(509.1 236.5) scale(0.79)" fill="#c41c1c"/><use href="#p" transform="translate(516.9 237.5) scale(0.79)" fill="#d8d8d2"/><use href="#p" transform="translate(525.0 237.7) scale(0.79)" fill="#242838"/><use href="#p" transform="translate(180.9 238.6) scale(1.01)" fill="#cc7a22"/><use href="#p" transform="translate(499.0 239.6) scale(0.80)" fill="#54463a"/><use href="#p" transform="translate(278.3 239.8) scale(1.01)" fill="#6a6a70"/><use href="#p" transform="translate(231.9 240.9) scale(1.01)" fill="#d8d8d2"/><use href="#p" transform="translate(361.0 241.0) scale(1.00)" fill="#701420"/><use href="#p" transform="translate(207.3 241.9) scale(1.01)" fill="#d8aa28"/><use href="#p" transform="translate(508.5 242.0) scale(0.81)" fill="#d8d8d2"/><use href="#p" transform="translate(486.6 242.8) scale(0.81)" fill="#f2f2ee"/><use href="#p" transform="translate(536.0 243.6) scale(0.82)" fill="#f2f2ee"/><use href="#p" transform="translate(312.4 243.7) scale(1.02)" fill="#f2f2ee"/><use href="#p" transform="translate(516.6 244.1) scale(0.82)" fill="#2a56a0"/><use href="#p" transform="translate(387.0 245.0) scale(1.02)" fill="#c41c1c"/><use href="#p" transform="translate(262.0 245.0) scale(1.01)" fill="#54463a"/><use href="#p" transform="translate(549.6 245.2) scale(0.82)" fill="#1a1a20"/><use href="#p" transform="translate(332.0 246.0) scale(1.01)" fill="#701420"/><use href="#p" transform="translate(492.7 247.0) scale(0.83)" fill="#1a1a20"/><use href="#p" transform="translate(479.6 247.2) scale(0.83)" fill="#2a56a0"/><use href="#p" transform="translate(467.6 247.9) scale(0.82)" fill="#3a72bc"/><use href="#p" transform="translate(528.3 249.0) scale(0.83)" fill="#f2f2ee"/><use href="#p" transform="translate(298.9 249.6) scale(1.03)" fill="#1a1a20"/><use href="#p" transform="translate(506.4 249.9) scale(0.84)" fill="#f2f2ee"/><use href="#p" transform="translate(541.7 251.0) scale(0.84)" fill="#a0a0a8"/><use href="#p" transform="translate(560.9 251.0) scale(0.83)" fill="#d8d8d2"/><use href="#p" transform="translate(551.9 251.3) scale(0.84)" fill="#52c038"/><use href="#p" transform="translate(485.1 252.3) scale(0.85)" fill="#c41c1c"/><use href="#p" transform="translate(473.8 253.6) scale(0.85)" fill="#54463a"/><use href="#p" transform="translate(498.9 254.2) scale(0.85)" fill="#701420"/><use href="#p" transform="translate(515.1 254.3) scale(0.85)" fill="#1a1a20"/><use href="#p" transform="translate(534.3 255.0) scale(0.86)" fill="#c8c2a4"/><use href="#p" transform="translate(524.9 255.2) scale(0.86)" fill="#d8d8d2"/><use href="#p" transform="translate(450.4 255.7) scale(0.84)" fill="#c41c1c"/><use href="#p" transform="translate(548.7 256.8) scale(0.86)" fill="#1a1a20"/><use href="#p" transform="translate(560.5 258.7) scale(0.87)" fill="#2a56a0"/><use href="#p" transform="translate(578.0 258.8) scale(0.85)" fill="#d8d8d2"/><use href="#p" transform="translate(540.7 259.3) scale(0.87)" fill="#1a1a20"/><use href="#p" transform="translate(487.2 259.3) scale(0.87)" fill="#d8d8d2"/><use href="#p" transform="translate(510.5 260.1) scale(0.87)" fill="#a0a0a8"/><use href="#p" transform="translate(527.3 261.2) scale(0.88)" fill="#5e7e56"/><use href="#p" transform="translate(466.9 262.4) scale(0.88)" fill="#f2f2ee"/><use href="#p" transform="translate(475.8 263.3) scale(0.88)" fill="#242838"/><use href="#p" transform="translate(549.8 263.8) scale(0.89)" fill="#1a1a20"/><use href="#p" transform="translate(517.5 263.9) scale(0.89)" fill="#a0a0a8"/><use href="#p" transform="translate(499.9 265.6) scale(0.89)" fill="#f2f2ee"/><use href="#p" transform="translate(537.7 265.7) scale(0.89)" fill="#f2f2ee"/><use href="#p" transform="translate(561.9 268.0) scale(0.90)" fill="#c41c1c"/><use href="#p" transform="translate(468.7 269.3) scale(0.90)" fill="#1a1a20"/><use href="#p" transform="translate(453.6 269.7) scale(0.89)" fill="#6a6a70"/><use href="#p" transform="translate(574.9 269.7) scale(0.89)" fill="#1a1a20"/><use href="#p" transform="translate(507.5 269.7) scale(0.91)" fill="#1a1a20"/><use href="#p" transform="translate(480.9 270.1) scale(0.91)" fill="#54463a"/><use href="#p" transform="translate(548.1 270.4) scale(0.91)" fill="#701420"/><use href="#p" transform="translate(587.3 271.2) scale(0.90)" fill="#1a1a20"/><use href="#p" transform="translate(489.7 271.8) scale(0.91)" fill="#f2f2ee"/><use href="#p" transform="translate(525.7 272.2) scale(0.92)" fill="#c41c1c"/><use href="#p" transform="translate(516.7 275.4) scale(0.93)" fill="#d8d8d2"/><use href="#p" transform="translate(564.7 275.5) scale(0.93)" fill="#242838"/><use href="#p" transform="translate(424.0 275.9) scale(0.91)" fill="#b0bc8c"/><use href="#p" transform="translate(503.8 276.2) scale(0.93)" fill="#52c038"/><use href="#p" transform="translate(470.9 276.4) scale(0.93)" fill="#d8d8d2"/><use href="#p" transform="translate(533.5 276.4) scale(0.93)" fill="#b0bc8c"/><use href="#p" transform="translate(554.1 277.1) scale(0.93)" fill="#6a6a70"/><use href="#p" transform="translate(482.4 277.3) scale(0.93)" fill="#6a6a70"/><use href="#p" transform="translate(441.1 279.0) scale(0.93)" fill="#c8c2a4"/><use href="#p" transform="translate(602.9 280.6) scale(0.93)" fill="#c41c1c"/><use href="#p" transform="translate(545.0 281.1) scale(0.95)" fill="#1a1a20"/><use href="#p" transform="translate(510.6 281.9) scale(0.95)" fill="#6a6a70"/><use href="#p" transform="translate(563.1 281.9) scale(0.95)" fill="#6a6a70"/><use href="#p" transform="translate(465.1 282.3) scale(0.95)" fill="#1a1a20"/><use href="#p" transform="translate(500.2 282.3) scale(0.95)" fill="#242838"/><use href="#p" transform="translate(489.5 283.0) scale(0.95)" fill="#f2f2ee"/><use href="#p" transform="translate(587.3 283.7) scale(0.94)" fill="#242838"/><use href="#p" transform="translate(530.8 284.6) scale(0.96)" fill="#f2f2ee"/><use href="#p" transform="translate(520.4 285.5) scale(0.96)" fill="#f2f2ee"/><use href="#p" transform="translate(550.4 286.7) scale(0.97)" fill="#f2f2ee"/><use href="#p" transform="translate(539.9 287.6) scale(0.97)" fill="#1a1a20"/><use href="#p" transform="translate(480.5 287.8) scale(0.97)" fill="#c8c2a4"/><use href="#p" transform="translate(470.6 288.6) scale(0.97)" fill="#5e7e56"/><use href="#p" transform="translate(559.8 289.1) scale(0.97)" fill="#d8d8d2"/><use href="#p" transform="translate(513.0 290.7) scale(0.98)" fill="#1a1a20"/><use href="#p" transform="translate(498.0 293.4) scale(0.99)" fill="#1a1a20"/><use href="#p" transform="translate(525.2 293.7) scale(0.99)" fill="#52c038"/><use href="#p" transform="translate(448.9 294.6) scale(0.98)" fill="#b0bc8c"/><use href="#p" transform="translate(478.7 294.9) scale(0.99)" fill="#54463a"/><use href="#p" transform="translate(535.5 295.8) scale(1.00)" fill="#2a8a2a"/><use href="#p" transform="translate(546.4 296.1) scale(1.00)" fill="#3a72bc"/><use href="#p" transform="translate(556.2 297.7) scale(0.99)" fill="#c41c1c"/><use href="#p" transform="translate(487.8 299.9) scale(1.01)" fill="#242838"/><use href="#p" transform="translate(579.6 302.3) scale(1.01)" fill="#d8d8d2"/><use href="#p" transform="translate(519.5 302.3) scale(1.02)" fill="#c8c2a4"/><use href="#p" transform="translate(542.1 302.6) scale(1.02)" fill="#a0a0a8"/><use href="#p" transform="translate(504.5 303.0) scale(1.02)" fill="#b0bc8c"/><use href="#p" transform="translate(534.0 308.2) scale(1.04)" fill="#a0a0a8"/><use href="#p" transform="translate(450.4 308.6) scale(1.03)" fill="#701420"/><use href="#p" transform="translate(514.2 309.0) scale(1.04)" fill="#701420"/><use href="#p" transform="translate(574.9 311.7) scale(1.04)" fill="#d8d8d2"/><use href="#p" transform="translate(503.3 314.8) scale(1.05)" fill="#1a1a20"/><use href="#p" transform="translate(424.0 321.0) scale(1.07)" fill="#c41c1c"/><use href="#p" transform="translate(548.5 321.0) scale(1.07)" fill="#1a1a20"/><use href="#p" transform="translate(476.9 324.1) scale(1.08)" fill="#f2f2ee"/><use href="#p" transform="translate(492.5 324.1) scale(1.08)" fill="#c8c2a4"/><use href="#p" transform="translate(602.9 324.1) scale(1.08)" fill="#2a8a2a"/><use href="#p" transform="translate(523.6 328.8) scale(1.10)" fill="#1a1a20"/><use href="#p" transform="translate(550.0 331.9) scale(1.11)" fill="#c41c1c"/><use href="#p" transform="translate(478.4 341.2) scale(1.14)" fill="#a0a0a8"/><use href="#p" transform="translate(490.9 345.9) scale(1.16)" fill="#1a1a20"/><use href="#p" transform="translate(511.1 345.9) scale(1.16)" fill="#2a56a0"/><use href="#p" transform="translate(550.0 350.6) scale(1.18)" fill="#3a72bc"/></g>
<path d="M321.5 366L322.5 359Q323.5 354.5 327 354.5Q331 354.5 332 359L333 366Q327 367.5 321.5 366Z" fill="#5a0e12"/>
<circle cx="328.3" cy="350.6" r="4.9" fill="#2ae838"/>
<path d="M288.9 70.0C290.6 71.3 295.9 74.7 299.4 78.0C302.9 81.3 307.0 86.0 309.8 89.8C312.6 93.6 314.3 96.8 316.1 100.6C317.9 104.4 319.1 108.5 320.4 112.6C321.6 116.7 322.8 121.2 323.6 125.3C324.4 129.4 325.0 135.3 325.3 137.3M325.3 137.3C326.4 137.1 329.1 135.6 332.0 135.8C334.9 136.1 339.9 137.1 343.0 138.8C346.1 140.5 349.0 142.8 350.5 146.0C352.0 149.2 352.9 154.6 352.2 158.0C351.4 161.4 348.7 165.3 346.0 166.5C343.3 167.7 338.8 166.9 336.0 165.0C333.2 163.1 330.7 158.5 329.0 155.0C327.3 151.5 326.6 146.9 326.0 144.0C325.4 141.1 325.4 138.4 325.3 137.3M324.0 140.0C323.3 140.7 321.8 142.5 319.7 144.4C317.6 146.3 314.5 149.1 311.2 151.5C307.9 153.9 303.6 156.7 299.7 158.9C295.8 161.1 291.8 163.5 287.8 164.9C283.9 166.3 280.1 167.0 276.0 167.2C271.9 167.4 267.6 166.7 263.5 166.0C259.4 165.3 255.3 164.6 251.7 163.0C248.0 161.4 244.4 159.5 241.6 156.6C238.8 153.7 236.0 149.5 235.0 145.3C234.0 141.2 234.1 135.5 235.4 131.7C236.7 127.9 239.7 124.2 242.8 122.5C245.9 120.8 250.7 120.2 254.0 121.6C257.3 123.0 262.1 127.4 262.7 130.8C263.3 134.2 260.2 139.4 257.6 142.3C255.0 145.2 250.2 147.2 246.9 148.3C243.6 149.4 239.5 148.9 238.0 149.0M316.0 150.0C315.6 151.2 314.3 153.9 313.3 157.0C312.3 160.1 310.9 164.2 310.2 168.4C309.5 172.6 309.0 177.8 309.2 182.1C309.4 186.4 310.2 190.4 311.3 194.5C312.4 198.6 314.0 202.7 315.9 206.5C317.8 210.3 320.3 213.7 322.7 217.3C325.1 220.9 327.7 224.6 330.0 228.2C332.3 231.8 335.2 236.5 336.7 239.1C338.2 241.7 338.6 243.2 339.0 244.0M334.0 282.0C333.4 282.4 331.9 283.5 330.4 284.5C328.9 285.5 327.1 286.6 324.9 287.8C322.7 289.0 320.5 291.5 317.3 291.6C314.1 291.7 308.7 290.8 305.8 288.3C302.9 285.8 300.2 280.6 299.8 276.8C299.4 273.0 301.1 267.0 303.6 265.4C306.1 263.8 311.7 264.9 314.6 267.0C317.5 269.1 319.6 273.9 321.1 277.9C322.6 281.9 323.4 286.6 323.8 291.0C324.2 295.4 324.2 299.9 323.8 304.1C323.4 308.3 322.6 311.7 321.7 316.1C320.8 320.5 319.1 327.3 318.4 330.3C317.7 333.3 317.7 333.4 317.6 334.0" fill="none" stroke="#fff" stroke-width="5.6" stroke-dasharray="4 8" stroke-dashoffset="-1.3" stroke-linecap="round" stroke-linejoin="round"/>
<path d="M288.9 70.0C290.6 71.3 295.9 74.7 299.4 78.0C302.9 81.3 307.0 86.0 309.8 89.8C312.6 93.6 314.3 96.8 316.1 100.6C317.9 104.4 319.1 108.5 320.4 112.6C321.6 116.7 322.8 121.2 323.6 125.3C324.4 129.4 325.0 135.3 325.3 137.3M325.3 137.3C326.4 137.1 329.1 135.6 332.0 135.8C334.9 136.1 339.9 137.1 343.0 138.8C346.1 140.5 349.0 142.8 350.5 146.0C352.0 149.2 352.9 154.6 352.2 158.0C351.4 161.4 348.7 165.3 346.0 166.5C343.3 167.7 338.8 166.9 336.0 165.0C333.2 163.1 330.7 158.5 329.0 155.0C327.3 151.5 326.6 146.9 326.0 144.0C325.4 141.1 325.4 138.4 325.3 137.3M324.0 140.0C323.3 140.7 321.8 142.5 319.7 144.4C317.6 146.3 314.5 149.1 311.2 151.5C307.9 153.9 303.6 156.7 299.7 158.9C295.8 161.1 291.8 163.5 287.8 164.9C283.9 166.3 280.1 167.0 276.0 167.2C271.9 167.4 267.6 166.7 263.5 166.0C259.4 165.3 255.3 164.6 251.7 163.0C248.0 161.4 244.4 159.5 241.6 156.6C238.8 153.7 236.0 149.5 235.0 145.3C234.0 141.2 234.1 135.5 235.4 131.7C236.7 127.9 239.7 124.2 242.8 122.5C245.9 120.8 250.7 120.2 254.0 121.6C257.3 123.0 262.1 127.4 262.7 130.8C263.3 134.2 260.2 139.4 257.6 142.3C255.0 145.2 250.2 147.2 246.9 148.3C243.6 149.4 239.5 148.9 238.0 149.0M316.0 150.0C315.6 151.2 314.3 153.9 313.3 157.0C312.3 160.1 310.9 164.2 310.2 168.4C309.5 172.6 309.0 177.8 309.2 182.1C309.4 186.4 310.2 190.4 311.3 194.5C312.4 198.6 314.0 202.7 315.9 206.5C317.8 210.3 320.3 213.7 322.7 217.3C325.1 220.9 327.7 224.6 330.0 228.2C332.3 231.8 335.2 236.5 336.7 239.1C338.2 241.7 338.6 243.2 339.0 244.0M334.0 282.0C333.4 282.4 331.9 283.5 330.4 284.5C328.9 285.5 327.1 286.6 324.9 287.8C322.7 289.0 320.5 291.5 317.3 291.6C314.1 291.7 308.7 290.8 305.8 288.3C302.9 285.8 300.2 280.6 299.8 276.8C299.4 273.0 301.1 267.0 303.6 265.4C306.1 263.8 311.7 264.9 314.6 267.0C317.5 269.1 319.6 273.9 321.1 277.9C322.6 281.9 323.4 286.6 323.8 291.0C324.2 295.4 324.2 299.9 323.8 304.1C323.4 308.3 322.6 311.7 321.7 316.1C320.8 320.5 319.1 327.3 318.4 330.3C317.7 333.3 317.7 333.4 317.6 334.0" fill="none" stroke="#48bcd4" stroke-width="3.4" stroke-dasharray="7.4 4.6" stroke-dashoffset="0.45"/>
<path d="M288.9 70.0C290.6 71.3 295.9 74.7 299.4 78.0C302.9 81.3 307.0 86.0 309.8 89.8C312.6 93.6 314.3 96.8 316.1 100.6C317.9 104.4 319.1 108.5 320.4 112.6C321.6 116.7 322.8 121.2 323.6 125.3C324.4 129.4 325.0 135.3 325.3 137.3M325.3 137.3C326.4 137.1 329.1 135.6 332.0 135.8C334.9 136.1 339.9 137.1 343.0 138.8C346.1 140.5 349.0 142.8 350.5 146.0C352.0 149.2 352.9 154.6 352.2 158.0C351.4 161.4 348.7 165.3 346.0 166.5C343.3 167.7 338.8 166.9 336.0 165.0C333.2 163.1 330.7 158.5 329.0 155.0C327.3 151.5 326.6 146.9 326.0 144.0C325.4 141.1 325.4 138.4 325.3 137.3M324.0 140.0C323.3 140.7 321.8 142.5 319.7 144.4C317.6 146.3 314.5 149.1 311.2 151.5C307.9 153.9 303.6 156.7 299.7 158.9C295.8 161.1 291.8 163.5 287.8 164.9C283.9 166.3 280.1 167.0 276.0 167.2C271.9 167.4 267.6 166.7 263.5 166.0C259.4 165.3 255.3 164.6 251.7 163.0C248.0 161.4 244.4 159.5 241.6 156.6C238.8 153.7 236.0 149.5 235.0 145.3C234.0 141.2 234.1 135.5 235.4 131.7C236.7 127.9 239.7 124.2 242.8 122.5C245.9 120.8 250.7 120.2 254.0 121.6C257.3 123.0 262.1 127.4 262.7 130.8C263.3 134.2 260.2 139.4 257.6 142.3C255.0 145.2 250.2 147.2 246.9 148.3C243.6 149.4 239.5 148.9 238.0 149.0M316.0 150.0C315.6 151.2 314.3 153.9 313.3 157.0C312.3 160.1 310.9 164.2 310.2 168.4C309.5 172.6 309.0 177.8 309.2 182.1C309.4 186.4 310.2 190.4 311.3 194.5C312.4 198.6 314.0 202.7 315.9 206.5C317.8 210.3 320.3 213.7 322.7 217.3C325.1 220.9 327.7 224.6 330.0 228.2C332.3 231.8 335.2 236.5 336.7 239.1C338.2 241.7 338.6 243.2 339.0 244.0M334.0 282.0C333.4 282.4 331.9 283.5 330.4 284.5C328.9 285.5 327.1 286.6 324.9 287.8C322.7 289.0 320.5 291.5 317.3 291.6C314.1 291.7 308.7 290.8 305.8 288.3C302.9 285.8 300.2 280.6 299.8 276.8C299.4 273.0 301.1 267.0 303.6 265.4C306.1 263.8 311.7 264.9 314.6 267.0C317.5 269.1 319.6 273.9 321.1 277.9C322.6 281.9 323.4 286.6 323.8 291.0C324.2 295.4 324.2 299.9 323.8 304.1C323.4 308.3 322.6 311.7 321.7 316.1C320.8 320.5 319.1 327.3 318.4 330.3C317.7 333.3 317.7 333.4 317.6 334.0" fill="none" stroke="#16718a" stroke-width="2.4" stroke-dasharray="6.5 5.5"/>
<path d="M307.6 48.3C309.2 49.2 314.0 51.8 317.2 53.5C320.4 55.2 323.8 57.3 326.9 58.7C330.0 60.1 333.7 60.7 335.7 61.7C337.7 62.8 338.0 63.7 338.9 65.0C339.8 66.3 340.1 67.8 341.2 69.5C342.3 71.2 343.3 73.1 345.4 75.0C347.4 76.9 350.6 79.4 353.5 80.9C356.4 82.4 359.8 83.5 363.1 83.9C366.4 84.3 370.0 83.8 373.5 83.1C377.0 82.3 380.6 80.6 383.9 79.4C387.2 78.2 390.1 76.8 393.5 75.7C396.9 74.6 400.5 73.5 404.0 72.7C407.5 71.9 411.0 70.7 414.3 71.1C417.6 71.5 420.7 73.0 423.6 75.0C426.5 77.0 429.4 80.2 431.7 83.1C434.0 86.0 436.1 89.3 437.5 92.4C438.9 95.5 439.6 98.5 439.8 101.6C440.0 104.7 438.7 108.0 438.8 111.0C438.9 114.0 439.3 116.4 440.2 119.5C441.1 122.6 442.9 125.8 444.4 129.4C445.9 133.0 447.3 137.1 449.0 140.9C450.7 144.8 453.1 148.7 454.8 152.5C456.5 156.3 458.1 160.2 459.0 164.0C459.9 167.8 459.9 171.3 459.9 175.6C459.9 179.8 459.6 185.3 459.0 189.5C458.4 193.7 457.1 197.2 456.0 201.0C454.9 204.8 453.9 209.4 452.5 212.6C451.1 215.8 449.7 218.2 447.8 220.1C445.9 222.0 444.0 222.7 441.4 224.0C438.8 225.3 435.4 226.1 432.4 227.8C429.4 229.5 426.1 231.8 423.4 234.3C420.7 236.8 418.3 239.6 416.3 242.6C414.3 245.6 412.4 249.0 411.2 252.3C410.0 255.6 409.7 259.1 409.3 262.5C408.9 265.9 408.7 269.2 408.6 272.8C408.5 276.4 408.7 280.8 408.6 284.4C408.5 288.0 408.3 291.5 408.0 294.7C407.7 297.9 406.9 302.2 406.7 303.7M378.4 327.5C377.1 329.1 373.8 334.1 370.8 337.2C367.9 340.3 364.2 343.0 360.7 346.0C357.2 349.0 351.8 353.7 350.0 355.2" fill="none" stroke="#c9282e" stroke-width="2.4" stroke-dasharray="5.2 4.6"/>
<path d="M283 44L297 61M297 44L283 61" stroke="#e0101c" stroke-width="4.2" stroke-linecap="butt"/>
<circle cx="340.2" cy="264.7" r="17.3" fill="#1f8c84"/>
<path d="M336.3 256.4H342.3V272.4H345.2V276.1H333.6V272.4H336.5V263H333.5V259.2Q335.8 258.8 336.3 256.4Z" fill="#fff"/>
<circle cx="392.9" cy="318.2" r="16" fill="#d03a3a"/>
<text transform="translate(392.4 327.2) scale(1.18 1)" fill="#fff" font-size="23" font-weight="bold" text-anchor="middle" font-family="Liberation Sans, sans-serif" stroke="#fff" stroke-width="0.4" stroke-linejoin="round">2</text>
</g>
<rect x="17" y="1.2" width="38.8" height="38.8" fill="#000"/><text transform="translate(35.35 33.4) scale(0.925 1)" fill="#fff" font-size="35.2" text-anchor="middle" font-family="Liberation Sans, sans-serif" stroke="#fff" stroke-width="1.2" stroke-linejoin="round">A</text>
<rect x="18.1" y="371.6" width="38.6" height="38.8" fill="#000"/><text transform="translate(35.7 403.3) scale(0.93 1)" fill="#fff" font-size="33.8" text-anchor="middle" font-family="Liberation Sans, sans-serif" stroke="#fff" stroke-width="1.2" stroke-linejoin="round">B</text><rect x="68.1" y="392.8" width="242.00000000000003" height="323.2" fill="none" stroke="#000" stroke-width="2.2"/><path d="M68.1 675.6h7.5M68.1 594.8h7.5M68.1 514.0h7.5M68.1 433.2h7.5M68.1 635.2h4.3M68.1 554.4h4.3M68.1 473.6h4.3M83.2 716.0v-7.5M113.5 716.0v-7.5M143.7 716.0v-7.5M173.9 716.0v-7.5M204.2 716.0v-7.5M234.4 716.0v-7.5M264.7 716.0v-7.5M294.9 716.0v-7.5M68.1 716.0v-4.3M98.3 716.0v-4.3M128.6 716.0v-4.3M158.8 716.0v-4.3M189.1 716.0v-4.3M219.3 716.0v-4.3M249.6 716.0v-4.3M279.8 716.0v-4.3M310.1 716.0v-4.3" stroke="#000" stroke-width="2" fill="none"/><text x="61" y="680.6" font-size="20" font-weight="bold" text-anchor="end" font-family="Liberation Sans, sans-serif">7</text><text x="61" y="599.8" font-size="20" font-weight="bold" text-anchor="end" font-family="Liberation Sans, sans-serif">8</text><text x="61" y="519.0" font-size="20" font-weight="bold" text-anchor="end" font-family="Liberation Sans, sans-serif">9</text><text x="61" y="438.2" font-size="20" font-weight="bold" text-anchor="end" font-family="Liberation Sans, sans-serif">10</text><text x="83.5" y="738.8" font-size="20" font-weight="bold" text-anchor="middle" font-family="Liberation Sans, sans-serif">0</text><text x="113.8" y="738.8" font-size="20" font-weight="bold" text-anchor="middle" font-family="Liberation Sans, sans-serif">2</text><text x="144.0" y="738.8" font-size="20" font-weight="bold" text-anchor="middle" font-family="Liberation Sans, sans-serif">4</text><text x="174.2" y="738.8" font-size="20" font-weight="bold" text-anchor="middle" font-family="Liberation Sans, sans-serif">6</text><text x="204.5" y="738.8" font-size="20" font-weight="bold" text-anchor="middle" font-family="Liberation Sans, sans-serif">8</text><text x="234.8" y="738.8" font-size="20" font-weight="bold" text-anchor="middle" font-family="Liberation Sans, sans-serif">10</text><text x="265.0" y="738.8" font-size="20" font-weight="bold" text-anchor="middle" font-family="Liberation Sans, sans-serif">12</text><text x="295.2" y="738.8" font-size="20" font-weight="bold" text-anchor="middle" font-family="Liberation Sans, sans-serif">14</text><text x="189" y="773" font-size="19.5" font-weight="bold" text-anchor="middle" font-family="Liberation Sans, sans-serif">% SM</text><text transform="translate(23.0 613.5) rotate(-90)" font-size="20" font-weight="bold" font-family="Liberation Sans, sans-serif"><tspan font-weight="bold" font-style="italic">D</tspan> [&#956;m<tspan font-size="12" dy="-10.5">2</tspan><tspan dy="10.5">/s]</tspan></text><path d="M83.2 404.5V461.4M79.0 404.5H87.4M79.0 461.4H87.4" stroke="#000" stroke-width="2.4" fill="none"/><path d="M158.8 394.3V467.0M154.6 394.3H163.0M154.6 467.0H163.0" stroke="#000" stroke-width="2.4" fill="none"/><path d="M204.2 414.7V451.8M200.0 414.7H208.4M200.0 451.8H208.4" stroke="#000" stroke-width="2.4" fill="none"/><path d="M234.4 426.5V457.2M230.2 426.5H238.6M230.2 457.2H238.6" stroke="#000" stroke-width="2.4" fill="none"/><path d="M264.7 433.3V484.6M260.5 433.3H268.9M260.5 484.6H268.9" stroke="#000" stroke-width="2.4" fill="none"/><path d="M294.9 459.3V500.5M290.8 459.3H299.1M290.8 500.5H299.1" stroke="#000" stroke-width="2.4" fill="none"/><rect x="78.9" y="428.8" width="8.6" height="8.6" fill="#fff" stroke="#000" stroke-width="1.2"/><rect x="154.5" y="425.9" width="8.6" height="8.6" fill="#fff" stroke="#000" stroke-width="1.2"/><rect x="199.9" y="429.0" width="8.6" height="8.6" fill="#fff" stroke="#000" stroke-width="1.2"/><rect x="229.5" y="436.7" width="9.8" height="9.8" fill="#000"/><rect x="259.8" y="453.8" width="9.8" height="9.8" fill="#000"/><rect x="290.1" y="475.1" width="9.8" height="9.8" fill="#000"/><path d="M83.2 458.3V505.1M79.0 458.3H87.4M79.0 505.1H87.4" stroke="#f00" stroke-width="2.4" fill="none"/><path d="M158.8 483.6V525.5M154.6 483.6H163.0M154.6 525.5H163.0" stroke="#f00" stroke-width="2.4" fill="none"/><path d="M204.2 471.1V496.4M200.0 471.1H208.4M200.0 496.4H208.4" stroke="#f00" stroke-width="2.4" fill="none"/><path d="M234.4 484.9V554.6M230.2 484.9H238.6M230.2 554.6H238.6" stroke="#f00" stroke-width="2.4" fill="none"/><path d="M264.7 484.5V534.3M260.5 484.5H268.9M260.5 534.3H268.9" stroke="#f00" stroke-width="2.4" fill="none"/><path d="M294.9 528.7V565.9M290.8 528.7H299.1M290.8 565.9H299.1" stroke="#f00" stroke-width="2.4" fill="none"/><circle cx="83.2" cy="481.5" r="4.75" fill="#fff" stroke="#f00" stroke-width="1.2"/><circle cx="158.8" cy="504.7" r="4.75" fill="#fff" stroke="#f00" stroke-width="1.2"/><circle cx="204.2" cy="484.2" r="4.75" fill="#fff" stroke="#f00" stroke-width="1.2"/><circle cx="234.4" cy="519.8" r="5.05" fill="#f00" stroke="#d00" stroke-width="0.6"/><circle cx="264.7" cy="509.4" r="5.05" fill="#f00" stroke="#d00" stroke-width="0.6"/><circle cx="294.9" cy="547.2" r="5.05" fill="#f00" stroke="#d00" stroke-width="0.6"/><path d="M71.5 432.5H200.0" stroke="#000" stroke-width="2.4" stroke-dasharray="11.6 11.7" fill="none"/><path d="M224.5 460.8H306.0" stroke="#000" stroke-width="2.4" stroke-dasharray="11.6 11.7" fill="none"/><path d="M67.6 489.1H215.0" stroke="#f00" stroke-width="2.4" stroke-dasharray="11.6 11.7" fill="none"/><path d="M221.5 525.0H303.0" stroke="#f00" stroke-width="2.4" stroke-dasharray="11.6 11.7" fill="none"/><circle cx="102.5" cy="644.0" r="4.75" fill="#fff" stroke="#f00" stroke-width="1.2"/><circle cx="144.6" cy="644.0" r="5.05" fill="#f00" stroke="#d00" stroke-width="0.6"/><rect x="98.2" y="662.7" width="8.6" height="8.6" fill="#fff" stroke="#000" stroke-width="1.2"/><rect x="139.7" y="662.1" width="9.8" height="9.8" fill="#000"/><text x="170.5" y="650.3" font-size="18" font-weight="bold" font-family="Liberation Sans, sans-serif">g-GM1</text><text x="170.5" y="673.6" font-size="18" font-weight="bold" font-family="Liberation Sans, sans-serif">DiD</text>
<rect x="371.1" y="369.9" width="38.7" height="38.5" fill="#000"/><text transform="translate(391.5 402.2) scale(0.79 1)" fill="#fff" font-size="37.6" text-anchor="middle" font-family="Liberation Sans, sans-serif" stroke="#fff" stroke-width="1.1" stroke-linejoin="round">C</text><rect x="422.5" y="390.8" width="247.10000000000002" height="330.8" fill="none" stroke="#000" stroke-width="2.2"/><path d="M422.5 680.2h7.5M422.5 597.5h7.5M422.5 514.9h7.5M422.5 432.2h7.5M422.5 638.9h4.3M422.5 556.2h4.3M422.5 473.5h4.3M437.8 721.6v-7.5M468.7 721.6v-7.5M499.7 721.6v-7.5M530.6 721.6v-7.5M561.6 721.6v-7.5M592.5 721.6v-7.5M623.4 721.6v-7.5M654.4 721.6v-7.5M422.3 721.6v-4.3M453.3 721.6v-4.3M484.2 721.6v-4.3M515.1 721.6v-4.3M546.1 721.6v-4.3M577.0 721.6v-4.3M608.0 721.6v-4.3M638.9 721.6v-4.3M669.9 721.6v-4.3" stroke="#000" stroke-width="2" fill="none"/><text x="414.5" y="685.2" font-size="20" font-weight="bold" text-anchor="end" font-family="Liberation Sans, sans-serif">7</text><text x="414.5" y="602.5" font-size="20" font-weight="bold" text-anchor="end" font-family="Liberation Sans, sans-serif">8</text><text x="414.5" y="519.9" font-size="20" font-weight="bold" text-anchor="end" font-family="Liberation Sans, sans-serif">9</text><text x="414.5" y="437.2" font-size="20" font-weight="bold" text-anchor="end" font-family="Liberation Sans, sans-serif">10</text><text x="438.1" y="744.4" font-size="20" font-weight="bold" text-anchor="middle" font-family="Liberation Sans, sans-serif">0</text><text x="469.0" y="744.4" font-size="20" font-weight="bold" text-anchor="middle" font-family="Liberation Sans, sans-serif">2</text><text x="500.0" y="744.4" font-size="20" font-weight="bold" text-anchor="middle" font-family="Liberation Sans, sans-serif">4</text><text x="530.9" y="744.4" font-size="20" font-weight="bold" text-anchor="middle" font-family="Liberation Sans, sans-serif">6</text><text x="561.9" y="744.4" font-size="20" font-weight="bold" text-anchor="middle" font-family="Liberation Sans, sans-serif">8</text><text x="592.8" y="744.4" font-size="20" font-weight="bold" text-anchor="middle" font-family="Liberation Sans, sans-serif">10</text><text x="623.7" y="744.4" font-size="20" font-weight="bold" text-anchor="middle" font-family="Liberation Sans, sans-serif">12</text><text x="654.7" y="744.4" font-size="20" font-weight="bold" text-anchor="middle" font-family="Liberation Sans, sans-serif">14</text><text x="548" y="774" font-size="19.5" font-weight="bold" text-anchor="middle" font-family="Liberation Sans, sans-serif">% SM</text><text transform="translate(375.6 616.2) rotate(-90)" font-size="20" font-weight="bold" font-family="Liberation Sans, sans-serif"><tspan font-weight="bold" font-style="italic">D</tspan> [&#956;m<tspan font-size="12" dy="-10.5">2</tspan><tspan dy="10.5">/s]</tspan></text><path d="M437.8 463.5V529.5M433.6 463.5H442.0M433.6 529.5H442.0" stroke="#000" stroke-width="2.4" fill="none"/><path d="M515.1 455.1V535.5M510.9 455.1H519.4M510.9 535.5H519.4" stroke="#000" stroke-width="2.4" fill="none"/><path d="M561.6 530.4V550.5M557.4 530.4H565.8M557.4 550.5H565.8" stroke="#000" stroke-width="2.4" fill="none"/><path d="M592.5 555.1V588.3M588.3 555.1H596.7M588.3 588.3H596.7" stroke="#000" stroke-width="2.4" fill="none"/><path d="M623.4 509.7V536.4M619.2 509.7H627.6M619.2 536.4H627.6" stroke="#000" stroke-width="2.4" fill="none"/><rect x="433.5" y="491.9" width="8.6" height="8.6" fill="#fff" stroke="#000" stroke-width="1.2"/><rect x="510.2" y="489.5" width="9.8" height="9.8" fill="#000"/><rect x="556.7" y="535.7" width="9.8" height="9.8" fill="#000"/><rect x="587.6" y="567.0" width="9.8" height="9.8" fill="#000"/><rect x="619.1" y="518.6" width="8.6" height="8.6" fill="#fff" stroke="#000" stroke-width="1.2"/><rect x="623.4" y="518.0" width="4.9" height="9.8" fill="#000"/><path d="M437.8 492.9V519.1M433.6 492.9H442.0M433.6 519.1H442.0" stroke="#f00" stroke-width="2.4" fill="none"/><path d="M515.1 542.4V612.3M510.9 542.4H519.4M510.9 612.3H519.4" stroke="#f00" stroke-width="2.4" fill="none"/><path d="M561.6 565.0V608.2M557.4 565.0H565.8M557.4 608.2H565.8" stroke="#f00" stroke-width="2.4" fill="none"/><path d="M592.5 641.4V683.0M588.3 641.4H596.7M588.3 683.0H596.7" stroke="#f00" stroke-width="2.4" fill="none"/><path d="M623.4 516.3V620.7M619.2 516.3H627.6M619.2 620.7H627.6" stroke="#f00" stroke-width="2.4" fill="none"/><circle cx="437.8" cy="506.0" r="4.75" fill="#fff" stroke="#f00" stroke-width="1.2"/><circle cx="515.1" cy="577.7" r="5.05" fill="#f00" stroke="#d00" stroke-width="0.6"/><circle cx="561.6" cy="586.4" r="5.05" fill="#f00" stroke="#d00" stroke-width="0.6"/><circle cx="592.5" cy="662.2" r="5.05" fill="#f00" stroke="#d00" stroke-width="0.6"/><circle cx="623.4" cy="568.5" r="4.75" fill="#fff" stroke="#f00" stroke-width="1.2"/><path d="M623.4 563.2A5.2 5.2 0 0 1 623.4 573.8Z" fill="#f00"/><path d="M422.0 496.5H482.0" stroke="#000" stroke-width="2.4" stroke-dasharray="12 12.2" fill="none"/><path d="M421.6 505.3H482.0" stroke="#f00" stroke-width="2.4" stroke-dasharray="11.7 12.1" fill="none"/><path d="M509.3 535.3H619.0" stroke="#000" stroke-width="2.4" stroke-dasharray="11.7 12.1" fill="none"/><path d="M510.5 608.5H618.0" stroke="#f00" stroke-width="2.4" stroke-dasharray="11.7 12.1" fill="none"/><path d="M437.8 501V529.5M433.6 529.5H442" stroke="#000" stroke-width="2.4" fill="none"/><circle cx="481.2" cy="410.7" r="4.75" fill="#fff" stroke="#f00" stroke-width="1.2"/><circle cx="524.1" cy="410.7" r="5.05" fill="#f00" stroke="#d00" stroke-width="0.6"/><circle cx="572.6" cy="410.6" r="4.75" fill="#fff" stroke="#f00" stroke-width="1.2"/><path d="M572.6 405.4A5.2 5.2 0 0 1 572.6 415.9Z" fill="#f00"/><rect x="476.9" y="430.1" width="8.6" height="8.6" fill="#fff" stroke="#000" stroke-width="1.2"/><rect x="519.2" y="429.5" width="9.8" height="9.8" fill="#000"/><rect x="562.7" y="430.0" width="8.6" height="8.6" fill="#fff" stroke="#000" stroke-width="1.2"/><rect x="567.0" y="429.4" width="4.9" height="9.8" fill="#000"/><text x="593.9" y="417.2" font-size="18" font-weight="bold" font-family="Liberation Sans, sans-serif">g-GM1</text><text x="593.9" y="440.5" font-size="18" font-weight="bold" font-family="Liberation Sans, sans-serif">DiD</text>
</svg>
</body></html>
